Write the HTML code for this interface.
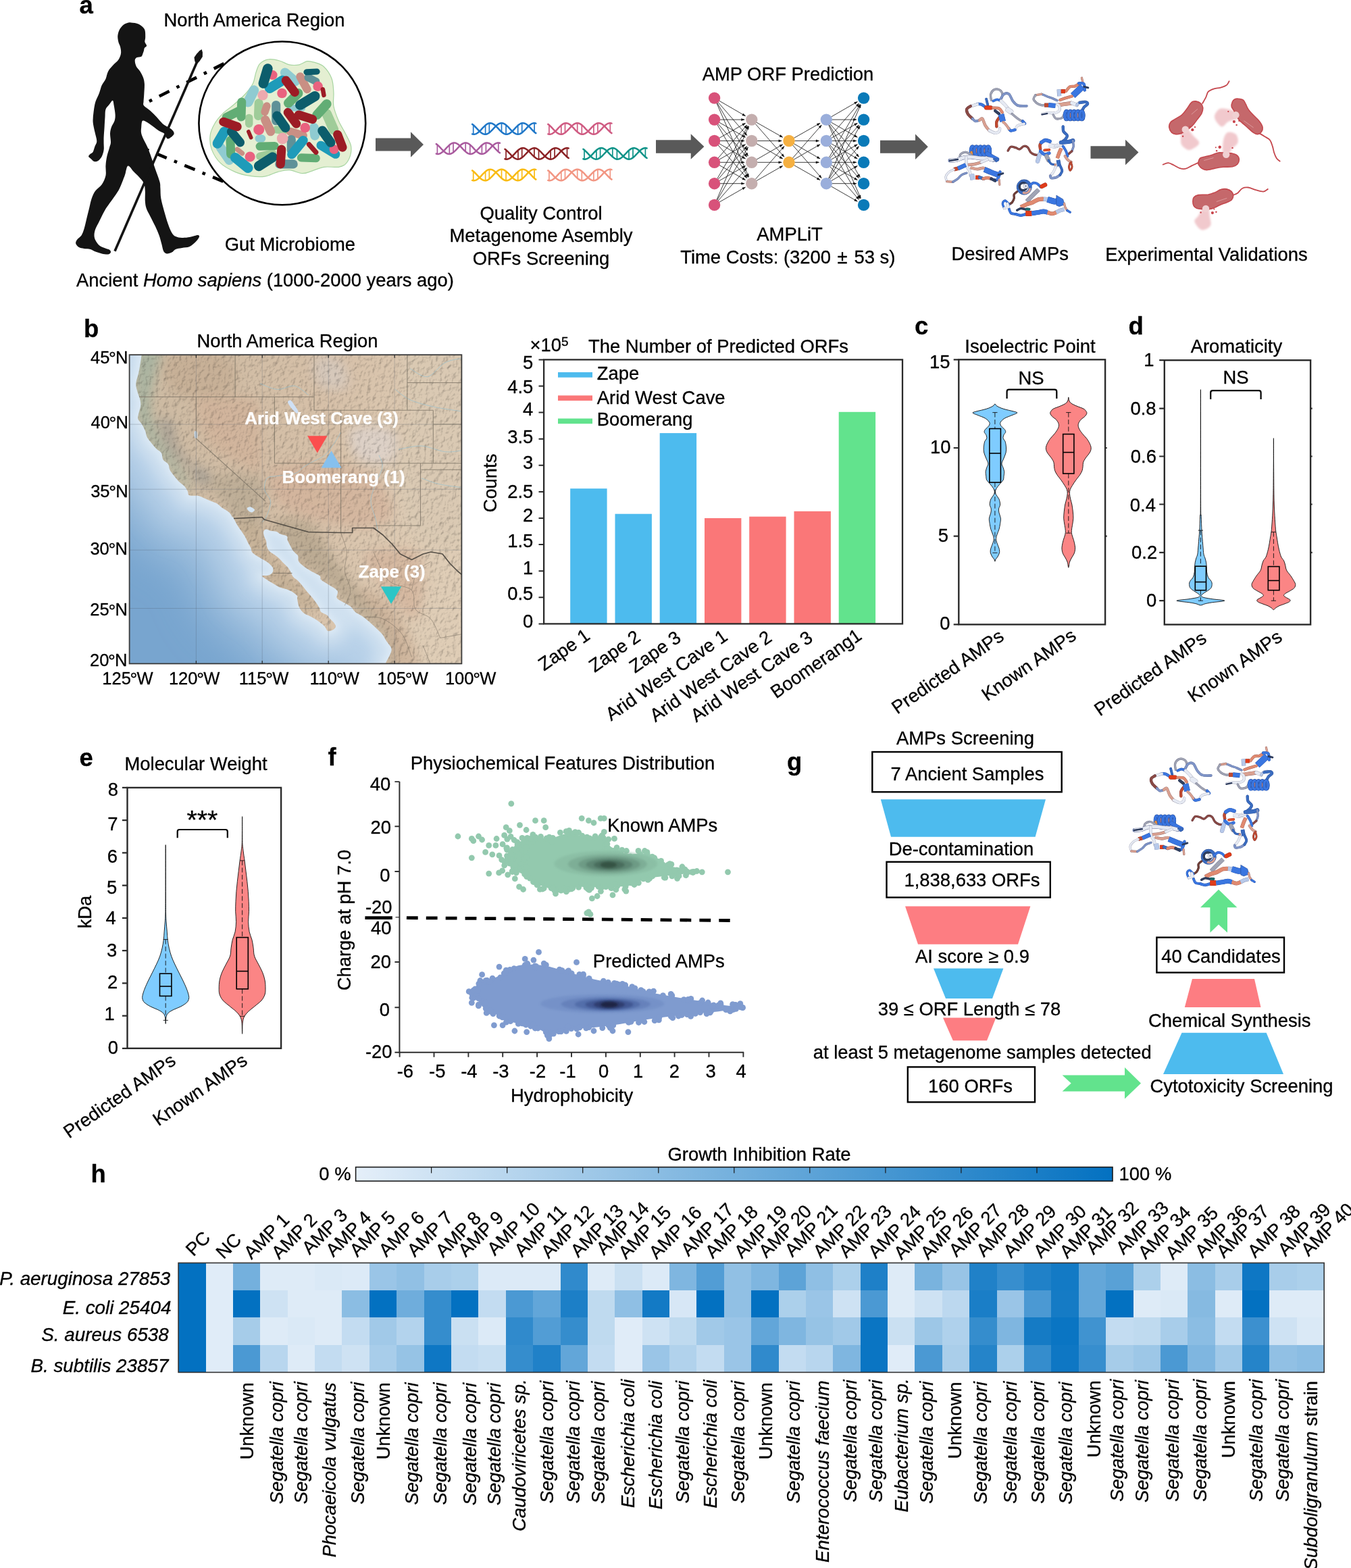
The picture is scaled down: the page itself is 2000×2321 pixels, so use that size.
<!DOCTYPE html>
<html lang="en"><head><meta charset="utf-8"><title>Figure 1</title>
<style>
html,body{margin:0;padding:0;background:#fff}
body{width:2000px;height:2321px;overflow:hidden}
svg{display:block}
svg{font-family:"Liberation Sans",Arial,Helvetica,sans-serif;font-size:27.4px}
svg text{stroke:#000;stroke-width:.32px;stroke-linejoin:round}
svg .wl text{stroke:#fff;stroke-width:.25px}
</style></head><body>
<svg xmlns="http://www.w3.org/2000/svg" width="2000" height="2321" viewBox="0 0 2000 2321">
<defs>
<filter id="blur2" x="-30%" y="-30%" width="160%" height="160%"><feGaussianBlur stdDeviation="1.6"/></filter>
<filter id="blur4" x="-30%" y="-30%" width="160%" height="160%"><feGaussianBlur stdDeviation="4"/></filter>
<filter id="blur8" x="-30%" y="-30%" width="160%" height="160%"><feGaussianBlur stdDeviation="8"/></filter>
<filter id="blur30" x="-40%" y="-40%" width="180%" height="180%"><feGaussianBlur stdDeviation="30"/></filter>
<filter id="blur20" x="-40%" y="-40%" width="180%" height="180%"><feGaussianBlur stdDeviation="20"/></filter>
<filter id="blur10" x="-40%" y="-40%" width="180%" height="180%"><feGaussianBlur stdDeviation="10"/></filter>
<filter id="blur14" x="-30%" y="-30%" width="160%" height="160%"><feGaussianBlur stdDeviation="16"/></filter>
<filter id="relief" x="0" y="0" width="100%" height="100%" color-interpolation-filters="sRGB"><feTurbulence type="fractalNoise" baseFrequency="0.15 0.12" numOctaves="3" seed="11" result="n"/><feDiffuseLighting in="n" surfaceScale="1.25" diffuseConstant="1.3" lighting-color="#ffffff"><feDistantLight azimuth="225" elevation="50"/></feDiffuseLighting></filter>
<linearGradient id="ocean" x1="0" y1="1" x2="0.75" y2="0.15"><stop offset="0" stop-color="#6b9cc9"/><stop offset="0.45" stop-color="#79a7d1"/><stop offset="0.75" stop-color="#9dc0df"/><stop offset="1" stop-color="#c4daee"/></linearGradient>
<linearGradient id="landg" x1="0" y1="0" x2="1" y2="0.2"><stop offset="0" stop-color="#ccbaa2"/><stop offset="0.6" stop-color="#d6c0a8"/><stop offset="1" stop-color="#dfcdb6"/></linearGradient>
<linearGradient id="cbar" x1="0" y1="0" x2="1" y2="0"><stop offset="0" stop-color="#e5eff9"/><stop offset="1" stop-color="#0371c1"/></linearGradient>
</defs>
<g id="pa"><path d="M180.5 170.4L332.8 93.5" stroke="#000" stroke-width="4.6" stroke-dasharray="4.6 12.05 16.6 12.05" fill="none"/><path d="M193.6 211.7L330.4 268.6" stroke="#000" stroke-width="4.6" stroke-dasharray="16.6 12.05 4.6 12.05" stroke-dashoffset="4.4" fill="none"/><path d="M194.1 33.5C196.9 33.8 202.1 34.1 205.4 35.8C208.7 37.4 212.2 40.1 213.9 43.3C215.5 46.4 215.1 51.4 215.2 54.6C215.3 57.7 214.1 59.9 214.4 62.1C214.7 64.3 217.2 66.2 217.1 67.8C217 69.3 214.5 69.9 213.9 71.1C213.2 72.4 213.3 73.9 212.9 75.3C212.5 76.7 212 78 211.4 79.4C210.8 80.8 210.6 82.8 209.2 83.7C207.7 84.7 204.1 84.1 202.6 85.1C201 86 199.9 87.3 199.7 89.4C199.6 91.5 200.4 95.2 201.6 97.9C202.9 100.5 205.5 102.6 207.3 105.4C209 108.2 210.9 111.7 212 114.8C213.1 117.9 213.6 120.1 213.9 124.2C214.1 128.3 213.5 134.9 213.3 139.3C213.1 143.7 212.6 147.7 212.5 150.6C212.5 153.4 211.3 154 212.9 156.2C214.5 158.4 219.2 160.9 222.3 163.7C225.5 166.6 228.6 169.8 231.7 173.1C234.9 176.4 238 180.8 241.1 183.5C244.3 186.2 248 187.4 250.6 189.1C253.1 190.9 255 192.3 256.2 193.8C257.4 195.4 258 197 257.5 198.5C257 200.1 254.9 201.7 253.4 202.9C251.9 204 249.9 205.4 248.7 205.5C247.4 205.6 246.8 204.6 245.9 203.3C244.9 201.9 244.8 199.2 243 197.6C241.3 196 238 195.4 235.5 193.8C233 192.3 230.8 190.2 228 188.2C225.1 186.2 221.4 183.2 218.6 181.6C215.7 180 212.6 177.7 211 178.8C209.5 179.9 209.5 185.1 209.2 188.2C208.8 191.3 208.5 194.5 209.2 197.6C209.8 200.7 211.3 203.6 212.9 207C214.5 210.5 216.7 213.9 218.6 218.3C220.4 222.7 222.3 228 224.2 233.4C226.1 238.7 227.8 244.3 229.9 250.3C231.9 256.3 235.2 264.4 236.4 269.1C237.7 273.8 237.1 274.5 237.4 278.5C237.7 282.6 237.4 287.9 238.3 293.6C239.3 299.2 241.3 306.1 243 312.4C244.8 318.7 246.8 325.9 248.7 331.2C250.6 336.6 252.4 341.3 254.3 344.4C256.2 347.5 257.5 348.8 260 350C262.5 351.3 265.9 351.8 269.4 351.9C272.8 352.1 277.5 351.5 280.7 351C283.8 350.5 286 349.6 288.2 349.1C290.4 348.6 292.7 347.8 293.8 348.2C294.9 348.5 295.4 349.4 294.8 351C294.2 352.6 292.4 355.2 290.1 357.6C287.7 359.9 284.1 363.5 280.7 365.1C277.2 366.7 272.8 366.4 269.4 367C265.9 367.6 262.5 367.8 260 368.9C257.5 370 256.5 372.5 254.3 373.6C252.1 374.7 248.8 375.8 246.8 375.4C244.8 375.1 243.3 374 242.1 371.7C240.8 369.3 240.4 365.3 239.3 361.3C238.2 357.4 237.1 352.6 235.5 348.2C233.9 343.8 232.1 339.7 229.9 335C227.7 330.3 224.5 324.3 222.3 319.9C220.1 315.5 217.9 312.4 216.7 308.6C215.4 304.9 215.1 301.7 214.8 297.3C214.5 293 215.1 286.7 214.8 282.3C214.5 277.9 214.5 274.5 212.9 271C211.3 267.6 207.9 264.4 205.4 261.6C202.9 258.8 200.5 256.7 197.9 254.1C195.2 251.4 191.6 244.7 189.4 245.6C187.2 246.5 186.7 254.2 184.7 259.7C182.6 265.2 179.4 273.8 177.2 278.5C175 283.2 174 284.2 171.5 287.9C169 291.7 164.9 297 162.1 301.1C159.3 305.2 157.1 308 154.6 312.4C152.1 316.8 149.2 323.1 147 327.5C144.9 331.9 142.7 335.3 141.4 338.8C140.1 342.2 139.5 345.3 139.5 348.2C139.5 351 140.1 353.2 141.4 355.7C142.7 358.2 144.9 361.3 147 363.2C149.2 365.1 152.1 365.9 154.6 367C157.1 368.1 160.5 368.7 162.1 369.8C163.7 370.9 164.3 372.5 164 373.6C163.7 374.7 162.4 376.1 160.2 376.4C158 376.7 153.9 376.1 150.8 375.4C147.7 374.8 144.2 373.7 141.4 372.6C138.6 371.5 136.7 369.6 133.9 368.9C131.1 368.1 127.3 368.4 124.5 367.9C121.6 367.5 119 367.3 116.9 366C114.9 364.8 112.7 362.3 112.2 360.4C111.8 358.5 112.7 356.8 114.1 354.7C115.5 352.7 119 350.8 120.7 348.2C122.4 345.5 123.2 342.8 124.5 338.8C125.7 334.7 127 328.7 128.2 323.7C129.5 318.7 130.7 313.7 132 308.6C133.2 303.6 134.2 298 135.8 293.6C137.3 289.2 138.9 285.7 141.4 282.3C143.9 278.8 148.3 276.6 150.8 272.9C153.3 269.1 155.5 264.4 156.5 259.7C157.4 255 156.1 249.4 156.5 244.7C156.8 239.9 157.4 235.9 158.3 231.5C159.3 227.1 161.2 221.8 162.1 218.3C163 214.9 163.8 214.2 164 210.8C164.1 207.3 162.9 201.4 163 197.6C163.2 193.8 163.8 191.3 164.9 188.2C166 185.1 168.7 181.9 169.6 178.8C170.6 175.6 170.7 173.1 170.6 169.4C170.4 165.6 169.3 159.7 168.7 156.2C168.1 152.8 167.9 149 166.8 148.7C165.7 148.4 163.8 152.1 162.1 154.3C160.4 156.5 157.6 158.7 156.5 161.8C155.4 165 155.8 168.7 155.5 173.1C155.2 177.5 154.9 183.2 154.6 188.2C154.3 193.2 153.8 199.2 153.6 203.3C153.5 207.3 153.6 209.5 153.6 212.7C153.6 215.8 154.1 218.9 153.6 222.1C153.2 225.2 152.2 228.8 150.8 231.5C149.4 234.1 147 236.8 145.2 238.1C143.3 239.3 141.2 239.5 139.5 239C137.8 238.5 136.2 236.5 134.8 235.2C133.4 234 131.2 232.7 131.1 231.5C130.9 230.2 132.8 228.8 133.9 227.7C135 226.6 136.5 226.8 137.6 224.9C138.7 223 139.5 219.1 140.5 216.4C141.4 213.8 143.3 212.3 143.3 208.9C143.3 205.4 141.4 200.4 140.5 195.7C139.5 191 138 185.7 137.6 180.7C137.3 175.6 138 170.6 138.6 165.6C139.2 160.6 140 155.3 141.4 150.6C142.8 145.9 145.5 141.5 147 137.4C148.6 133.3 149.2 129.5 150.8 126.1C152.4 122.6 154.9 120.1 156.5 116.7C158 113.2 158.3 108.8 160.2 105.4C162.1 101.9 165.2 98.8 167.8 96C170.3 93.2 173.4 91.3 175.3 88.5C177.2 85.6 178.6 82.2 179 79C179.5 75.9 178.7 72.5 178.1 69.6C177.5 66.8 175.9 64.9 175.3 62.1C174.7 59.3 174 55.8 174.3 52.7C174.7 49.6 175.7 46 177.2 43.3C178.6 40.6 180.9 38.3 182.8 36.7C184.7 35.1 186.6 34.4 188.5 33.9C190.3 33.3 191.3 33.2 194.1 33.5Z" fill="#141414"/><path d="M170 371.7L292.3 90" stroke="#141414" stroke-width="3.6" fill="none"/><path d="M298.6 73L299.9 77.4L299.8 84.1L295.7 90.3L290.6 95.7L288.3 90.3L287.5 84.9L291.1 79.7L295.3 75.3Z" fill="#141414"/><path d="M384.7 94.3C387.8 91.1 392.9 88.5 397.8 87.8C402.6 87 408.7 88.6 413.8 90C418.9 91.3 423.5 94.8 428.4 95.8C433.2 96.8 438.6 96.6 442.9 95.8C447.3 94.9 451 91.3 454.6 90.7C458.2 90.1 460.7 90.8 464.8 92.1C468.9 93.5 475 94.7 479.4 98.7C483.7 102.7 488.6 109.9 491 116.2C493.4 122.5 493.4 129.8 493.9 136.6C494.4 143.4 492.7 149.9 493.9 157C495.1 164 498.3 172 501.2 178.8C504.1 185.6 508.4 191.7 511.4 197.7C514.4 203.8 518.2 209.9 519.4 215.2C520.6 220.6 520 225.2 518.7 229.8C517.3 234.4 514.3 240 511.4 242.9C508.5 245.8 506.5 246.5 501.2 247.3C495.9 248 485.9 246.3 479.4 247.3C472.8 248.2 467.2 251.5 461.9 253.1C456.5 254.7 452.9 257 447.3 256.7C441.7 256.5 434.4 252 428.4 251.6C422.3 251.3 417 253 410.9 254.6C404.8 256.1 398.8 260.1 392 261.1C385.2 262.1 377.4 261.5 370.1 260.4C362.8 259.3 355.5 257.7 348.3 254.6C341 251.4 332.2 247 326.4 241.4C320.6 235.9 315.9 227.8 313.3 221.1C310.8 214.3 310.4 207 311.1 200.7C311.8 194.3 314.6 188.5 317.7 183.2C320.7 177.8 324.7 173.2 329.3 168.6C333.9 164 339.8 160.4 345.4 155.5C350.9 150.6 358 144.8 362.8 139.5C367.7 134.1 371.8 128.8 374.5 123.5C377.2 118.1 377.2 112.3 378.9 107.4C380.6 102.6 381.5 97.6 384.7 94.3Z" fill="#e4efd2" stroke="#a8d5a2" stroke-width="1.2"/><g stroke="#8fcbd1" stroke-linecap="round" fill="none"><path d="M421.8 107.4L437.1 120.5" stroke-width="13.9"/><path d="M375.9 133.7L367.2 151.1" stroke-width="14.7"/><path d="M326.4 218.1L339.5 237.1" stroke-width="13.9"/><path d="M464.8 189L466.2 200.7" stroke-width="13.9"/><path d="M383.2 205L387.6 205" stroke-width="11.4"/><path d="M429.8 159.9L447.3 159.9" stroke-width="9.8"/></g><g stroke="#9fcc99" stroke-linecap="round" fill="none"><path d="M383.2 152.6L382.5 171.5" stroke-width="13.1"/><path d="M483.7 168.6L493.9 191.9" stroke-width="14.7"/><path d="M368.7 174.4L368.7 183.2" stroke-width="11.4"/><path d="M384.7 231.2L403.6 226.9" stroke-width="11.4"/><path d="M409.4 191.9L421.1 193.4" stroke-width="11.4"/></g><g stroke="#c98f84" stroke-linecap="round" fill="none"><path d="M444.4 113.3L454.6 132.2" stroke-width="12.2"/><path d="M394.9 157L392 165.7" stroke-width="11.4"/><path d="M392.7 177.4L400.7 194.8" stroke-width="13.1"/><path d="M429.8 194.8L448.8 200.7" stroke-width="12.2"/><path d="M351.2 221.1L358.5 226.9" stroke-width="7.3"/></g><g stroke="#5f9198" stroke-linecap="round" fill="none"><path d="M408.7 155.5L408.7 178.8" stroke-width="13.1"/><path d="M456.1 114.7L467.7 120.5" stroke-width="11.4"/><path d="M431.3 206.5L431.3 222.5" stroke-width="13.1"/><path d="M413.8 242.9L434.2 242.9" stroke-width="13.1"/></g><g stroke="#62ad75" stroke-linecap="round" fill="none"><path d="M357.7 151.1L357 173" stroke-width="13.1"/><path d="M335.2 173.7L354.1 164.2" stroke-width="13.1"/><path d="M426.9 152.6L441.5 138" stroke-width="13.9"/><path d="M469.2 170.1L483.7 154" stroke-width="13.9"/><path d="M384.7 216.7L406.5 216" stroke-width="12.2"/><path d="M341 207.9L341.7 228.3" stroke-width="13.1"/><path d="M445.9 233.4L467.7 234.2" stroke-width="12.2"/></g><g stroke="#1e9bb9" stroke-linecap="round" fill="none"><path d="M399.2 130.7L418.2 119.1" stroke-width="14.7"/><path d="M332.2 194.8L322 212.3" stroke-width="14.7"/><path d="M348.3 233.4L367.2 248.7" stroke-width="14.7"/><path d="M432 228.3L448.8 207.9" stroke-width="13.9"/><path d="M475 215.2L496.8 228.3" stroke-width="13.1"/></g><g fill="#e9627f"><circle cx="403.6" cy="111.1" r="7"/><circle cx="417.5" cy="138" r="7.3"/><circle cx="470.6" cy="127.8" r="7.3"/><circle cx="383.2" cy="191.9" r="8"/><circle cx="451.7" cy="189" r="7.3"/><circle cx="370.1" cy="232" r="7.6"/><circle cx="494.6" cy="221.1" r="7"/></g><g fill="#eda9ae"><circle cx="389" cy="140.9" r="7.6"/><circle cx="418.2" cy="205" r="8.4"/></g><g stroke="#0c5d6c" stroke-linecap="round" fill="none"><path d="M396.3 101.6L389.8 123.5" stroke-width="14.7"/><path d="M453.9 106.7L469.2 106" stroke-width="9"/><path d="M444.4 155.5L466.2 142.4" stroke-width="14.7"/><path d="M410.2 171.5L422.5 189" stroke-width="13.9"/><path d="M342.4 194.8L355.5 210.9" stroke-width="13.1"/><path d="M477.2 193.4L489.6 210.9" stroke-width="13.9"/><path d="M383.2 245.8L403.6 232.7" stroke-width="14.7"/></g><g stroke="#9c1c25" stroke-linecap="round" fill="none"><path d="M423.3 119.1L436.4 136.6" stroke-width="13.1"/><path d="M330.8 180.3L351.2 187.5" stroke-width="13.1"/><path d="M426.2 166.4L438.6 183.2" stroke-width="13.1"/><path d="M442.2 170.1L462.6 176.6" stroke-width="13.1"/><path d="M416.7 221.1L415.3 242.9" stroke-width="13.1"/><path d="M499.7 199.2L507 218.1" stroke-width="13.1"/><path d="M477.9 132.2L479.4 140.9" stroke-width="6.5"/><path d="M367.9 194.8L371.6 203.6" stroke-width="5.7"/><path d="M457.5 213.8L467.7 225.4" stroke-width="7.3"/></g><ellipse cx="417.8" cy="182.4" rx="123.4" ry="120.9" fill="none" stroke="#000" stroke-width="2.6"/><path d="M556 204.5L608 204.5L608 195.2L627 214L608 232.8L608 223.5L556 223.5Z" fill="#595959"/><path d="M971 207.2L1022.7 207.2L1022.7 198.2L1042.4 217L1022.7 235.8L1022.7 226.8L971 226.8Z" fill="#595959"/><path d="M1303 207.8L1355 207.8L1355 198.6L1373.8 217.3L1355 236.1L1355 226.8L1303 226.8Z" fill="#595959"/><path d="M1614.5 216.2L1666 216.2L1666 206.8L1685.5 225.5L1666 244.2L1666 234.8L1614.5 234.8Z" fill="#595959"/><g stroke="#1f77c8" fill="none" stroke-width="2.5" stroke-linecap="round" stroke-linejoin="round"><path d="M699.1 183.9L700.7 185L702.2 186.4L703.8 188L705.4 189.6L707 191.3L708.5 193L710.1 194.5L711.7 195.9L713.2 197.1L714.8 198L716.4 198.5L717.9 198.8L719.5 198.7L721.1 198.3L722.6 197.5L724.2 196.5L725.8 195.2L727.4 193.7L728.9 192.1L730.5 190.4L732.1 188.7L733.6 187.1L735.2 185.6L736.8 184.4L738.4 183.4L739.9 182.7L741.5 182.3L743.1 182.2L744.6 182.5L746.2 183.1L747.8 184.1L749.3 185.3L750.9 186.7L752.5 188.2L754.1 189.9L755.6 191.6L757.2 193.2L758.8 194.8L760.3 196.1L761.9 197.2L763.5 198.1L765 198.6L766.6 198.8L768.2 198.6L769.8 198.2L771.3 197.4L772.9 196.3L774.5 194.9L776 193.4L777.6 191.8L779.2 190.1L780.7 188.4L782.3 186.8L783.9 185.4L785.5 184.2L787 183.2L788.6 182.6L790.2 182.2L791.7 182.2L793.3 182.6"/><path d="M699.1 198.4L700.7 198.8L702.2 198.8L703.8 198.4L705.4 197.8L707 196.8L708.5 195.6L710.1 194.2L711.7 192.6L713.2 190.9L714.8 189.2L716.4 187.6L717.9 186.1L719.5 184.7L721.1 183.6L722.6 182.8L724.2 182.4L725.8 182.2L727.4 182.4L728.9 182.9L730.5 183.8L732.1 184.9L733.6 186.2L735.2 187.8L736.8 189.4L738.4 191.1L739.9 192.8L741.5 194.3L743.1 195.7L744.6 196.9L746.2 197.9L747.8 198.5L749.3 198.8L750.9 198.7L752.5 198.3L754.1 197.6L755.6 196.6L757.2 195.4L758.8 193.9L760.3 192.3L761.9 190.6L763.5 188.9L765 187.3L766.6 185.8L768.2 184.5L769.8 183.5L771.3 182.7L772.9 182.3L774.5 182.2L776 182.5L777.6 183L779.2 183.9L780.7 185.1L782.3 186.5L783.9 188L785.5 189.7L787 191.4L788.6 193L790.2 194.6L791.7 196L793.3 197.1"/><path d="M700.7 185.1V198.8M718.6 198.8V185.5M724.3 196.4V182.3M742.5 182.2V195.3M749.1 185.1V198.8M766.7 198.8V185.7M772.7 196.4V182.3M791.1 182.2V195.4" stroke-width="1.7"/></g><g stroke="#cf5b82" fill="none" stroke-width="2.5" stroke-linecap="round" stroke-linejoin="round"><path d="M811.3 183.9L812.9 185L814.4 186.4L816 188L817.6 189.6L819.1 191.3L820.7 193L822.3 194.5L823.9 195.9L825.4 197.1L827 198L828.6 198.5L830.1 198.8L831.7 198.7L833.3 198.3L834.8 197.5L836.4 196.5L838 195.2L839.6 193.7L841.1 192.1L842.7 190.4L844.3 188.7L845.8 187.1L847.4 185.6L849 184.4L850.5 183.4L852.1 182.7L853.7 182.3L855.3 182.2L856.8 182.5L858.4 183.1L860 184.1L861.5 185.3L863.1 186.7L864.7 188.2L866.2 189.9L867.8 191.6L869.4 193.2L871 194.8L872.5 196.1L874.1 197.2L875.7 198.1L877.2 198.6L878.8 198.8L880.4 198.6L881.9 198.2L883.5 197.4L885.1 196.3L886.7 194.9L888.2 193.4L889.8 191.8L891.4 190.1L892.9 188.4L894.5 186.8L896.1 185.4L897.6 184.2L899.2 183.2L900.8 182.6L902.4 182.2L903.9 182.2L905.5 182.6"/><path d="M811.3 198.4L812.9 198.8L814.4 198.8L816 198.4L817.6 197.8L819.1 196.8L820.7 195.6L822.3 194.2L823.9 192.6L825.4 190.9L827 189.2L828.6 187.6L830.1 186.1L831.7 184.7L833.3 183.6L834.8 182.8L836.4 182.4L838 182.2L839.6 182.4L841.1 182.9L842.7 183.8L844.3 184.9L845.8 186.2L847.4 187.8L849 189.4L850.5 191.1L852.1 192.8L853.7 194.3L855.3 195.7L856.8 196.9L858.4 197.9L860 198.5L861.5 198.8L863.1 198.7L864.7 198.3L866.2 197.6L867.8 196.6L869.4 195.4L871 193.9L872.5 192.3L874.1 190.6L875.7 188.9L877.2 187.3L878.8 185.8L880.4 184.5L881.9 183.5L883.5 182.7L885.1 182.3L886.7 182.2L888.2 182.5L889.8 183L891.4 183.9L892.9 185.1L894.5 186.5L896.1 188L897.6 189.7L899.2 191.4L900.8 193L902.4 194.6L903.9 196L905.5 197.1"/><path d="M812.9 185.1V198.8M830.8 198.8V185.5M836.5 196.4V182.3M854.7 182.2V195.3M861.3 185.1V198.8M878.9 198.8V185.7M884.9 196.4V182.3M903.3 182.2V195.4" stroke-width="1.7"/></g><g stroke="#a95a9e" fill="none" stroke-width="2.5" stroke-linecap="round" stroke-linejoin="round"><path d="M645.8 213.1L647.4 214.2L648.9 215.6L650.5 217.2L652.1 218.8L653.6 220.5L655.2 222.2L656.8 223.7L658.4 225.1L659.9 226.3L661.5 227.2L663.1 227.7L664.6 228L666.2 227.9L667.8 227.5L669.3 226.7L670.9 225.7L672.5 224.4L674.1 222.9L675.6 221.3L677.2 219.6L678.8 217.9L680.3 216.3L681.9 214.8L683.5 213.6L685 212.6L686.6 211.9L688.2 211.5L689.8 211.4L691.3 211.7L692.9 212.3L694.5 213.3L696 214.5L697.6 215.9L699.2 217.4L700.8 219.1L702.3 220.8L703.9 222.4L705.5 224L707 225.3L708.6 226.4L710.2 227.3L711.7 227.8L713.3 228L714.9 227.8L716.4 227.4L718 226.6L719.6 225.5L721.2 224.1L722.7 222.6L724.3 221L725.9 219.3L727.4 217.6L729 216L730.6 214.6L732.1 213.4L733.7 212.4L735.3 211.8L736.9 211.4L738.4 211.4L740 211.8"/><path d="M645.8 227.6L647.4 228L648.9 228L650.5 227.6L652.1 227L653.6 226L655.2 224.8L656.8 223.4L658.4 221.8L659.9 220.1L661.5 218.4L663.1 216.8L664.6 215.3L666.2 213.9L667.8 212.8L669.3 212L670.9 211.6L672.5 211.4L674.1 211.6L675.6 212.1L677.2 213L678.8 214.1L680.3 215.4L681.9 217L683.5 218.6L685 220.3L686.6 222L688.2 223.5L689.8 224.9L691.3 226.1L692.9 227.1L694.5 227.7L696 228L697.6 227.9L699.2 227.5L700.8 226.8L702.3 225.8L703.9 224.6L705.5 223.1L707 221.5L708.6 219.8L710.2 218.1L711.7 216.5L713.3 215L714.9 213.7L716.4 212.7L718 211.9L719.6 211.5L721.2 211.4L722.7 211.7L724.3 212.2L725.9 213.1L727.4 214.3L729 215.7L730.6 217.2L732.1 218.9L733.7 220.6L735.3 222.2L736.9 223.8L738.4 225.2L740 226.3"/><path d="M647.4 214.3V228M665.3 228V214.7M671 225.6V211.5M689.2 211.4V224.5M695.8 214.3V228M713.4 228V214.9M719.4 225.6V211.5M737.8 211.4V224.6" stroke-width="1.7"/></g><g stroke="#8b2225" fill="none" stroke-width="2.5" stroke-linecap="round" stroke-linejoin="round"><path d="M747.5 220.8L749.1 221.9L750.6 223.3L752.2 224.9L753.8 226.5L755.4 228.2L756.9 229.9L758.5 231.4L760.1 232.8L761.6 234L763.2 234.9L764.8 235.4L766.3 235.7L767.9 235.6L769.5 235.2L771 234.4L772.6 233.4L774.2 232.1L775.8 230.6L777.3 229L778.9 227.3L780.5 225.6L782 224L783.6 222.5L785.2 221.3L786.8 220.3L788.3 219.6L789.9 219.2L791.5 219.1L793 219.4L794.6 220L796.2 221L797.7 222.2L799.3 223.6L800.9 225.1L802.5 226.8L804 228.5L805.6 230.1L807.2 231.7L808.7 233L810.3 234.1L811.9 235L813.4 235.5L815 235.7L816.6 235.5L818.1 235.1L819.7 234.3L821.3 233.2L822.9 231.8L824.4 230.3L826 228.7L827.6 227L829.1 225.3L830.7 223.7L832.3 222.3L833.9 221.1L835.4 220.1L837 219.5L838.6 219.1L840.1 219.1L841.7 219.5"/><path d="M747.5 235.3L749.1 235.7L750.6 235.7L752.2 235.3L753.8 234.7L755.4 233.7L756.9 232.5L758.5 231.1L760.1 229.5L761.6 227.8L763.2 226.1L764.8 224.5L766.3 223L767.9 221.6L769.5 220.5L771 219.7L772.6 219.3L774.2 219.1L775.8 219.3L777.3 219.8L778.9 220.7L780.5 221.8L782 223.1L783.6 224.7L785.2 226.3L786.8 228L788.3 229.7L789.9 231.2L791.5 232.6L793 233.8L794.6 234.8L796.2 235.4L797.7 235.7L799.3 235.6L800.9 235.2L802.5 234.5L804 233.5L805.6 232.3L807.2 230.8L808.7 229.2L810.3 227.5L811.9 225.8L813.4 224.2L815 222.7L816.6 221.4L818.1 220.4L819.7 219.6L821.3 219.2L822.9 219.1L824.4 219.4L826 219.9L827.6 220.8L829.1 222L830.7 223.4L832.3 224.9L833.9 226.6L835.4 228.3L837 229.9L838.6 231.5L840.1 232.9L841.7 234"/><path d="M749.1 222V235.7M767 235.7V222.4M772.7 233.3V219.2M790.9 219.1V232.2M797.5 222V235.7M815.1 235.7V222.6M821.1 233.3V219.2M839.5 219.1V232.3" stroke-width="1.7"/></g><g stroke="#0e9388" fill="none" stroke-width="2.5" stroke-linecap="round" stroke-linejoin="round"><path d="M863.4 220.8L865 221.9L866.5 223.3L868.1 224.9L869.7 226.5L871.2 228.2L872.8 229.9L874.4 231.4L876 232.8L877.5 234L879.1 234.9L880.7 235.4L882.2 235.7L883.8 235.6L885.4 235.2L886.9 234.4L888.5 233.4L890.1 232.1L891.7 230.6L893.2 229L894.8 227.3L896.4 225.6L897.9 224L899.5 222.5L901.1 221.3L902.6 220.3L904.2 219.6L905.8 219.2L907.4 219.1L908.9 219.4L910.5 220L912.1 221L913.6 222.2L915.2 223.6L916.8 225.1L918.4 226.8L919.9 228.5L921.5 230.1L923.1 231.7L924.6 233L926.2 234.1L927.8 235L929.3 235.5L930.9 235.7L932.5 235.5L934 235.1L935.6 234.3L937.2 233.2L938.8 231.8L940.3 230.3L941.9 228.7L943.5 227L945 225.3L946.6 223.7L948.2 222.3L949.8 221.1L951.3 220.1L952.9 219.5L954.5 219.1L956 219.1L957.6 219.5"/><path d="M863.4 235.3L865 235.7L866.5 235.7L868.1 235.3L869.7 234.7L871.2 233.7L872.8 232.5L874.4 231.1L876 229.5L877.5 227.8L879.1 226.1L880.7 224.5L882.2 223L883.8 221.6L885.4 220.5L886.9 219.7L888.5 219.3L890.1 219.1L891.7 219.3L893.2 219.8L894.8 220.7L896.4 221.8L897.9 223.1L899.5 224.7L901.1 226.3L902.6 228L904.2 229.7L905.8 231.2L907.4 232.6L908.9 233.8L910.5 234.8L912.1 235.4L913.6 235.7L915.2 235.6L916.8 235.2L918.4 234.5L919.9 233.5L921.5 232.3L923.1 230.8L924.6 229.2L926.2 227.5L927.8 225.8L929.3 224.2L930.9 222.7L932.5 221.4L934 220.4L935.6 219.6L937.2 219.2L938.8 219.1L940.3 219.4L941.9 219.9L943.5 220.8L945 222L946.6 223.4L948.2 224.9L949.8 226.6L951.3 228.3L952.9 229.9L954.5 231.5L956 232.9L957.6 234"/><path d="M865 222V235.7M882.9 235.7V222.4M888.6 233.3V219.2M906.8 219.1V232.2M913.4 222V235.7M931 235.7V222.6M937 233.3V219.2M955.4 219.1V232.3" stroke-width="1.7"/></g><g stroke="#f9bb12" fill="none" stroke-width="2.5" stroke-linecap="round" stroke-linejoin="round"><path d="M699.1 252.4L700.7 253.5L702.2 254.9L703.8 256.5L705.4 258.1L707 259.8L708.5 261.5L710.1 263L711.7 264.4L713.2 265.6L714.8 266.5L716.4 267L717.9 267.3L719.5 267.2L721.1 266.8L722.6 266L724.2 265L725.8 263.7L727.4 262.2L728.9 260.6L730.5 258.9L732.1 257.2L733.6 255.6L735.2 254.1L736.8 252.9L738.4 251.9L739.9 251.2L741.5 250.8L743.1 250.7L744.6 251L746.2 251.6L747.8 252.6L749.3 253.8L750.9 255.2L752.5 256.7L754.1 258.4L755.6 260.1L757.2 261.7L758.8 263.3L760.3 264.6L761.9 265.7L763.5 266.6L765 267.1L766.6 267.3L768.2 267.1L769.8 266.7L771.3 265.9L772.9 264.8L774.5 263.4L776 261.9L777.6 260.3L779.2 258.6L780.7 256.9L782.3 255.3L783.9 253.9L785.5 252.7L787 251.7L788.6 251.1L790.2 250.7L791.7 250.7L793.3 251.1"/><path d="M699.1 266.9L700.7 267.3L702.2 267.3L703.8 266.9L705.4 266.3L707 265.3L708.5 264.1L710.1 262.7L711.7 261.1L713.2 259.4L714.8 257.7L716.4 256.1L717.9 254.6L719.5 253.2L721.1 252.1L722.6 251.3L724.2 250.9L725.8 250.7L727.4 250.9L728.9 251.4L730.5 252.3L732.1 253.4L733.6 254.7L735.2 256.3L736.8 257.9L738.4 259.6L739.9 261.3L741.5 262.8L743.1 264.2L744.6 265.4L746.2 266.4L747.8 267L749.3 267.3L750.9 267.2L752.5 266.8L754.1 266.1L755.6 265.1L757.2 263.9L758.8 262.4L760.3 260.8L761.9 259.1L763.5 257.4L765 255.8L766.6 254.3L768.2 253L769.8 252L771.3 251.2L772.9 250.8L774.5 250.7L776 251L777.6 251.5L779.2 252.4L780.7 253.6L782.3 255L783.9 256.5L785.5 258.2L787 259.9L788.6 261.5L790.2 263.1L791.7 264.5L793.3 265.6"/><path d="M700.7 253.6V267.3M718.6 267.3V254M724.3 264.9V250.8M742.5 250.7V263.8M749.1 253.6V267.3M766.7 267.3V254.2M772.7 264.9V250.8M791.1 250.7V263.9" stroke-width="1.7"/></g><g stroke="#f29683" fill="none" stroke-width="2.5" stroke-linecap="round" stroke-linejoin="round"><path d="M811.3 252.4L812.9 253.5L814.4 254.9L816 256.5L817.6 258.1L819.1 259.8L820.7 261.5L822.3 263L823.9 264.4L825.4 265.6L827 266.5L828.6 267L830.1 267.3L831.7 267.2L833.3 266.8L834.8 266L836.4 265L838 263.7L839.6 262.2L841.1 260.6L842.7 258.9L844.3 257.2L845.8 255.6L847.4 254.1L849 252.9L850.5 251.9L852.1 251.2L853.7 250.8L855.3 250.7L856.8 251L858.4 251.6L860 252.6L861.5 253.8L863.1 255.2L864.7 256.7L866.2 258.4L867.8 260.1L869.4 261.7L871 263.3L872.5 264.6L874.1 265.7L875.7 266.6L877.2 267.1L878.8 267.3L880.4 267.1L881.9 266.7L883.5 265.9L885.1 264.8L886.7 263.4L888.2 261.9L889.8 260.3L891.4 258.6L892.9 256.9L894.5 255.3L896.1 253.9L897.6 252.7L899.2 251.7L900.8 251.1L902.4 250.7L903.9 250.7L905.5 251.1"/><path d="M811.3 266.9L812.9 267.3L814.4 267.3L816 266.9L817.6 266.3L819.1 265.3L820.7 264.1L822.3 262.7L823.9 261.1L825.4 259.4L827 257.7L828.6 256.1L830.1 254.6L831.7 253.2L833.3 252.1L834.8 251.3L836.4 250.9L838 250.7L839.6 250.9L841.1 251.4L842.7 252.3L844.3 253.4L845.8 254.7L847.4 256.3L849 257.9L850.5 259.6L852.1 261.3L853.7 262.8L855.3 264.2L856.8 265.4L858.4 266.4L860 267L861.5 267.3L863.1 267.2L864.7 266.8L866.2 266.1L867.8 265.1L869.4 263.9L871 262.4L872.5 260.8L874.1 259.1L875.7 257.4L877.2 255.8L878.8 254.3L880.4 253L881.9 252L883.5 251.2L885.1 250.8L886.7 250.7L888.2 251L889.8 251.5L891.4 252.4L892.9 253.6L894.5 255L896.1 256.5L897.6 258.2L899.2 259.9L900.8 261.5L902.4 263.1L903.9 264.5L905.5 265.6"/><path d="M812.9 253.6V267.3M830.8 267.3V254M836.5 264.9V250.8M854.7 250.7V263.8M861.3 253.6V267.3M878.9 267.3V254.2M884.9 264.9V250.8M903.3 250.7V263.9" stroke-width="1.7"/></g><path d="M1064.7 149.2L1103.4 171.6M1063 151.3L1105.6 200.3M1061.7 152.2L1107.3 230.9M1060.9 152.6L1108.4 261.7M1065.8 177.1L1101.9 177.1M1064.7 181.2L1103.3 203.1M1063 183.3L1105.6 232.1M1061.7 184.2L1107.3 262.3M1064.7 204.4L1103.3 182.5M1065.8 208.5L1101.9 208.5M1064.7 212.6L1103.4 234.9M1063 214.7L1105.6 263.5M1063 234.1L1105.6 185.3M1064.7 236.2L1103.4 213.9M1065.8 240.3L1101.9 240.3M1064.7 244.4L1103.3 266.3M1061.7 264.6L1107.3 186.5M1063 265.5L1105.6 216.7M1064.7 267.6L1103.3 245.7M1065.8 271.7L1101.9 271.7M1060.9 295.9L1108.4 187.1M1061.7 296.3L1107.3 217.9M1063 297.2L1105.6 248.5M1064.7 299.3L1103.3 277.1M1119.9 181.2L1158.5 203.1M1118.2 183.3L1160.8 232.1M1121 208.5L1157.1 208.5M1119.9 212.6L1158.6 234.9M1119.9 236.2L1158.6 213.9M1121 240.3L1157.1 240.3M1118.2 265.5L1160.8 216.7M1119.9 267.6L1158.5 245.7M1175.1 204.5L1213.8 182.5M1176.2 208.5L1212.4 208.5M1175.1 212.6L1213.9 234.9M1173.4 214.7L1216.1 263.5M1173.4 234.1L1216.1 185.3M1175.1 236.2L1213.9 213.9M1176.2 240.3L1212.4 240.3M1175.1 244.3L1213.8 266.3M1230.4 173L1269.2 150.6M1231.5 177.1L1267.7 177.1M1230.4 181.1L1269.1 203.1M1228.7 183.3L1271.4 232.1M1227.4 184.2L1273.1 262.3M1226.6 184.6L1274.2 293.4M1228.7 202.3L1271.4 153.3M1230.4 204.5L1269.1 182.5M1231.5 208.5L1267.7 208.5M1230.4 212.6L1269.2 234.9M1228.7 214.7L1271.4 263.5M1227.4 215.6L1273.1 294M1227.4 233.2L1273.1 154.5M1228.7 234.1L1271.4 185.3M1230.4 236.2L1269.2 213.9M1231.5 240.3L1267.7 240.3M1230.4 244.3L1269.1 266.3M1228.7 246.5L1271.4 295.2M1226.6 264.2L1274.2 155.1M1227.4 264.6L1273.1 186.5M1228.7 265.5L1271.4 216.7M1230.4 267.7L1269.1 245.7M1231.5 271.7L1267.7 271.7M1230.4 275.8L1269.1 298" stroke="#1a1a1a" stroke-width="0.85" fill="none"/><path d="M1104.1 172L1098.4 171L1100.3 167.7ZM1106.2 200.9L1101.2 198.1L1104.1 195.6ZM1107.7 231.6L1103.4 227.8L1106.7 225.9ZM1108.8 262.4L1104.9 258.3L1108.3 256.7ZM1102.7 177.1L1097.3 179L1097.3 175.2ZM1104 203.5L1098.4 202.5L1100.3 199.2ZM1106.2 232.7L1101.2 229.9L1104 227.4ZM1107.7 263L1103.3 259.3L1106.6 257.4ZM1104 182.1L1100.3 186.4L1098.4 183.1ZM1102.7 208.5L1097.3 210.4L1097.3 206.6ZM1104 235.3L1098.4 234.2L1100.3 230.9ZM1106.2 264.1L1101.2 261.3L1104 258.8ZM1106.2 184.7L1104 190L1101.2 187.5ZM1104 213.5L1100.3 217.9L1098.4 214.6ZM1102.7 240.3L1097.3 242.2L1097.3 238.4ZM1104 266.7L1098.4 265.7L1100.3 262.4ZM1107.7 185.8L1106.6 191.4L1103.3 189.5ZM1106.2 216.1L1104 221.4L1101.2 218.9ZM1104 245.3L1100.3 249.6L1098.4 246.3ZM1102.7 271.7L1097.3 273.6L1097.3 269.8ZM1108.8 186.4L1108.3 192.1L1104.9 190.5ZM1107.7 217.2L1106.6 222.9L1103.4 220.9ZM1106.1 247.9L1104 253.2L1101.2 250.7ZM1104 276.7L1100.3 281.1L1098.4 277.8ZM1159.2 203.5L1153.6 202.5L1155.5 199.2ZM1161.4 232.7L1156.4 229.9L1159.2 227.4ZM1157.9 208.5L1152.5 210.4L1152.5 206.6ZM1159.2 235.3L1153.6 234.2L1155.5 230.9ZM1159.2 213.5L1155.5 217.9L1153.6 214.6ZM1157.9 240.3L1152.5 242.2L1152.5 238.4ZM1161.4 216.1L1159.2 221.4L1156.4 218.9ZM1159.2 245.3L1155.5 249.6L1153.6 246.3ZM1214.5 182.1L1210.8 186.4L1208.9 183.1ZM1213.2 208.5L1207.8 210.4L1207.8 206.6ZM1214.5 235.3L1208.9 234.2L1210.8 230.9ZM1216.6 264.1L1211.7 261.3L1214.5 258.8ZM1216.6 184.7L1214.5 190L1211.7 187.5ZM1214.5 213.5L1210.8 217.9L1208.9 214.6ZM1213.2 240.3L1207.8 242.2L1207.8 238.4ZM1214.5 266.7L1208.9 265.7L1210.8 262.4ZM1269.9 150.2L1266.1 154.5L1264.2 151.2ZM1268.5 177.1L1263.1 179L1263.1 175.2ZM1269.8 203.5L1264.2 202.5L1266.1 199.2ZM1271.9 232.7L1267 229.9L1269.8 227.4ZM1273.5 263L1269.1 259.3L1272.4 257.4ZM1274.5 294.1L1270.6 290L1274.1 288.4ZM1272 152.7L1269.8 158L1267 155.5ZM1269.8 182.1L1266.1 186.4L1264.2 183.1ZM1268.5 208.5L1263.1 210.4L1263.1 206.6ZM1269.8 235.3L1264.2 234.2L1266.1 230.9ZM1271.9 264.1L1267 261.3L1269.8 258.8ZM1273.5 294.7L1269.2 291L1272.4 289.1ZM1273.5 153.8L1272.5 159.5L1269.2 157.5ZM1271.9 184.7L1269.8 190L1267 187.5ZM1269.8 213.5L1266.1 217.9L1264.2 214.6ZM1268.5 240.3L1263.1 242.2L1263.1 238.4ZM1269.8 266.7L1264.2 265.7L1266.1 262.4ZM1271.9 295.8L1267 293L1269.8 290.5ZM1274.6 154.4L1274.1 160.1L1270.7 158.5ZM1273.5 185.8L1272.4 191.4L1269.1 189.5ZM1271.9 216.1L1269.8 221.4L1267 218.9ZM1269.8 245.3L1266.1 249.6L1264.2 246.3ZM1268.5 271.7L1263.1 273.6L1263.1 269.8ZM1269.8 298.4L1264.2 297.3L1266.1 294Z" fill="#111"/><g fill="#d8527a"><circle cx="1057.6" cy="145.1" r="8.7"/><circle cx="1057.6" cy="177.1" r="8.7"/><circle cx="1057.6" cy="208.5" r="8.7"/><circle cx="1057.6" cy="240.3" r="8.7"/><circle cx="1057.6" cy="271.7" r="8.7"/><circle cx="1057.6" cy="303.4" r="8.7"/></g><g fill="#c4aeae"><circle cx="1112.8" cy="177.1" r="8.7"/><circle cx="1112.8" cy="208.5" r="8.7"/><circle cx="1112.8" cy="240.3" r="8.7"/><circle cx="1112.8" cy="271.7" r="8.7"/></g><g fill="#f5b041"><circle cx="1168" cy="208.5" r="8.7"/><circle cx="1168" cy="240.3" r="8.7"/></g><g fill="#9aaedb"><circle cx="1223.3" cy="177.1" r="8.7"/><circle cx="1223.3" cy="208.5" r="8.7"/><circle cx="1223.3" cy="240.3" r="8.7"/><circle cx="1223.3" cy="271.7" r="8.7"/></g><g fill="#0a7ab8"><circle cx="1278.6" cy="145.1" r="8.7"/><circle cx="1278.6" cy="177.1" r="8.7"/><circle cx="1278.6" cy="208.5" r="8.7"/><circle cx="1278.6" cy="240.3" r="8.7"/><circle cx="1278.6" cy="271.7" r="8.7"/><circle cx="1278.6" cy="303.4" r="8.7"/></g><g transform="translate(1380 100)"><g fill="none" stroke-linejoin="round"><path d="M87.4 48.1C87.3 46.6 85.9 41.9 86.7 39.3C87.4 36.8 89.7 33.9 91.8 32.8C93.8 31.7 97.1 31.9 99 32.8C101 33.6 103 36.1 103.7 37.9C104.4 39.7 104 42 103.4 43.7C102.9 45.4 101 47.3 100.5 48.1" stroke="#70728a" stroke-width="3.3" stroke-linecap="round"/><path d="M87.4 48.1C87.3 46.6 85.9 41.9 86.7 39.3C87.4 36.8 89.7 33.9 91.8 32.8C93.8 31.7 97.1 31.9 99 32.8C101 33.6 103 36.1 103.7 37.9C104.4 39.7 104 42 103.4 43.7C102.9 45.4 101 47.3 100.5 48.1" stroke="#a0a4b4" stroke-width="2.5" stroke-linecap="round"/><path d="M100.5 48.1C101.5 46.6 104.1 40.8 106.3 39.3C108.5 37.9 111.4 37.6 113.6 39.3C115.8 41 117.3 46.7 119.4 49.5C121.6 52.3 123.3 54.9 126.7 56.1C130.1 57.3 137.6 56.7 139.8 56.8" stroke="#586898" stroke-width="3.8" stroke-linecap="round"/><path d="M100.5 48.1C101.5 46.6 104.1 40.8 106.3 39.3C108.5 37.9 111.4 37.6 113.6 39.3C115.8 41 117.3 46.7 119.4 49.5C121.6 52.3 123.3 54.9 126.7 56.1C130.1 57.3 137.6 56.7 139.8 56.8" stroke="#7f95c8" stroke-width="3.1" stroke-linecap="round"/><path d="M78.7 58.3C77.7 57.7 74.8 55.4 72.8 54.6C70.9 53.9 68 54 67 53.9" stroke="#2852a8" stroke-width="4.3" stroke-linecap="round"/><path d="M78.7 58.3C77.7 57.7 74.8 55.4 72.8 54.6C70.9 53.9 68 54 67 53.9" stroke="#3a76e0" stroke-width="3.6" stroke-linecap="round"/><path d="M67 54.2C66 54.5 62.9 55.6 61.2 56.1C59.5 56.6 57.5 56.9 56.8 57.1" stroke="#a1a3b6" stroke-width="4.3" stroke-linecap="round"/><path d="M67 54.2C66 54.5 62.9 55.6 61.2 56.1C59.5 56.6 57.5 56.9 56.8 57.1" stroke="#e6eaf3" stroke-width="3.6" stroke-linecap="round"/><path d="M56.8 57.1C55.9 57.8 52 59.3 51.3 61.2C50.6 63.1 51.3 66 52.7 68.5C54.1 70.9 58.6 74.5 59.7 75.7" stroke="#60333c" stroke-width="4.3" stroke-linecap="round"/><path d="M56.8 57.1C55.9 57.8 52 59.3 51.3 61.2C50.6 63.1 51.3 66 52.7 68.5C54.1 70.9 58.6 74.5 59.7 75.7" stroke="#8a4a45" stroke-width="3.6" stroke-linecap="round"/><path d="M59.7 75.7C60.4 76.3 62.4 79 64.1 79.4C65.8 79.7 68.9 78.2 69.9 77.9" stroke="#586898" stroke-width="3.8" stroke-linecap="round"/><path d="M59.7 75.7C60.4 76.3 62.4 79 64.1 79.4C65.8 79.7 68.9 78.2 69.9 77.9" stroke="#7f95c8" stroke-width="3.1" stroke-linecap="round"/><path d="M69.9 77.9C70.6 77.6 72.8 74.4 74.3 75.7C75.7 77.1 77 83 78.7 85.9C80.4 88.9 83.5 92 84.5 93.2" stroke="#977070" stroke-width="4.3" stroke-linecap="round"/><path d="M69.9 77.9C70.6 77.6 72.8 74.4 74.3 75.7C75.7 77.1 77 83 78.7 85.9C80.4 88.9 83.5 92 84.5 93.2" stroke="#d9a090" stroke-width="3.6" stroke-linecap="round"/><path d="M84.5 93.2C85.9 93.8 90.8 96.6 93.2 96.9C95.6 97.1 97.9 95.8 99 94.7C100.2 93.6 100 91 100.2 90.3" stroke="#a1a3b6" stroke-width="4.3" stroke-linecap="round"/><path d="M84.5 93.2C85.9 93.8 90.8 96.6 93.2 96.9C95.6 97.1 97.9 95.8 99 94.7C100.2 93.6 100 91 100.2 90.3" stroke="#e6eaf3" stroke-width="3.6" stroke-linecap="round"/><path d="M95.4 87.4C95.4 86.2 94.8 82.3 95.4 80.1C96 77.9 98.4 75.3 99 74.3" stroke="#86332d" stroke-width="4.3" stroke-linecap="round"/><path d="M95.4 87.4C95.4 86.2 94.8 82.3 95.4 80.1C96 77.9 98.4 75.3 99 74.3" stroke="#c04a30" stroke-width="3.6" stroke-linecap="round"/><path d="M80.1 46.6 L82.3 55.4" stroke="#284b92" stroke-width="3.8" stroke-linecap="round"/><path d="M80.1 46.6 L82.3 55.4" stroke="#3a6cc0" stroke-width="3.1" stroke-linecap="round"/><path d="M80.1 59.4 L86.7 59.4" stroke="#9c2a1e" stroke-width="6.2" stroke-linecap="round"/><path d="M80.1 59.4 L86.7 59.4" stroke="#e03c1a" stroke-width="5.5" stroke-linecap="round"/><path d="M90.3 59.7C91.8 59.8 96.8 59.4 99 60.4C101.3 61.5 102.9 65.3 103.7 66.3" stroke="#9c605a" stroke-width="4.4" stroke-linecap="round"/><path d="M90.3 59.7C91.8 59.8 96.8 59.4 99 60.4C101.3 61.5 102.9 65.3 103.7 66.3" stroke="#e08a70" stroke-width="3.6" stroke-linecap="round"/><path d="M93.2 64.1 L99 68.5" stroke="#212c4f" stroke-width="4.3" stroke-linecap="round"/><path d="M93.2 64.1 L99 68.5" stroke="#304060" stroke-width="3.6" stroke-linecap="round"/><path d="M102 69.2 L104.6 79.8" stroke="#2852a8" stroke-width="8.9" stroke-linecap="butt"/><path d="M102 69.2 L104.6 79.8" stroke="#3a76e0" stroke-width="8.2" stroke-linecap="butt"/><path d="M90.3 49.5C91.3 49.2 94.2 47.3 96.1 47.3C98.1 47.3 101 49.2 102 49.5" stroke="#2852a8" stroke-width="3.8" stroke-linecap="round"/><path d="M90.3 49.5C91.3 49.2 94.2 47.3 96.1 47.3C98.1 47.3 101 49.2 102 49.5" stroke="#3a76e0" stroke-width="3.1" stroke-linecap="round"/><path d="M102 49.5C103.2 50.7 107.2 54.4 109.2 56.8C111.3 59.2 113.5 62.9 114.3 64.1" stroke="#a1a3b6" stroke-width="4.7" stroke-linecap="round"/><path d="M102 49.5C103.2 50.7 107.2 54.4 109.2 56.8C111.3 59.2 113.5 62.9 114.3 64.1" stroke="#e6eaf3" stroke-width="4" stroke-linecap="round"/><path d="M112.2 62.6 L116.5 65.5" stroke="#a1a3b6" stroke-width="7.6" stroke-linecap="round"/><path d="M112.2 62.6 L116.5 65.5" stroke="#e6eaf3" stroke-width="6.9" stroke-linecap="round"/><path d="M118 68.5C119.4 69.7 124.1 73.8 126.7 75.7C129.4 77.7 132.8 79.4 134 80.1" stroke="#70728a" stroke-width="3.3" stroke-linecap="round"/><path d="M118 68.5C119.4 69.7 124.1 73.8 126.7 75.7C129.4 77.7 132.8 79.4 134 80.1" stroke="#a0a4b4" stroke-width="2.5" stroke-linecap="round"/><path d="M134 79.4 L137.2 83" stroke="#2852a8" stroke-width="4.3" stroke-linecap="round"/><path d="M134 79.4 L137.2 83" stroke="#3a76e0" stroke-width="3.6" stroke-linecap="round"/><path d="M136.2 83.3C134.6 83.8 129 84.5 126.7 85.9C124.5 87.3 123.3 90.8 122.6 91.8" stroke="#a1a3b6" stroke-width="3.8" stroke-linecap="round"/><path d="M136.2 83.3C134.6 83.8 129 84.5 126.7 85.9C124.5 87.3 123.3 90.8 122.6 91.8" stroke="#e6eaf3" stroke-width="3.1" stroke-linecap="round"/><path d="M122.6 92.1C121.6 92.3 118 93.8 116.5 93.5C115 93.3 114.1 91.1 113.6 90.6" stroke="#2852a8" stroke-width="4.3" stroke-linecap="round"/><path d="M122.6 92.1C121.6 92.3 118 93.8 116.5 93.5C115 93.3 114.1 91.1 113.6 90.6" stroke="#3a76e0" stroke-width="3.6" stroke-linecap="round"/><path d="M113.6 90.6C112.8 89.5 109.9 85.4 108.5 83.8C107.1 82.1 105.7 81.3 105.2 80.8" stroke="#977070" stroke-width="3.8" stroke-linecap="round"/><path d="M113.6 90.6C112.8 89.5 109.9 85.4 108.5 83.8C107.1 82.1 105.7 81.3 105.2 80.8" stroke="#d9a090" stroke-width="3.1" stroke-linecap="round"/><path d="M221.4 15.3 L222.9 21.8" stroke="#977070" stroke-width="3.3" stroke-linecap="round"/><path d="M221.4 15.3 L222.9 21.8" stroke="#d9a090" stroke-width="2.5" stroke-linecap="round"/><path d="M198.1 35C199.1 33.9 201.7 29.6 203.9 28.4C206.1 27.2 209.3 28.2 211.2 27.7C213.1 27.1 214.8 25.5 215.6 25.1" stroke="#9c605a" stroke-width="4.3" stroke-linecap="round"/><path d="M198.1 35C199.1 33.9 201.7 29.6 203.9 28.4C206.1 27.2 209.3 28.2 211.2 27.7C213.1 27.1 214.8 25.5 215.6 25.1" stroke="#e08a70" stroke-width="3.6" stroke-linecap="round"/><path d="M208.3 41.5 L222.6 28" stroke="#2852a8" stroke-width="9.5" stroke-linecap="butt"/><path d="M208.3 41.5 L222.6 28" stroke="#3a76e0" stroke-width="8.8" stroke-linecap="butt"/><path d="M217 23.3C218.2 23.4 222.9 22.3 224.3 24C225.8 25.7 225.5 31.9 225.8 33.5" stroke="#2852a8" stroke-width="4.3" stroke-linecap="round"/><path d="M217 23.3C218.2 23.4 222.9 22.3 224.3 24C225.8 25.7 225.5 31.9 225.8 33.5" stroke="#3a76e0" stroke-width="3.6" stroke-linecap="round"/><path d="M225 28.4 L230.9 29.9" stroke="#212c4f" stroke-width="2.8" stroke-linecap="round"/><path d="M225 28.4 L230.9 29.9" stroke="#304060" stroke-width="2" stroke-linecap="round"/><path d="M187.6 32.3 L188.2 42.2" stroke="#808caf" stroke-width="6.1" stroke-linecap="butt"/><path d="M187.6 32.3 L188.2 42.2" stroke="#b7c9ea" stroke-width="5.3" stroke-linecap="butt"/><path d="M190.8 35.2 L196.9 35.2" stroke="#9c2a1e" stroke-width="6.1" stroke-linecap="butt"/><path d="M190.8 35.2 L196.9 35.2" stroke="#e03c1a" stroke-width="5.3" stroke-linecap="butt"/><path d="M185 48.8C183.8 48.2 180.4 46.5 177.7 45.4C175 44.4 171.6 43.3 169 42.2C166.3 41.2 162.9 39.8 161.7 39.3" stroke="#586898" stroke-width="3.3" stroke-linecap="round"/><path d="M185 48.8C183.8 48.2 180.4 46.5 177.7 45.4C175 44.4 171.6 43.3 169 42.2C166.3 41.2 162.9 39.8 161.7 39.3" stroke="#7f95c8" stroke-width="2.5" stroke-linecap="round"/><path d="M161.7 39.3 L152.9 40.8" stroke="#977070" stroke-width="3.3" stroke-linecap="round"/><path d="M161.7 39.3 L152.9 40.8" stroke="#d9a090" stroke-width="2.5" stroke-linecap="round"/><path d="M152.9 40.8C152.5 41.8 149.8 44.7 150 46.6C150.3 48.6 152.5 50.9 154.4 52.4C156.3 53.9 159.5 55.1 161.7 55.6C163.9 56.2 166.5 55.6 167.5 55.6" stroke="#70728a" stroke-width="3.3" stroke-linecap="round"/><path d="M152.9 40.8C152.5 41.8 149.8 44.7 150 46.6C150.3 48.6 152.5 50.9 154.4 52.4C156.3 53.9 159.5 55.1 161.7 55.6C163.9 56.2 166.5 55.6 167.5 55.6" stroke="#a0a4b4" stroke-width="2.5" stroke-linecap="round"/><path d="M166.1 55.6 L172.2 55.6" stroke="#86332d" stroke-width="6.1" stroke-linecap="butt"/><path d="M166.1 55.6 L172.2 55.6" stroke="#c04a30" stroke-width="5.3" stroke-linecap="butt"/><path d="M172.2 55.6 L182.4 56.5" stroke="#2852a8" stroke-width="7" stroke-linecap="butt"/><path d="M172.2 55.6 L182.4 56.5" stroke="#3a76e0" stroke-width="6.3" stroke-linecap="butt"/><path d="M189.4 48.1C190.6 47.6 193.7 46.4 196.6 45.4C199.6 44.5 205.1 43 206.8 42.5" stroke="#9c605a" stroke-width="4.3" stroke-linecap="round"/><path d="M189.4 48.1C190.6 47.6 193.7 46.4 196.6 45.4C199.6 44.5 205.1 43 206.8 42.5" stroke="#e08a70" stroke-width="3.6" stroke-linecap="round"/><path d="M186.4 55.4C188.4 55.1 194.7 54.4 198.1 53.9C201.5 53.4 205.4 52.7 206.8 52.4" stroke="#977070" stroke-width="5.8" stroke-linecap="butt"/><path d="M186.4 55.4C188.4 55.1 194.7 54.4 198.1 53.9C201.5 53.4 205.4 52.7 206.8 52.4" stroke="#d9a090" stroke-width="5.1" stroke-linecap="butt"/><path d="M206.8 52.4 L214.1 55.6" stroke="#a1a3b6" stroke-width="5.5" stroke-linecap="round"/><path d="M206.8 52.4 L214.1 55.6" stroke="#e6eaf3" stroke-width="4.7" stroke-linecap="round"/><path d="M214.1 55.6C214.8 54.9 216.3 51.8 218.5 51C220.7 50.2 225.8 50.7 227.2 50.7" stroke="#808caf" stroke-width="3.8" stroke-linecap="round"/><path d="M214.1 55.6C214.8 54.9 216.3 51.8 218.5 51C220.7 50.2 225.8 50.7 227.2 50.7" stroke="#b7c9ea" stroke-width="3.1" stroke-linecap="round"/><path d="M163.1 68.8C164.6 68.5 169 67.2 171.9 67C174.8 66.8 177.9 67.8 180.6 67.3C183.3 66.8 186.6 65.8 187.9 64.1C189.2 62.4 188.7 58.7 188.2 57.1C187.7 55.4 185.5 54.7 185 54.2" stroke="#a1a3b6" stroke-width="4" stroke-linecap="round"/><path d="M163.1 68.8C164.6 68.5 169 67.2 171.9 67C174.8 66.8 177.9 67.8 180.6 67.3C183.3 66.8 186.6 65.8 187.9 64.1C189.2 62.4 188.7 58.7 188.2 57.1C187.7 55.4 185.5 54.7 185 54.2" stroke="#e6eaf3" stroke-width="3.3" stroke-linecap="round"/><path d="M162.4 69.6 L170.4 67.9" stroke="#212c4f" stroke-width="2" stroke-linecap="round"/><path d="M162.4 69.6 L170.4 67.9" stroke="#304060" stroke-width="1.3" stroke-linecap="round"/><path d="M179.2 69.9C179.9 70.9 181.3 75 183.5 75.7C185.7 76.5 190.3 75.5 192.3 74.3C194.3 73.1 194.9 69.7 195.5 68.8" stroke="#70728a" stroke-width="3.3" stroke-linecap="round"/><path d="M179.2 69.9C179.9 70.9 181.3 75 183.5 75.7C185.7 76.5 190.3 75.5 192.3 74.3C194.3 73.1 194.9 69.7 195.5 68.8" stroke="#a0a4b4" stroke-width="2.5" stroke-linecap="round"/><path d="M218.5 52.1C219.9 52 225.3 50.7 227.2 51C229.2 51.3 230.5 52.7 230.1 53.9C229.8 55.1 226.5 56.6 225 58.3C223.6 60 222.3 63.1 221.7 64.1" stroke="#284b92" stroke-width="4.3" stroke-linecap="round"/><path d="M218.5 52.1C219.9 52 225.3 50.7 227.2 51C229.2 51.3 230.5 52.7 230.1 53.9C229.8 55.1 226.5 56.6 225 58.3C223.6 60 222.3 63.1 221.7 64.1" stroke="#3a6cc0" stroke-width="3.6" stroke-linecap="round"/><ellipse cx="200" cy="71.2" rx="2.3" ry="5.9" stroke="#234996" stroke-width="3.2"/><ellipse cx="200" cy="71.2" rx="2.3" ry="5.9" stroke="#3a76e0" stroke-width="2.5"/><ellipse cx="198.8" cy="70.6" rx="2.9" ry="6.6" stroke="#234996" stroke-width="4.3"/><ellipse cx="198.8" cy="70.6" rx="2.9" ry="6.6" stroke="#3a76e0" stroke-width="3.6"/><ellipse cx="205.6" cy="71.2" rx="2.3" ry="5.9" stroke="#8a5551" stroke-width="3.2"/><ellipse cx="205.6" cy="71.2" rx="2.3" ry="5.9" stroke="#e08a70" stroke-width="2.5"/><ellipse cx="204.5" cy="70.6" rx="2.9" ry="6.6" stroke="#234996" stroke-width="4.3"/><ellipse cx="204.5" cy="70.6" rx="2.9" ry="6.6" stroke="#3a76e0" stroke-width="3.6"/><ellipse cx="211.3" cy="71.2" rx="2.3" ry="5.9" stroke="#234996" stroke-width="3.2"/><ellipse cx="211.3" cy="71.2" rx="2.3" ry="5.9" stroke="#3a76e0" stroke-width="2.5"/><ellipse cx="210.1" cy="70.6" rx="2.9" ry="6.6" stroke="#234996" stroke-width="4.3"/><ellipse cx="210.1" cy="70.6" rx="2.9" ry="6.6" stroke="#3a76e0" stroke-width="3.6"/><ellipse cx="216.9" cy="71.2" rx="2.3" ry="5.9" stroke="#8a5551" stroke-width="3.2"/><ellipse cx="216.9" cy="71.2" rx="2.3" ry="5.9" stroke="#e08a70" stroke-width="2.5"/><ellipse cx="215.8" cy="70.6" rx="2.9" ry="6.6" stroke="#234996" stroke-width="4.3"/><ellipse cx="215.8" cy="70.6" rx="2.9" ry="6.6" stroke="#3a76e0" stroke-width="3.6"/><ellipse cx="222.6" cy="71.2" rx="2.3" ry="5.9" stroke="#234996" stroke-width="3.2"/><ellipse cx="222.6" cy="71.2" rx="2.3" ry="5.9" stroke="#3a76e0" stroke-width="2.5"/><ellipse cx="221.4" cy="70.6" rx="2.9" ry="6.6" stroke="#234996" stroke-width="4.3"/><ellipse cx="221.4" cy="70.6" rx="2.9" ry="6.6" stroke="#3a76e0" stroke-width="3.6"/><ellipse cx="60.9" cy="123.7" rx="2.3" ry="5.9" stroke="#234996" stroke-width="3.2"/><ellipse cx="60.9" cy="123.7" rx="2.3" ry="5.9" stroke="#3a76e0" stroke-width="2.5"/><ellipse cx="59.7" cy="123.1" rx="2.9" ry="6.6" stroke="#234996" stroke-width="4.3"/><ellipse cx="59.7" cy="123.1" rx="2.9" ry="6.6" stroke="#3a76e0" stroke-width="3.6"/><ellipse cx="66.7" cy="123.7" rx="2.3" ry="5.9" stroke="#8a5551" stroke-width="3.2"/><ellipse cx="66.7" cy="123.7" rx="2.3" ry="5.9" stroke="#e08a70" stroke-width="2.5"/><ellipse cx="65.5" cy="123.1" rx="2.9" ry="6.6" stroke="#234996" stroke-width="4.3"/><ellipse cx="65.5" cy="123.1" rx="2.9" ry="6.6" stroke="#3a76e0" stroke-width="3.6"/><ellipse cx="72.5" cy="123.7" rx="2.3" ry="5.9" stroke="#234996" stroke-width="3.2"/><ellipse cx="72.5" cy="123.7" rx="2.3" ry="5.9" stroke="#3a76e0" stroke-width="2.5"/><ellipse cx="71.4" cy="123.1" rx="2.9" ry="6.6" stroke="#234996" stroke-width="4.3"/><ellipse cx="71.4" cy="123.1" rx="2.9" ry="6.6" stroke="#3a76e0" stroke-width="3.6"/><ellipse cx="78.4" cy="123.7" rx="2.3" ry="5.9" stroke="#8a5551" stroke-width="3.2"/><ellipse cx="78.4" cy="123.7" rx="2.3" ry="5.9" stroke="#e08a70" stroke-width="2.5"/><ellipse cx="77.2" cy="123.1" rx="2.9" ry="6.6" stroke="#234996" stroke-width="4.3"/><ellipse cx="77.2" cy="123.1" rx="2.9" ry="6.6" stroke="#3a76e0" stroke-width="3.6"/><ellipse cx="84.2" cy="123.7" rx="2.3" ry="5.9" stroke="#234996" stroke-width="3.2"/><ellipse cx="84.2" cy="123.7" rx="2.3" ry="5.9" stroke="#3a76e0" stroke-width="2.5"/><ellipse cx="83" cy="123.1" rx="2.9" ry="6.6" stroke="#234996" stroke-width="4.3"/><ellipse cx="83" cy="123.1" rx="2.9" ry="6.6" stroke="#3a76e0" stroke-width="3.6"/><path d="M81.6 127.5C83 128.3 87.9 131.5 90.3 132.8C92.7 134.2 95.2 135.3 96.1 135.8" stroke="#2852a8" stroke-width="6.2" stroke-linecap="round"/><path d="M81.6 127.5C83 128.3 87.9 131.5 90.3 132.8C92.7 134.2 95.2 135.3 96.1 135.8" stroke="#3a76e0" stroke-width="5.5" stroke-linecap="round"/><path d="M58 125.3 L58.6 129.6" stroke="#a26438" stroke-width="3.8" stroke-linecap="round"/><path d="M58 125.3 L58.6 129.6" stroke="#e89040" stroke-width="3.1" stroke-linecap="round"/><path d="M40.8 132.8C41 132.1 41 129.4 42.2 128.2C43.5 126.9 46.1 125.5 48.1 125.3C50 125 52.2 125.9 53.9 126.7C55.6 127.5 57.5 129.4 58.3 129.9" stroke="#70728a" stroke-width="3.3" stroke-linecap="round"/><path d="M40.8 132.8C41 132.1 41 129.4 42.2 128.2C43.5 126.9 46.1 125.5 48.1 125.3C50 125 52.2 125.9 53.9 126.7C55.6 127.5 57.5 129.4 58.3 129.9" stroke="#a0a4b4" stroke-width="2.5" stroke-linecap="round"/><path d="M26.5 137.6C28.2 137.5 33.1 137.6 36.4 136.9C39.8 136.2 43 134 46.6 133.3C50.3 132.5 54.4 132.4 58.3 132.5C62.1 132.7 66 133.6 69.9 134C73.8 134.4 78.1 134.2 81.6 134.7C85 135.2 89.1 136.6 90.6 136.9" stroke="#586898" stroke-width="5.8" stroke-linecap="round"/><path d="M26.5 137.6C28.2 137.5 33.1 137.6 36.4 136.9C39.8 136.2 43 134 46.6 133.3C50.3 132.5 54.4 132.4 58.3 132.5C62.1 132.7 66 133.6 69.9 134C73.8 134.4 78.1 134.2 81.6 134.7C85 135.2 89.1 136.6 90.6 136.9" stroke="#7f95c8" stroke-width="5" stroke-linecap="round"/><path d="M27.7 137.5C29.1 137.4 33.3 137.6 36.4 136.9C39.6 136.2 43 134 46.6 133.3C50.3 132.5 54.4 132.4 58.3 132.5C62.1 132.7 66 133.6 69.9 134C73.8 134.4 78.3 134.3 81.6 134.7C84.8 135.2 88.2 136.3 89.6 136.6" stroke="#a1a3b6" stroke-width="5.5" stroke-linecap="round"/><path d="M27.7 137.5C29.1 137.4 33.3 137.6 36.4 136.9C39.6 136.2 43 134 46.6 133.3C50.3 132.5 54.4 132.4 58.3 132.5C62.1 132.7 66 133.6 69.9 134C73.8 134.4 78.3 134.3 81.6 134.7C84.8 135.2 88.2 136.3 89.6 136.6" stroke="#e6eaf3" stroke-width="4.7" stroke-linecap="round"/><path d="M25.9 137.8 L37.9 136" stroke="#212c4f" stroke-width="2.3" stroke-linecap="round"/><path d="M25.9 137.8 L37.9 136" stroke="#304060" stroke-width="1.5" stroke-linecap="round"/><path d="M91.8 135.5C92.7 135.6 96.8 135.7 97.3 136.2C97.8 136.7 95.1 138 94.7 138.4" stroke="#284b92" stroke-width="3.3" stroke-linecap="round"/><path d="M91.8 135.5C92.7 135.6 96.8 135.7 97.3 136.2C97.8 136.7 95.1 138 94.7 138.4" stroke="#3a6cc0" stroke-width="2.5" stroke-linecap="round"/><path d="M51 144.2C52.9 144 59 143.7 62.6 143C66.3 142.4 71.1 140.6 72.8 140.1" stroke="#977070" stroke-width="4.4" stroke-linecap="butt"/><path d="M51 144.2C52.9 144 59 143.7 62.6 143C66.3 142.4 71.1 140.6 72.8 140.1" stroke="#d9a090" stroke-width="3.6" stroke-linecap="butt"/><path d="M72.8 140.1 L81.6 136.3" stroke="#a1a3b6" stroke-width="4" stroke-linecap="round"/><path d="M72.8 140.1 L81.6 136.3" stroke="#e6eaf3" stroke-width="3.3" stroke-linecap="round"/><path d="M50.3 132.8C50.4 135 50.1 142.3 51 145.7C51.8 149 54.4 150.5 55.4 152.9C56.3 155.4 56.6 159 56.8 160.2" stroke="#a1a3b6" stroke-width="4.3" stroke-linecap="round"/><path d="M50.3 132.8C50.4 135 50.1 142.3 51 145.7C51.8 149 54.4 150.5 55.4 152.9C56.3 155.4 56.6 159 56.8 160.2" stroke="#e6eaf3" stroke-width="3.6" stroke-linecap="round"/><path d="M32.3 150.8 L38.2 149.3" stroke="#86332d" stroke-width="5.8" stroke-linecap="butt"/><path d="M32.3 150.8 L38.2 149.3" stroke="#c04a30" stroke-width="5.1" stroke-linecap="butt"/><path d="M38.2 149.3 L49.8 144.2" stroke="#2852a8" stroke-width="6.2" stroke-linecap="butt"/><path d="M38.2 149.3 L49.8 144.2" stroke="#3a76e0" stroke-width="5.5" stroke-linecap="butt"/><path d="M32.3 151C31.1 151.7 26.8 152.9 24.8 154.7C22.7 156.5 20.6 159.4 20.1 161.7C19.6 164 21.6 167.5 21.8 168.7" stroke="#a1a3b6" stroke-width="3.3" stroke-linecap="round"/><path d="M32.3 151C31.1 151.7 26.8 152.9 24.8 154.7C22.7 156.5 20.6 159.4 20.1 161.7C19.6 164 21.6 167.5 21.8 168.7" stroke="#e6eaf3" stroke-width="2.5" stroke-linecap="round"/><path d="M21.8 168.7 L30.6 169.3" stroke="#977070" stroke-width="3.3" stroke-linecap="round"/><path d="M21.8 168.7 L30.6 169.3" stroke="#d9a090" stroke-width="2.5" stroke-linecap="round"/><path d="M30.6 169.3C31.8 168.5 35.7 166.3 37.9 164.6C40.1 162.8 41.5 160.2 43.7 158.8C45.9 157.4 49.8 156.6 51 156.1" stroke="#586898" stroke-width="3.3" stroke-linecap="round"/><path d="M30.6 169.3C31.8 168.5 35.7 166.3 37.9 164.6C40.1 162.8 41.5 160.2 43.7 158.8C45.9 157.4 49.8 156.6 51 156.1" stroke="#7f95c8" stroke-width="2.5" stroke-linecap="round"/><path d="M58.3 148.6C59.7 148.9 64.1 150.3 67 150.3C69.9 150.3 73.3 148.3 75.7 148.6C78.2 148.8 80.6 151.2 81.6 151.8" stroke="#977070" stroke-width="4.3" stroke-linecap="round"/><path d="M58.3 148.6C59.7 148.9 64.1 150.3 67 150.3C69.9 150.3 73.3 148.3 75.7 148.6C78.2 148.8 80.6 151.2 81.6 151.8" stroke="#d9a090" stroke-width="3.6" stroke-linecap="round"/><path d="M77.2 150.8C78.9 151.5 83.9 153.7 87.4 155.1C90.8 156.5 96.1 158.4 97.9 159.1" stroke="#2852a8" stroke-width="8" stroke-linecap="butt"/><path d="M77.2 150.8C78.9 151.5 83.9 153.7 87.4 155.1C90.8 156.5 96.1 158.4 97.9 159.1" stroke="#3a76e0" stroke-width="7.2" stroke-linecap="butt"/><path d="M100.5 154.4C100.3 155.4 99.8 158.3 99 160.2C98.3 162.2 97.3 165.1 96.1 166.1C94.9 167 92.5 166.1 91.8 166.1" stroke="#2852a8" stroke-width="4.3" stroke-linecap="round"/><path d="M100.5 154.4C100.3 155.4 99.8 158.3 99 160.2C98.3 162.2 97.3 165.1 96.1 166.1C94.9 167 92.5 166.1 91.8 166.1" stroke="#3a76e0" stroke-width="3.6" stroke-linecap="round"/><path d="M97.9 158.8 L104.9 156.7" stroke="#212c4f" stroke-width="2.8" stroke-linecap="round"/><path d="M97.9 158.8 L104.9 156.7" stroke="#304060" stroke-width="2" stroke-linecap="round"/><path d="M58.6 157.6 L60 166.3" stroke="#808caf" stroke-width="7" stroke-linecap="butt"/><path d="M58.6 157.6 L60 166.3" stroke="#b7c9ea" stroke-width="6.3" stroke-linecap="butt"/><path d="M64.1 162.6 L70.2 162.6" stroke="#9c2a1e" stroke-width="6.1" stroke-linecap="butt"/><path d="M64.1 162.6 L70.2 162.6" stroke="#e03c1a" stroke-width="5.3" stroke-linecap="butt"/><path d="M70.2 162.6 L75.7 164.6" stroke="#284b92" stroke-width="4.8" stroke-linecap="round"/><path d="M70.2 162.6 L75.7 164.6" stroke="#3a6cc0" stroke-width="4.1" stroke-linecap="round"/><path d="M75.7 164.6C76.7 164.4 79.6 163.1 81.6 163.1C83.5 163.1 86.4 164.4 87.4 164.6" stroke="#9c605a" stroke-width="4.8" stroke-linecap="round"/><path d="M75.7 164.6C76.7 164.4 79.6 163.1 81.6 163.1C83.5 163.1 86.4 164.4 87.4 164.6" stroke="#e08a70" stroke-width="4.1" stroke-linecap="round"/><path d="M87.4 164.6 L93.2 167.5" stroke="#212c4f" stroke-width="4.3" stroke-linecap="round"/><path d="M87.4 164.6 L93.2 167.5" stroke="#304060" stroke-width="3.6" stroke-linecap="round"/><path d="M99 166.1 L99.8 173.3" stroke="#977070" stroke-width="3.3" stroke-linecap="round"/><path d="M99 166.1 L99.8 173.3" stroke="#d9a090" stroke-width="2.5" stroke-linecap="round"/><path d="M112.2 123.1C112.9 122.1 114.6 118 116.5 117.3C118.5 116.5 121.6 118.1 123.8 118.7C126 119.3 127.7 121.3 129.6 120.9C131.6 120.5 133.5 117 135.5 116.5C137.4 116 139.6 116.5 141.3 118C143 119.4 144 123.4 145.7 125.3C147.4 127.1 149.6 128.2 151.5 128.9C153.4 129.6 156.1 129.5 157 129.6" stroke="#60333c" stroke-width="3.3" stroke-linecap="round"/><path d="M112.2 123.1C112.9 122.1 114.6 118 116.5 117.3C118.5 116.5 121.6 118.1 123.8 118.7C126 119.3 127.7 121.3 129.6 120.9C131.6 120.5 133.5 117 135.5 116.5C137.4 116 139.6 116.5 141.3 118C143 119.4 144 123.4 145.7 125.3C147.4 127.1 149.6 128.2 151.5 128.9C153.4 129.6 156.1 129.5 157 129.6" stroke="#8a4a45" stroke-width="2.5" stroke-linecap="round"/><path d="M159.1 128.2 L156.1 138.7" stroke="#808caf" stroke-width="6.2" stroke-linecap="round"/><path d="M159.1 128.2 L156.1 138.7" stroke="#b7c9ea" stroke-width="5.5" stroke-linecap="round"/><path d="M160.2 120.9C160.1 119.9 159.3 116.8 159.5 115.1C159.7 113.4 161.3 111.4 161.7 110.7" stroke="#86332d" stroke-width="4.4" stroke-linecap="round"/><path d="M160.2 120.9C160.1 119.9 159.3 116.8 159.5 115.1C159.7 113.4 161.3 111.4 161.7 110.7" stroke="#c04a30" stroke-width="3.6" stroke-linecap="round"/><path d="M161.7 110.7C162.7 110.2 165.4 107.7 167.5 107.5C169.6 107.3 173 109 174.1 109.2" stroke="#2852a8" stroke-width="5.5" stroke-linecap="round"/><path d="M161.7 110.7C162.7 110.2 165.4 107.7 167.5 107.5C169.6 107.3 173 109 174.1 109.2" stroke="#3a76e0" stroke-width="4.7" stroke-linecap="round"/><path d="M160.2 123.8C161.2 124.6 163.9 128 166.1 128.5C168.2 129 172.1 127 173.3 126.7" stroke="#2852a8" stroke-width="4.7" stroke-linecap="round"/><path d="M160.2 123.8C161.2 124.6 163.9 128 166.1 128.5C168.2 129 172.1 127 173.3 126.7" stroke="#3a76e0" stroke-width="4" stroke-linecap="round"/><path d="M166.1 122.4 L173.3 121.6" stroke="#9c3829" stroke-width="3.8" stroke-linecap="round"/><path d="M166.1 122.4 L173.3 121.6" stroke="#e0502a" stroke-width="3.1" stroke-linecap="round"/><path d="M172.6 115.1C173.9 115.3 178.3 116.5 180.6 116.5C183 116.5 185.7 115.3 186.7 115.1" stroke="#a1a3b6" stroke-width="6.4" stroke-linecap="butt"/><path d="M172.6 115.1C173.9 115.3 178.3 116.5 180.6 116.5C183 116.5 185.7 115.3 186.7 115.1" stroke="#e6eaf3" stroke-width="5.7" stroke-linecap="butt"/><path d="M193.7 87.4C193.8 88.6 193.4 92.5 194.5 94.7C195.5 96.9 199.4 98.6 199.8 100.5C200.3 102.4 198.4 104.6 196.9 106.3C195.4 108.1 191.8 110.2 190.8 111" stroke="#284b92" stroke-width="4.3" stroke-linecap="round"/><path d="M193.7 87.4C193.8 88.6 193.4 92.5 194.5 94.7C195.5 96.9 199.4 98.6 199.8 100.5C200.3 102.4 198.4 104.6 196.9 106.3C195.4 108.1 191.8 110.2 190.8 111" stroke="#3a6cc0" stroke-width="3.6" stroke-linecap="round"/><path d="M190.8 111C193 110.7 201 110 203.9 109.5C206.8 109 207.6 108.3 208.3 108.1" stroke="#284b92" stroke-width="6.2" stroke-linecap="round"/><path d="M190.8 111C193 110.7 201 110 203.9 109.5C206.8 109 207.6 108.3 208.3 108.1" stroke="#3a6cc0" stroke-width="5.5" stroke-linecap="round"/><path d="M182.1 116.5C183.5 116.3 188.6 114.8 190.8 115.1C193 115.3 194.5 117.5 195.2 118" stroke="#a1a3b6" stroke-width="3.3" stroke-linecap="round"/><path d="M182.1 116.5C183.5 116.3 188.6 114.8 190.8 115.1C193 115.3 194.5 117.5 195.2 118" stroke="#e6eaf3" stroke-width="2.5" stroke-linecap="round"/><path d="M208.3 108.1C208.4 109.5 209.4 113.9 209.2 116.5C208.9 119.1 207.2 122.6 206.8 123.8" stroke="#586898" stroke-width="3.3" stroke-linecap="round"/><path d="M208.3 108.1C208.4 109.5 209.4 113.9 209.2 116.5C208.9 119.1 207.2 122.6 206.8 123.8" stroke="#7f95c8" stroke-width="2.5" stroke-linecap="round"/><path d="M206.8 123.8 L201.3 128.5" stroke="#60333c" stroke-width="3.3" stroke-linecap="round"/><path d="M206.8 123.8 L201.3 128.5" stroke="#8a4a45" stroke-width="2.5" stroke-linecap="round"/><path d="M191.1 119.4C190.6 120.7 188.9 124.2 187.9 126.7C186.9 129.2 185.7 133 185.3 134.3" stroke="#9c605a" stroke-width="5.5" stroke-linecap="butt"/><path d="M191.1 119.4C190.6 120.7 188.9 124.2 187.9 126.7C186.9 129.2 185.7 133 185.3 134.3" stroke="#e08a70" stroke-width="4.7" stroke-linecap="butt"/><path d="M186.4 136.9 L188.2 145.9" stroke="#284b92" stroke-width="5.8" stroke-linecap="butt"/><path d="M186.4 136.9 L188.2 145.9" stroke="#3a6cc0" stroke-width="5" stroke-linecap="butt"/><path d="M193.7 116.5C194.5 117.7 197 121.4 198.1 123.8C199.2 126.2 200 129.9 200.4 131.1" stroke="#2852a8" stroke-width="3.8" stroke-linecap="round"/><path d="M193.7 116.5C194.5 117.7 197 121.4 198.1 123.8C199.2 126.2 200 129.9 200.4 131.1" stroke="#3a76e0" stroke-width="3.1" stroke-linecap="round"/><path d="M196.6 131.1C197.4 132.1 199.5 135.5 201 136.9C202.5 138.4 204.9 139.3 205.7 139.8" stroke="#977070" stroke-width="4" stroke-linecap="round"/><path d="M196.6 131.1C197.4 132.1 199.5 135.5 201 136.9C202.5 138.4 204.9 139.3 205.7 139.8" stroke="#d9a090" stroke-width="3.3" stroke-linecap="round"/><path d="M205.4 140.1C205.7 141.3 207.3 145.1 207.1 147.1C206.9 149.2 205 152.4 204.2 152.4C203.4 152.4 202.5 148.9 202.5 147.1C202.4 145.3 203.7 142.5 203.9 141.6" stroke="#86332d" stroke-width="2.8" stroke-linecap="round"/><path d="M205.4 140.1C205.7 141.3 207.3 145.1 207.1 147.1C206.9 149.2 205 152.4 204.2 152.4C203.4 152.4 202.5 148.9 202.5 147.1C202.4 145.3 203.7 142.5 203.9 141.6" stroke="#c04a30" stroke-width="2" stroke-linecap="round"/><path d="M169.3 131.1 L172.2 137.2" stroke="#70728a" stroke-width="6.2" stroke-linecap="round"/><path d="M169.3 131.1 L172.2 137.2" stroke="#a0a4b4" stroke-width="5.5" stroke-linecap="round"/><path d="M172.2 137.2C172.8 138.1 174.6 141.7 176.2 142.7C177.9 143.8 181.1 143.5 182.1 143.6" stroke="#284b92" stroke-width="3.3" stroke-linecap="round"/><path d="M172.2 137.2C172.8 138.1 174.6 141.7 176.2 142.7C177.9 143.8 181.1 143.5 182.1 143.6" stroke="#3a6cc0" stroke-width="2.5" stroke-linecap="round"/><path d="M182.1 143.6 L182.8 147.1" stroke="#977070" stroke-width="3.3" stroke-linecap="round"/><path d="M182.1 143.6 L182.8 147.1" stroke="#d9a090" stroke-width="2.5" stroke-linecap="round"/><path d="M182.8 147.1C182.2 148.3 180.8 152.2 179.5 154.4C178.1 156.6 175.6 159.3 174.8 160.2" stroke="#a1a3b6" stroke-width="3.8" stroke-linecap="round"/><path d="M182.8 147.1C182.2 148.3 180.8 152.2 179.5 154.4C178.1 156.6 175.6 159.3 174.8 160.2" stroke="#e6eaf3" stroke-width="3.1" stroke-linecap="round"/><path d="M174.8 160.2C175 160.8 174.8 163 176.2 163.4C177.7 163.8 181.3 163.3 183.5 162.6C185.7 161.8 188.4 159.4 189.4 158.8" stroke="#586898" stroke-width="3.8" stroke-linecap="round"/><path d="M174.8 160.2C175 160.8 174.8 163 176.2 163.4C177.7 163.8 181.3 163.3 183.5 162.6C185.7 161.8 188.4 159.4 189.4 158.8" stroke="#7f95c8" stroke-width="3.1" stroke-linecap="round"/><path d="M189.4 158.8C189.8 157.8 192.2 155.1 192.3 152.9C192.3 150.8 190.1 146.9 189.6 145.7" stroke="#284b92" stroke-width="3.8" stroke-linecap="round"/><path d="M189.4 158.8C189.8 157.8 192.2 155.1 192.3 152.9C192.3 150.8 190.1 146.9 189.6 145.7" stroke="#3a6cc0" stroke-width="3.1" stroke-linecap="round"/><ellipse cx="136.2" cy="177" rx="9" ry="9" stroke="#234283" stroke-width="4.8"/><ellipse cx="136.2" cy="177" rx="9" ry="9" stroke="#3a6cc0" stroke-width="4.1"/><path d="M144.9 178.4A7.3 7.3 0 0 1 134 184.8" stroke="#d9a090" stroke-width="3.1"/><ellipse cx="134.7" cy="176.2" rx="5.5" ry="5.5" stroke="#1d2747" stroke-width="3.3"/><ellipse cx="134.7" cy="176.2" rx="5.5" ry="5.5" stroke="#304060" stroke-width="2.5"/><ellipse cx="138.4" cy="175.5" rx="2.3" ry="2.3" stroke="#8e91a2" stroke-width="2.8"/><ellipse cx="138.4" cy="175.5" rx="2.3" ry="2.3" stroke="#e6eaf3" stroke-width="2"/><path d="M144.2 174.8C145.2 174.1 148.1 171.1 150 170.7C152 170.3 154.2 171.2 155.9 172.2C157.6 173.1 159.5 175.8 160.2 176.5" stroke="#2852a8" stroke-width="3.8" stroke-linecap="round"/><path d="M144.2 174.8C145.2 174.1 148.1 171.1 150 170.7C152 170.3 154.2 171.2 155.9 172.2C157.6 173.1 159.5 175.8 160.2 176.5" stroke="#3a76e0" stroke-width="3.1" stroke-linecap="round"/><path d="M162.4 176 L167.2 173.6" stroke="#9c2a1e" stroke-width="6.2" stroke-linecap="round"/><path d="M162.4 176 L167.2 173.6" stroke="#e03c1a" stroke-width="5.5" stroke-linecap="round"/><path d="M125.6 183.8C124.8 184.5 121.9 186.2 121.2 187.9C120.5 189.5 121.7 191.8 121.2 193.7C120.7 195.7 119.5 198.1 118.3 199.6C117.1 201 114.6 202 113.9 202.5" stroke="#4e2c33" stroke-width="3.3" stroke-linecap="round"/><path d="M125.6 183.8C124.8 184.5 121.9 186.2 121.2 187.9C120.5 189.5 121.7 191.8 121.2 193.7C120.7 195.7 119.5 198.1 118.3 199.6C117.1 201 114.6 202 113.9 202.5" stroke="#704038" stroke-width="2.5" stroke-linecap="round"/><path d="M113.9 202.5C112.9 201.5 109.7 197.2 108.1 196.9C106.5 196.7 104.5 199.1 104.3 201C104 202.9 106.2 207.1 106.6 208.3" stroke="#2852a8" stroke-width="3.3" stroke-linecap="round"/><path d="M113.9 202.5C112.9 201.5 109.7 197.2 108.1 196.9C106.5 196.7 104.5 199.1 104.3 201C104 202.9 106.2 207.1 106.6 208.3" stroke="#3a76e0" stroke-width="2.5" stroke-linecap="round"/><path d="M106.6 208.3C107.4 208 110.2 208 111 206.8C111.8 205.7 110.9 200.8 111.4 201.3C111.9 201.8 113.5 208.3 113.9 209.7" stroke="#a1a3b6" stroke-width="3.8" stroke-linecap="round"/><path d="M106.6 208.3C107.4 208 110.2 208 111 206.8C111.8 205.7 110.9 200.8 111.4 201.3C111.9 201.8 113.5 208.3 113.9 209.7" stroke="#e6eaf3" stroke-width="3.1" stroke-linecap="round"/><path d="M113.9 209.7C114.4 210.7 115.1 214.4 116.8 215.6C118.5 216.8 122.9 216.8 124.1 217" stroke="#2852a8" stroke-width="3.8" stroke-linecap="round"/><path d="M113.9 209.7C114.4 210.7 115.1 214.4 116.8 215.6C118.5 216.8 122.9 216.8 124.1 217" stroke="#3a76e0" stroke-width="3.1" stroke-linecap="round"/><path d="M140.1 198.1C141.5 196.6 145.7 192.3 148.6 189.4C151.5 186.4 156.1 182.1 157.6 180.6" stroke="#70728a" stroke-width="6.2" stroke-linecap="butt"/><path d="M140.1 198.1C141.5 196.6 145.7 192.3 148.6 189.4C151.5 186.4 156.1 182.1 157.6 180.6" stroke="#a0a4b4" stroke-width="5.5" stroke-linecap="butt"/><path d="M131.1 206.8C132.5 206.1 136.9 203.7 139.8 202.5C142.7 201.3 145.7 200.8 148.6 199.6C151.5 198.3 154.6 196 157.3 195.2C160 194.4 163.6 194.7 164.9 194.6" stroke="#9c605a" stroke-width="6.2" stroke-linecap="butt"/><path d="M131.1 206.8C132.5 206.1 136.9 203.7 139.8 202.5C142.7 201.3 145.7 200.8 148.6 199.6C151.5 198.3 154.6 196 157.3 195.2C160 194.4 163.6 194.7 164.9 194.6" stroke="#e08a70" stroke-width="5.5" stroke-linecap="butt"/><path d="M164.9 194.6 L170.7 195.2" stroke="#808caf" stroke-width="6.4" stroke-linecap="butt"/><path d="M164.9 194.6 L170.7 195.2" stroke="#b7c9ea" stroke-width="5.7" stroke-linecap="butt"/><path d="M170.7 195.2C172.4 195.7 178.1 197.7 180.6 198.1C183.1 198.5 184.9 197.5 185.7 197.4" stroke="#2852a8" stroke-width="8.9" stroke-linecap="butt"/><path d="M170.7 195.2C172.4 195.7 178.1 197.7 180.6 198.1C183.1 198.5 184.9 197.5 185.7 197.4" stroke="#3a76e0" stroke-width="8.2" stroke-linecap="butt"/><path d="M183.8 189.1L193.7 194.9L196.1 202.8L188.2 205.7L183.8 203.9Z" fill="#3a76e0" stroke="#234996" stroke-width="0.6"/><path d="M195.5 201.3C195.7 202.2 196.2 205.1 196.9 206.8C197.7 208.5 199.4 210.7 199.8 211.5" stroke="#977070" stroke-width="3.3" stroke-linecap="round"/><path d="M195.5 201.3C195.7 202.2 196.2 205.1 196.9 206.8C197.7 208.5 199.4 210.7 199.8 211.5" stroke="#d9a090" stroke-width="2.5" stroke-linecap="round"/><path d="M199.8 211.5 L204.2 214.1" stroke="#2852a8" stroke-width="3.3" stroke-linecap="round"/><path d="M199.8 211.5 L204.2 214.1" stroke="#3a76e0" stroke-width="2.5" stroke-linecap="round"/><path d="M125.6 211.2C126.5 210.8 129 208.8 131.1 208.6C133.2 208.4 137.2 209.8 138.4 210" stroke="#212c4f" stroke-width="3.3" stroke-linecap="round"/><path d="M125.6 211.2C126.5 210.8 129 208.8 131.1 208.6C133.2 208.4 137.2 209.8 138.4 210" stroke="#304060" stroke-width="2.5" stroke-linecap="round"/><path d="M139.8 209.5 L143.5 209.7" stroke="#124a56" stroke-width="4" stroke-linecap="round"/><path d="M139.8 209.5 L143.5 209.7" stroke="#1a6a6a" stroke-width="3.3" stroke-linecap="round"/><path d="M124.1 217C125.3 217.3 128.7 218.8 131.1 218.8C133.5 218.8 137.2 217.3 138.4 217" stroke="#2852a8" stroke-width="4.3" stroke-linecap="round"/><path d="M124.1 217C125.3 217.3 128.7 218.8 131.1 218.8C133.5 218.8 137.2 217.3 138.4 217" stroke="#3a76e0" stroke-width="3.6" stroke-linecap="round"/><path d="M138.4 215.9 L147.4 215.9" stroke="#9c2a1e" stroke-width="8" stroke-linecap="butt"/><path d="M138.4 215.9 L147.4 215.9" stroke="#e03c1a" stroke-width="7.2" stroke-linecap="butt"/><path d="M147.4 215.9C149.1 215.6 154.4 214.9 157.3 214.4C160.2 213.9 162.4 213 164.6 213C166.8 213 169.7 214.2 170.7 214.4" stroke="#2852a8" stroke-width="7" stroke-linecap="butt"/><path d="M147.4 215.9C149.1 215.6 154.4 214.9 157.3 214.4C160.2 213.9 162.4 213 164.6 213C166.8 213 169.7 214.2 170.7 214.4" stroke="#3a76e0" stroke-width="6.3" stroke-linecap="butt"/><path d="M170.7 214.4C171.9 214.7 175.5 216.4 177.7 216.4C179.9 216.4 182.8 214.7 183.8 214.4" stroke="#9c605a" stroke-width="5.8" stroke-linecap="butt"/><path d="M170.7 214.4C171.9 214.7 175.5 216.4 177.7 216.4C179.9 216.4 182.8 214.7 183.8 214.4" stroke="#e08a70" stroke-width="5.1" stroke-linecap="butt"/><path d="M183.8 214.4C184.7 213.9 187.4 212.2 189.4 211.5C191.3 210.8 194.5 210.3 195.5 210" stroke="#808caf" stroke-width="5.8" stroke-linecap="butt"/><path d="M183.8 214.4C184.7 213.9 187.4 212.2 189.4 211.5C191.3 210.8 194.5 210.3 195.5 210" stroke="#b7c9ea" stroke-width="5.1" stroke-linecap="butt"/></g></g><g fill="#f1c9cd" filter="url(#blur2)"><path d="M1749.3 193.7C1750.9 191.4 1755.1 190 1757.9 191.2C1760.8 192.4 1763.7 197.8 1766.6 201.1C1769.4 204.4 1774.8 208 1775.2 210.9C1775.6 213.8 1771.7 216.5 1769 218.3C1766.3 220.2 1762.4 222.6 1759.2 222C1755.9 221.4 1751.1 217.5 1749.3 214.6C1747.5 211.7 1748.1 208.3 1748.1 204.8C1748.1 201.3 1747.7 195.9 1749.3 193.7Z"/><path d="M1830.6 166.6C1828.2 164.3 1821.4 162.4 1817.1 161.6C1812.8 160.8 1807.9 159.6 1804.8 161.6C1801.6 163.7 1797.4 169.6 1798 173.9C1798.6 178.3 1805.1 186.5 1808.5 187.5C1811.8 188.5 1814.4 182.2 1818.3 180.1C1822.2 178.1 1829.8 177.4 1831.9 175.2C1833.9 172.9 1833.1 168.8 1830.6 166.6Z"/><path d="M1810.9 228.2C1809.5 224.7 1809.9 213.8 1810.9 208.5C1812 203.1 1814 197.8 1817.1 196.1C1820.2 194.5 1826.8 196.1 1829.4 198.6C1832 201.1 1833.5 207.2 1832.5 210.9C1831.5 214.6 1825.4 217.7 1823.2 220.8C1821.1 223.9 1821.6 228.2 1819.6 229.4C1817.5 230.6 1812.4 231.7 1810.9 228.2Z"/><path d="M1782.6 307.1C1780.1 308.9 1776.3 315.9 1773.9 319.4C1771.6 322.9 1767.6 324.5 1768.4 328C1769.2 331.5 1775 339.3 1778.9 340.3C1782.8 341.4 1789.8 337.3 1791.8 334.2C1793.9 331.1 1791.7 326.2 1791.2 321.8C1790.7 317.5 1790.2 310.8 1788.7 308.3C1787.3 305.8 1785 305.2 1782.6 307.1Z"/></g><path d="M1780.1 153C1780.9 151.6 1783.6 147.2 1785 144.4C1786.5 141.5 1786.7 137.9 1788.7 135.7C1790.8 133.6 1794.3 132.5 1797.4 131.4C1800.4 130.4 1804.1 130.5 1807.2 129.6C1810.3 128.7 1813.8 127.4 1815.9 125.9C1817.9 124.3 1818.9 121.3 1819.6 120.3" stroke="#c5474d" stroke-width="1.8" fill="none" stroke-linecap="round"/><path d="M1770.3 149.9C1772.3 150.3 1775.9 151.5 1777.6 153C1779.4 154.5 1780.5 156.7 1780.7 159.2C1780.9 161.6 1780.2 164.9 1778.9 167.8C1777.5 170.7 1774.7 173.7 1772.7 176.4C1770.8 179.1 1768.8 181.9 1767.2 183.8C1765.5 185.8 1764.8 186.5 1762.9 188.1C1760.9 189.8 1758.1 192 1755.5 193.7C1752.8 195.3 1749.3 197.2 1746.8 198C1744.4 198.8 1742.7 198.9 1740.7 198.6C1738.6 198.3 1736.2 197.8 1734.5 196.1C1732.9 194.5 1731.1 191.2 1730.8 188.7C1730.5 186.3 1731.2 183.4 1732.7 181.3C1734.1 179.3 1736.7 178.3 1739.4 176.4C1742.2 174.6 1746.4 172.7 1749.3 170.3C1752.2 167.8 1754.6 164.3 1756.7 161.6C1758.7 159 1760.2 156.1 1761.6 154.2C1763.1 152.4 1763.9 151.3 1765.3 150.5C1766.8 149.8 1768.2 149.5 1770.3 149.9Z" fill="#c5686b" stroke="#c4484e" stroke-width="1.6"/><path d="M1764.1 169 L1772.7 161.6" stroke="#dc9a9c" stroke-width="1" fill="none" stroke-linecap="round"/><circle cx="1754.8" cy="191.8" r="5.2" fill="#f0d0d2"/><path d="M1864.5 197.4C1865.9 198.2 1870 200.7 1872.5 202.3C1875.1 203.9 1878.1 205 1879.9 207.2C1881.8 209.5 1882.6 212.8 1883.6 215.9C1884.7 218.9 1885.1 222.6 1886.1 225.7C1887.1 228.8 1888.4 232.2 1889.8 234.3C1891.2 236.5 1893.9 237.9 1894.7 238.7" stroke="#c5474d" stroke-width="1.8" fill="none" stroke-linecap="round"/><path d="M1833.1 146.2C1835.2 146.4 1838.7 146.7 1840.5 148.1C1842.4 149.4 1843 152 1844.2 154.2C1845.4 156.5 1846.1 159 1847.9 161.6C1849.7 164.3 1852.6 167.4 1855.3 170.3C1858 173.1 1861.7 176 1863.9 178.9C1866.2 181.8 1868.2 184.8 1868.9 187.5C1869.5 190.2 1868.9 193.1 1867.6 194.9C1866.4 196.8 1863.5 198.4 1861.5 198.6C1859.4 198.8 1858 198 1855.3 196.1C1852.6 194.3 1848.7 190.4 1845.4 187.5C1842.1 184.6 1837.8 181.1 1835.6 178.9C1833.3 176.6 1833.3 176.4 1831.9 173.9C1830.4 171.5 1828.4 166.8 1826.9 164.1C1825.5 161.4 1823.7 160.2 1823.2 157.9C1822.8 155.7 1823.7 152.4 1824.5 150.5C1825.3 148.7 1826.7 147.6 1828.2 146.8C1829.6 146.1 1831.1 146 1833.1 146.2Z" fill="#c5686b" stroke="#c4484e" stroke-width="1.6"/><path d="M1841.7 178.9 L1855.3 188.7" stroke="#dc9a9c" stroke-width="1" fill="none" stroke-linecap="round"/><circle cx="1829.4" cy="170.3" r="5.2" fill="#f0d0d2"/><path d="M1773.3 241.1C1771.8 241.8 1767.1 244 1764.1 245.4C1761.1 246.9 1758.3 249.1 1755.5 249.7C1752.6 250.4 1749.7 250 1746.8 249.1C1744 248.3 1741.1 246.2 1738.2 244.8C1735.3 243.5 1732.4 241.3 1729.6 241.1C1726.8 240.9 1722.9 243.2 1721.6 243.6" stroke="#c5474d" stroke-width="1.8" fill="none" stroke-linecap="round"/><path d="M1773.9 240.5C1774.3 238.9 1774.8 235.8 1776.4 234.3C1778.1 232.9 1780.9 232.7 1783.8 231.9C1786.7 231.1 1790.4 230.4 1793.7 229.4C1797 228.4 1800.2 226.5 1803.5 226C1806.8 225.4 1810.1 226.2 1813.4 226.3C1816.7 226.5 1820.4 226.4 1823.2 226.9C1826.1 227.5 1828.8 228 1830.6 229.4C1832.5 230.8 1834.1 233.3 1834.3 235.6C1834.5 237.8 1833.5 241.1 1831.9 243C1830.2 244.8 1828 245.9 1824.5 246.7C1821 247.4 1815.2 246.9 1810.9 247.3C1806.6 247.7 1802.7 248.4 1798.6 249.1C1794.5 249.9 1789.6 251.6 1786.3 251.6C1783 251.6 1780.8 250.4 1778.9 249.1C1776.9 247.9 1775.4 245.6 1774.6 244.2C1773.7 242.8 1773.6 242.1 1773.9 240.5Z" fill="#c5686b" stroke="#c4484e" stroke-width="1.6"/><path d="M1782.6 237.4 L1796.1 233.7" stroke="#dc9a9c" stroke-width="1" fill="none" stroke-linecap="round"/><circle cx="1815.2" cy="228.8" r="5.2" fill="#f0d0d2"/><path d="M1825.7 288.6C1826.7 288.2 1829.6 287.7 1831.9 286.1C1834.1 284.5 1836.6 280.1 1839.3 278.7C1841.9 277.3 1844.6 277.1 1847.9 277.5C1851.2 277.9 1855.3 280.1 1859 281.2C1862.7 282.2 1867.1 283.8 1870.1 283.6C1873.1 283.4 1875.7 280.6 1876.9 279.9" stroke="#c5474d" stroke-width="1.8" fill="none" stroke-linecap="round"/><path d="M1765.9 298.4C1765.9 296.4 1765.8 293.9 1767.2 292.3C1768.5 290.6 1770.4 289.3 1773.9 288.6C1777.5 287.9 1784.6 288.6 1788.7 288C1792.8 287.3 1795.5 286.1 1798.6 284.9C1801.7 283.6 1804.4 281.4 1807.2 280.6C1810.1 279.7 1813.2 279.4 1815.9 279.9C1818.5 280.5 1821.6 282 1823.2 283.6C1824.9 285.3 1825.7 287.7 1825.7 289.8C1825.7 291.9 1824.9 294.3 1823.2 296C1821.6 297.6 1818.7 298.4 1815.9 299.7C1813 300.9 1808.9 302.1 1806 303.4C1803.1 304.6 1801.1 306 1798.6 307.1C1796.1 308.1 1794.5 309.1 1791.2 309.5C1787.9 309.9 1782.2 309.7 1778.9 309.5C1775.6 309.3 1773.4 309.1 1771.5 308.3C1769.5 307.5 1768.1 306.2 1767.2 304.6C1766.2 303 1765.9 300.5 1765.9 298.4Z" fill="#c5686b" stroke="#c4484e" stroke-width="1.6"/><path d="M1801.1 298.4 L1815.9 293.5" stroke="#dc9a9c" stroke-width="1" fill="none" stroke-linecap="round"/><circle cx="1785" cy="308.9" r="5.2" fill="#f0d0d2"/><g fill="#c8434a"><circle cx="1765.3" cy="192.2" r="2.1"/><circle cx="1769" cy="188.1" r="1.2"/><circle cx="1761.6" cy="187.5" r="1.1"/><circle cx="1826.9" cy="180.1" r="2.1"/><circle cx="1830.6" cy="185" r="1.2"/><circle cx="1834.3" cy="178.9" r="1.1"/><circle cx="1818.3" cy="165.1" r="1.1"/><circle cx="1805.7" cy="217.7" r="2.2"/><circle cx="1801.1" cy="223.2" r="1.2"/><circle cx="1824.5" cy="218.9" r="1.2"/><circle cx="1799.8" cy="218.3" r="1"/><circle cx="1794.9" cy="315.1" r="2.1"/><circle cx="1800.4" cy="313.8" r="1.2"/><circle cx="1797.4" cy="309.5" r="1.1"/><circle cx="1777.6" cy="314.5" r="1.2"/><circle cx="1751.1" cy="201.7" r="1.2"/><circle cx="1748.7" cy="197.4" r="1"/></g><text font-weight="bold" font-size="36.5" x="117.5" y="19.5">a</text><text text-anchor="middle" x="376.5" y="39">North America Region</text><text text-anchor="middle" x="429.3" y="370.5">Gut Microbiome</text><text text-anchor="middle" x="392.5" y="423.5">Ancient <tspan font-style="italic">Homo sapiens</tspan> (1000-2000 years ago)</text><text text-anchor="middle" x="801" y="325.4">Quality Control</text><text text-anchor="middle" x="801" y="358">Metagenome Asembly</text><text text-anchor="middle" x="801" y="391.5">ORFs Screening</text><text text-anchor="middle" x="1166.5" y="119">AMP ORF Prediction</text><text text-anchor="middle" x="1169" y="355.8">AMPLiT</text><text text-anchor="middle" x="1166.3" y="389.5">Time Costs: (3200<tspan dx="1.8"> ±</tspan><tspan dx="2.4"> 53 s)</tspan></text><text text-anchor="middle" x="1495.3" y="385">Desired AMPs</text><text text-anchor="middle" x="1786" y="385.5">Experimental Validations</text></g><g id="map"><clipPath id="mclip"><rect x="191.6" y="525.2" width="491.8" height="457.2"/></clipPath><g clip-path="url(#mclip)"><rect x="191.6" y="525.2" width="491.8" height="457.2" fill="#78a5cf"/><path d="M209.5 515C209.5 516.8 209.8 521.7 209.5 525.6C209.2 529.6 208.3 534.3 207.6 538.8C206.9 543.3 206.1 547.8 205.1 552.6C204 557.4 201.6 563.3 201.3 567.7C201 572.1 202.3 575.2 203.2 579C204.1 582.7 206.1 586.7 207 590.3C207.8 593.8 208.5 596.5 208.2 600.3C207.9 604.1 205.7 609.5 205.1 612.8C204.4 616.2 203.6 617.9 204.4 620.4C205.3 622.9 208.3 625 210.1 627.9C211.9 630.8 213.9 634.8 215.1 637.9C216.4 641.1 216.2 643.8 217.6 646.7C219.1 649.7 221.6 652.6 223.9 655.5C226.2 658.4 228.9 661.8 231.4 664.3C233.9 666.8 237.3 667.8 239 670.6C240.6 673.3 239.8 677.9 241.5 680.6C243.1 683.3 247.3 684.4 249 686.9C250.7 689.4 250 692.7 251.5 695.7C253 698.6 255.5 701.5 257.8 704.4C260.1 707.4 262.8 710.7 265.3 713.2C267.8 715.7 270.7 717.2 272.8 719.5C274.9 721.8 276.6 724.7 277.8 727C279.1 729.3 277.6 732.1 280.4 733.3C283.1 734.5 290.2 733.1 294.2 733.9C298.1 734.8 301.1 737 304.2 738.3C307.3 739.7 310.1 740.8 313 742.1C315.9 743.3 319 744.2 321.8 745.8C324.5 747.5 326.4 750 329.3 752.1C332.2 754.2 336.8 756.1 339.3 758.4C341.8 760.7 343.5 764.9 344.3 765.9C345.2 767 343.5 762.7 344.7 764.7C345.9 766.7 348.9 773.3 351.8 778C354.6 782.7 359.3 788.6 362 792.9C364.6 797.3 365.9 800.9 367.5 803.9C369 806.9 370.3 808.6 371.4 811C372.4 813.3 371.6 815.7 373.7 818C375.8 820.4 380.7 823 383.9 825.1C387.2 827.2 390.7 828.9 393.3 830.6C395.9 832.3 397.8 833.5 399.6 835.3C401.4 837.1 403.8 839.3 404.3 841.6C404.8 843.8 404.1 846.9 402.7 848.6C401.4 850.3 399 851.1 396.5 851.8C394 852.4 388.1 851.5 387.8 852.5C387.6 853.6 392.4 856.3 394.9 858C397.4 859.7 400.1 861.2 402.7 862.7C405.4 864.3 408.5 866.3 410.6 867.5C412.7 868.6 412.7 868.9 415.3 869.8C417.9 870.7 423.1 871.8 426.3 872.9C429.4 874.1 431.8 875.3 434.1 876.9C436.5 878.4 439.4 880.9 440.4 882.4C441.4 883.8 439.6 882.8 440 885.5C440.4 888.3 441.3 895 443 898.7C444.7 902.4 447.2 905.4 450.1 907.7C452.9 910.1 456.8 910.9 460.2 912.8C463.5 914.6 466.9 916.5 470.3 918.8C473.6 921.2 477.8 924.4 480.3 926.9C482.9 929.4 483.2 933.1 485.4 933.9C487.6 934.8 491.5 933.1 493.4 931.9C495.4 930.8 497 928.7 497 926.9C497 925 495 922.9 493.4 920.8C491.8 918.8 488.9 916.5 487.4 914.8C485.9 913.1 486.4 912.3 484.4 910.8C482.4 909.2 477.1 907.4 475.3 905.7C473.4 904 474.5 902.9 473.3 900.7C472.1 898.5 470.1 895.3 468.2 892.6C466.4 889.9 464.2 887 462.2 884.5C460.2 882 458.1 880.1 456.1 877.6C454 875.2 452.2 872.7 449.8 869.8C447.5 866.9 444.6 863 442 860.4C439.3 857.8 436.1 856.5 434.1 854.1C432.2 851.8 431.5 848.6 430.2 846.3C428.9 843.9 428.2 842.4 426.3 840C424.3 837.6 421 834.8 418.4 832.2C415.8 829.5 413.2 826.5 410.6 824.3C408 822.1 404.8 820.4 402.7 818.8C400.7 817.3 399.3 816.6 398 814.9C396.7 813.2 395.6 811 394.9 808.6C394.2 806.3 394.8 803.3 394.1 800.8C393.5 798.3 391.6 796.1 391 793.7C390.3 791.4 389.7 788.4 390.2 786.7C390.7 785 392.3 783.7 394.1 783.5C395.9 783.4 398.7 785.4 401.2 785.9C403.7 786.4 406.7 785.9 409 786.7C411.4 787.5 412.7 789.4 415.3 790.6C417.9 791.8 423 792.3 424.7 793.7C426.4 795.2 424.7 797 425.5 799.2C426.3 801.4 428.2 804.7 429.4 807.1C430.6 809.4 431.4 811.5 432.5 813.3C433.7 815.2 435 816.5 436.5 818C437.9 819.6 440.3 820.7 441.2 822.7C442.1 824.8 440.8 828.2 442 830.6C443.1 833 445 834.7 448.1 837.1C451.1 839.6 456 842.7 460.2 845.2C464.4 847.7 470.8 850.1 473.3 852.3C475.8 854.5 473.1 856.1 475.3 858.3C477.5 860.5 482.4 862.7 486.4 865.4C490.4 868.1 497.5 871.3 499.5 874.5C501.5 877.6 497.6 882 498.5 884.5C499.3 887.1 501.2 887.4 504.5 889.6C507.9 891.8 515.1 895 518.7 897.6C522.2 900.3 522.9 903.4 525.7 905.7C528.6 908.1 532.4 909.4 535.8 911.8C539.2 914.1 542.5 917 545.9 919.8C549.2 922.7 552.6 925.7 556 928.9C559.3 932.1 563.4 935.6 566.1 939C568.7 942.4 569.9 945.7 572.1 949.1C574.3 952.4 578.2 956.1 579.2 959.2C580.2 962.2 579.2 964.2 578.2 967.2C577.1 970.3 574.3 974.9 573.1 977.3C571.9 979.7 571.6 979.5 571.1 981.8C570.6 984.2 570.3 989.8 570.1 991.4L743.4 1042.4L743.4 465.2L209.5 465.2Z" fill="#9cbedd" stroke="#9cbedd" stroke-width="200" stroke-linejoin="round" filter="url(#blur30)"/><path d="M209.5 515C209.5 516.8 209.8 521.7 209.5 525.6C209.2 529.6 208.3 534.3 207.6 538.8C206.9 543.3 206.1 547.8 205.1 552.6C204 557.4 201.6 563.3 201.3 567.7C201 572.1 202.3 575.2 203.2 579C204.1 582.7 206.1 586.7 207 590.3C207.8 593.8 208.5 596.5 208.2 600.3C207.9 604.1 205.7 609.5 205.1 612.8C204.4 616.2 203.6 617.9 204.4 620.4C205.3 622.9 208.3 625 210.1 627.9C211.9 630.8 213.9 634.8 215.1 637.9C216.4 641.1 216.2 643.8 217.6 646.7C219.1 649.7 221.6 652.6 223.9 655.5C226.2 658.4 228.9 661.8 231.4 664.3C233.9 666.8 237.3 667.8 239 670.6C240.6 673.3 239.8 677.9 241.5 680.6C243.1 683.3 247.3 684.4 249 686.9C250.7 689.4 250 692.7 251.5 695.7C253 698.6 255.5 701.5 257.8 704.4C260.1 707.4 262.8 710.7 265.3 713.2C267.8 715.7 270.7 717.2 272.8 719.5C274.9 721.8 276.6 724.7 277.8 727C279.1 729.3 277.6 732.1 280.4 733.3C283.1 734.5 290.2 733.1 294.2 733.9C298.1 734.8 301.1 737 304.2 738.3C307.3 739.7 310.1 740.8 313 742.1C315.9 743.3 319 744.2 321.8 745.8C324.5 747.5 326.4 750 329.3 752.1C332.2 754.2 336.8 756.1 339.3 758.4C341.8 760.7 343.5 764.9 344.3 765.9C345.2 767 343.5 762.7 344.7 764.7C345.9 766.7 348.9 773.3 351.8 778C354.6 782.7 359.3 788.6 362 792.9C364.6 797.3 365.9 800.9 367.5 803.9C369 806.9 370.3 808.6 371.4 811C372.4 813.3 371.6 815.7 373.7 818C375.8 820.4 380.7 823 383.9 825.1C387.2 827.2 390.7 828.9 393.3 830.6C395.9 832.3 397.8 833.5 399.6 835.3C401.4 837.1 403.8 839.3 404.3 841.6C404.8 843.8 404.1 846.9 402.7 848.6C401.4 850.3 399 851.1 396.5 851.8C394 852.4 388.1 851.5 387.8 852.5C387.6 853.6 392.4 856.3 394.9 858C397.4 859.7 400.1 861.2 402.7 862.7C405.4 864.3 408.5 866.3 410.6 867.5C412.7 868.6 412.7 868.9 415.3 869.8C417.9 870.7 423.1 871.8 426.3 872.9C429.4 874.1 431.8 875.3 434.1 876.9C436.5 878.4 439.4 880.9 440.4 882.4C441.4 883.8 439.6 882.8 440 885.5C440.4 888.3 441.3 895 443 898.7C444.7 902.4 447.2 905.4 450.1 907.7C452.9 910.1 456.8 910.9 460.2 912.8C463.5 914.6 466.9 916.5 470.3 918.8C473.6 921.2 477.8 924.4 480.3 926.9C482.9 929.4 483.2 933.1 485.4 933.9C487.6 934.8 491.5 933.1 493.4 931.9C495.4 930.8 497 928.7 497 926.9C497 925 495 922.9 493.4 920.8C491.8 918.8 488.9 916.5 487.4 914.8C485.9 913.1 486.4 912.3 484.4 910.8C482.4 909.2 477.1 907.4 475.3 905.7C473.4 904 474.5 902.9 473.3 900.7C472.1 898.5 470.1 895.3 468.2 892.6C466.4 889.9 464.2 887 462.2 884.5C460.2 882 458.1 880.1 456.1 877.6C454 875.2 452.2 872.7 449.8 869.8C447.5 866.9 444.6 863 442 860.4C439.3 857.8 436.1 856.5 434.1 854.1C432.2 851.8 431.5 848.6 430.2 846.3C428.9 843.9 428.2 842.4 426.3 840C424.3 837.6 421 834.8 418.4 832.2C415.8 829.5 413.2 826.5 410.6 824.3C408 822.1 404.8 820.4 402.7 818.8C400.7 817.3 399.3 816.6 398 814.9C396.7 813.2 395.6 811 394.9 808.6C394.2 806.3 394.8 803.3 394.1 800.8C393.5 798.3 391.6 796.1 391 793.7C390.3 791.4 389.7 788.4 390.2 786.7C390.7 785 392.3 783.7 394.1 783.5C395.9 783.4 398.7 785.4 401.2 785.9C403.7 786.4 406.7 785.9 409 786.7C411.4 787.5 412.7 789.4 415.3 790.6C417.9 791.8 423 792.3 424.7 793.7C426.4 795.2 424.7 797 425.5 799.2C426.3 801.4 428.2 804.7 429.4 807.1C430.6 809.4 431.4 811.5 432.5 813.3C433.7 815.2 435 816.5 436.5 818C437.9 819.6 440.3 820.7 441.2 822.7C442.1 824.8 440.8 828.2 442 830.6C443.1 833 445 834.7 448.1 837.1C451.1 839.6 456 842.7 460.2 845.2C464.4 847.7 470.8 850.1 473.3 852.3C475.8 854.5 473.1 856.1 475.3 858.3C477.5 860.5 482.4 862.7 486.4 865.4C490.4 868.1 497.5 871.3 499.5 874.5C501.5 877.6 497.6 882 498.5 884.5C499.3 887.1 501.2 887.4 504.5 889.6C507.9 891.8 515.1 895 518.7 897.6C522.2 900.3 522.9 903.4 525.7 905.7C528.6 908.1 532.4 909.4 535.8 911.8C539.2 914.1 542.5 917 545.9 919.8C549.2 922.7 552.6 925.7 556 928.9C559.3 932.1 563.4 935.6 566.1 939C568.7 942.4 569.9 945.7 572.1 949.1C574.3 952.4 578.2 956.1 579.2 959.2C580.2 962.2 579.2 964.2 578.2 967.2C577.1 970.3 574.3 974.9 573.1 977.3C571.9 979.7 571.6 979.5 571.1 981.8C570.6 984.2 570.3 989.8 570.1 991.4L743.4 1042.4L743.4 465.2L209.5 465.2Z" fill="#b9d2e9" stroke="#b9d2e9" stroke-width="104" stroke-linejoin="round" filter="url(#blur20)"/><path d="M209.5 515C209.5 516.8 209.8 521.7 209.5 525.6C209.2 529.6 208.3 534.3 207.6 538.8C206.9 543.3 206.1 547.8 205.1 552.6C204 557.4 201.6 563.3 201.3 567.7C201 572.1 202.3 575.2 203.2 579C204.1 582.7 206.1 586.7 207 590.3C207.8 593.8 208.5 596.5 208.2 600.3C207.9 604.1 205.7 609.5 205.1 612.8C204.4 616.2 203.6 617.9 204.4 620.4C205.3 622.9 208.3 625 210.1 627.9C211.9 630.8 213.9 634.8 215.1 637.9C216.4 641.1 216.2 643.8 217.6 646.7C219.1 649.7 221.6 652.6 223.9 655.5C226.2 658.4 228.9 661.8 231.4 664.3C233.9 666.8 237.3 667.8 239 670.6C240.6 673.3 239.8 677.9 241.5 680.6C243.1 683.3 247.3 684.4 249 686.9C250.7 689.4 250 692.7 251.5 695.7C253 698.6 255.5 701.5 257.8 704.4C260.1 707.4 262.8 710.7 265.3 713.2C267.8 715.7 270.7 717.2 272.8 719.5C274.9 721.8 276.6 724.7 277.8 727C279.1 729.3 277.6 732.1 280.4 733.3C283.1 734.5 290.2 733.1 294.2 733.9C298.1 734.8 301.1 737 304.2 738.3C307.3 739.7 310.1 740.8 313 742.1C315.9 743.3 319 744.2 321.8 745.8C324.5 747.5 326.4 750 329.3 752.1C332.2 754.2 336.8 756.1 339.3 758.4C341.8 760.7 343.5 764.9 344.3 765.9C345.2 767 343.5 762.7 344.7 764.7C345.9 766.7 348.9 773.3 351.8 778C354.6 782.7 359.3 788.6 362 792.9C364.6 797.3 365.9 800.9 367.5 803.9C369 806.9 370.3 808.6 371.4 811C372.4 813.3 371.6 815.7 373.7 818C375.8 820.4 380.7 823 383.9 825.1C387.2 827.2 390.7 828.9 393.3 830.6C395.9 832.3 397.8 833.5 399.6 835.3C401.4 837.1 403.8 839.3 404.3 841.6C404.8 843.8 404.1 846.9 402.7 848.6C401.4 850.3 399 851.1 396.5 851.8C394 852.4 388.1 851.5 387.8 852.5C387.6 853.6 392.4 856.3 394.9 858C397.4 859.7 400.1 861.2 402.7 862.7C405.4 864.3 408.5 866.3 410.6 867.5C412.7 868.6 412.7 868.9 415.3 869.8C417.9 870.7 423.1 871.8 426.3 872.9C429.4 874.1 431.8 875.3 434.1 876.9C436.5 878.4 439.4 880.9 440.4 882.4C441.4 883.8 439.6 882.8 440 885.5C440.4 888.3 441.3 895 443 898.7C444.7 902.4 447.2 905.4 450.1 907.7C452.9 910.1 456.8 910.9 460.2 912.8C463.5 914.6 466.9 916.5 470.3 918.8C473.6 921.2 477.8 924.4 480.3 926.9C482.9 929.4 483.2 933.1 485.4 933.9C487.6 934.8 491.5 933.1 493.4 931.9C495.4 930.8 497 928.7 497 926.9C497 925 495 922.9 493.4 920.8C491.8 918.8 488.9 916.5 487.4 914.8C485.9 913.1 486.4 912.3 484.4 910.8C482.4 909.2 477.1 907.4 475.3 905.7C473.4 904 474.5 902.9 473.3 900.7C472.1 898.5 470.1 895.3 468.2 892.6C466.4 889.9 464.2 887 462.2 884.5C460.2 882 458.1 880.1 456.1 877.6C454 875.2 452.2 872.7 449.8 869.8C447.5 866.9 444.6 863 442 860.4C439.3 857.8 436.1 856.5 434.1 854.1C432.2 851.8 431.5 848.6 430.2 846.3C428.9 843.9 428.2 842.4 426.3 840C424.3 837.6 421 834.8 418.4 832.2C415.8 829.5 413.2 826.5 410.6 824.3C408 822.1 404.8 820.4 402.7 818.8C400.7 817.3 399.3 816.6 398 814.9C396.7 813.2 395.6 811 394.9 808.6C394.2 806.3 394.8 803.3 394.1 800.8C393.5 798.3 391.6 796.1 391 793.7C390.3 791.4 389.7 788.4 390.2 786.7C390.7 785 392.3 783.7 394.1 783.5C395.9 783.4 398.7 785.4 401.2 785.9C403.7 786.4 406.7 785.9 409 786.7C411.4 787.5 412.7 789.4 415.3 790.6C417.9 791.8 423 792.3 424.7 793.7C426.4 795.2 424.7 797 425.5 799.2C426.3 801.4 428.2 804.7 429.4 807.1C430.6 809.4 431.4 811.5 432.5 813.3C433.7 815.2 435 816.5 436.5 818C437.9 819.6 440.3 820.7 441.2 822.7C442.1 824.8 440.8 828.2 442 830.6C443.1 833 445 834.7 448.1 837.1C451.1 839.6 456 842.7 460.2 845.2C464.4 847.7 470.8 850.1 473.3 852.3C475.8 854.5 473.1 856.1 475.3 858.3C477.5 860.5 482.4 862.7 486.4 865.4C490.4 868.1 497.5 871.3 499.5 874.5C501.5 877.6 497.6 882 498.5 884.5C499.3 887.1 501.2 887.4 504.5 889.6C507.9 891.8 515.1 895 518.7 897.6C522.2 900.3 522.9 903.4 525.7 905.7C528.6 908.1 532.4 909.4 535.8 911.8C539.2 914.1 542.5 917 545.9 919.8C549.2 922.7 552.6 925.7 556 928.9C559.3 932.1 563.4 935.6 566.1 939C568.7 942.4 569.9 945.7 572.1 949.1C574.3 952.4 578.2 956.1 579.2 959.2C580.2 962.2 579.2 964.2 578.2 967.2C577.1 970.3 574.3 974.9 573.1 977.3C571.9 979.7 571.6 979.5 571.1 981.8C570.6 984.2 570.3 989.8 570.1 991.4L743.4 1042.4L743.4 465.2L209.5 465.2Z" fill="#d0e1f0" stroke="#d0e1f0" stroke-width="40" stroke-linejoin="round" filter="url(#blur10)"/><path d="M209.5 515C209.5 516.8 209.8 521.7 209.5 525.6C209.2 529.6 208.3 534.3 207.6 538.8C206.9 543.3 206.1 547.8 205.1 552.6C204 557.4 201.6 563.3 201.3 567.7C201 572.1 202.3 575.2 203.2 579C204.1 582.7 206.1 586.7 207 590.3C207.8 593.8 208.5 596.5 208.2 600.3C207.9 604.1 205.7 609.5 205.1 612.8C204.4 616.2 203.6 617.9 204.4 620.4C205.3 622.9 208.3 625 210.1 627.9C211.9 630.8 213.9 634.8 215.1 637.9C216.4 641.1 216.2 643.8 217.6 646.7C219.1 649.7 221.6 652.6 223.9 655.5C226.2 658.4 228.9 661.8 231.4 664.3C233.9 666.8 237.3 667.8 239 670.6C240.6 673.3 239.8 677.9 241.5 680.6C243.1 683.3 247.3 684.4 249 686.9C250.7 689.4 250 692.7 251.5 695.7C253 698.6 255.5 701.5 257.8 704.4C260.1 707.4 262.8 710.7 265.3 713.2C267.8 715.7 270.7 717.2 272.8 719.5C274.9 721.8 276.6 724.7 277.8 727C279.1 729.3 277.6 732.1 280.4 733.3C283.1 734.5 290.2 733.1 294.2 733.9C298.1 734.8 301.1 737 304.2 738.3C307.3 739.7 310.1 740.8 313 742.1C315.9 743.3 319 744.2 321.8 745.8C324.5 747.5 326.4 750 329.3 752.1C332.2 754.2 336.8 756.1 339.3 758.4C341.8 760.7 343.5 764.9 344.3 765.9C345.2 767 343.5 762.7 344.7 764.7C345.9 766.7 348.9 773.3 351.8 778C354.6 782.7 359.3 788.6 362 792.9C364.6 797.3 365.9 800.9 367.5 803.9C369 806.9 370.3 808.6 371.4 811C372.4 813.3 371.6 815.7 373.7 818C375.8 820.4 380.7 823 383.9 825.1C387.2 827.2 390.7 828.9 393.3 830.6C395.9 832.3 397.8 833.5 399.6 835.3C401.4 837.1 403.8 839.3 404.3 841.6C404.8 843.8 404.1 846.9 402.7 848.6C401.4 850.3 399 851.1 396.5 851.8C394 852.4 388.1 851.5 387.8 852.5C387.6 853.6 392.4 856.3 394.9 858C397.4 859.7 400.1 861.2 402.7 862.7C405.4 864.3 408.5 866.3 410.6 867.5C412.7 868.6 412.7 868.9 415.3 869.8C417.9 870.7 423.1 871.8 426.3 872.9C429.4 874.1 431.8 875.3 434.1 876.9C436.5 878.4 439.4 880.9 440.4 882.4C441.4 883.8 439.6 882.8 440 885.5C440.4 888.3 441.3 895 443 898.7C444.7 902.4 447.2 905.4 450.1 907.7C452.9 910.1 456.8 910.9 460.2 912.8C463.5 914.6 466.9 916.5 470.3 918.8C473.6 921.2 477.8 924.4 480.3 926.9C482.9 929.4 483.2 933.1 485.4 933.9C487.6 934.8 491.5 933.1 493.4 931.9C495.4 930.8 497 928.7 497 926.9C497 925 495 922.9 493.4 920.8C491.8 918.8 488.9 916.5 487.4 914.8C485.9 913.1 486.4 912.3 484.4 910.8C482.4 909.2 477.1 907.4 475.3 905.7C473.4 904 474.5 902.9 473.3 900.7C472.1 898.5 470.1 895.3 468.2 892.6C466.4 889.9 464.2 887 462.2 884.5C460.2 882 458.1 880.1 456.1 877.6C454 875.2 452.2 872.7 449.8 869.8C447.5 866.9 444.6 863 442 860.4C439.3 857.8 436.1 856.5 434.1 854.1C432.2 851.8 431.5 848.6 430.2 846.3C428.9 843.9 428.2 842.4 426.3 840C424.3 837.6 421 834.8 418.4 832.2C415.8 829.5 413.2 826.5 410.6 824.3C408 822.1 404.8 820.4 402.7 818.8C400.7 817.3 399.3 816.6 398 814.9C396.7 813.2 395.6 811 394.9 808.6C394.2 806.3 394.8 803.3 394.1 800.8C393.5 798.3 391.6 796.1 391 793.7C390.3 791.4 389.7 788.4 390.2 786.7C390.7 785 392.3 783.7 394.1 783.5C395.9 783.4 398.7 785.4 401.2 785.9C403.7 786.4 406.7 785.9 409 786.7C411.4 787.5 412.7 789.4 415.3 790.6C417.9 791.8 423 792.3 424.7 793.7C426.4 795.2 424.7 797 425.5 799.2C426.3 801.4 428.2 804.7 429.4 807.1C430.6 809.4 431.4 811.5 432.5 813.3C433.7 815.2 435 816.5 436.5 818C437.9 819.6 440.3 820.7 441.2 822.7C442.1 824.8 440.8 828.2 442 830.6C443.1 833 445 834.7 448.1 837.1C451.1 839.6 456 842.7 460.2 845.2C464.4 847.7 470.8 850.1 473.3 852.3C475.8 854.5 473.1 856.1 475.3 858.3C477.5 860.5 482.4 862.7 486.4 865.4C490.4 868.1 497.5 871.3 499.5 874.5C501.5 877.6 497.6 882 498.5 884.5C499.3 887.1 501.2 887.4 504.5 889.6C507.9 891.8 515.1 895 518.7 897.6C522.2 900.3 522.9 903.4 525.7 905.7C528.6 908.1 532.4 909.4 535.8 911.8C539.2 914.1 542.5 917 545.9 919.8C549.2 922.7 552.6 925.7 556 928.9C559.3 932.1 563.4 935.6 566.1 939C568.7 942.4 569.9 945.7 572.1 949.1C574.3 952.4 578.2 956.1 579.2 959.2C580.2 962.2 579.2 964.2 578.2 967.2C577.1 970.3 574.3 974.9 573.1 977.3C571.9 979.7 571.6 979.5 571.1 981.8C570.6 984.2 570.3 989.8 570.1 991.4L743.4 1042.4L743.4 465.2L209.5 465.2Z" fill="#dbe9f5" stroke="#dbe9f5" stroke-width="9" stroke-linejoin="round" filter="url(#blur4)"/><clipPath id="lclip"><path d="M209.5 515C209.5 516.8 209.8 521.7 209.5 525.6C209.2 529.6 208.3 534.3 207.6 538.8C206.9 543.3 206.1 547.8 205.1 552.6C204 557.4 201.6 563.3 201.3 567.7C201 572.1 202.3 575.2 203.2 579C204.1 582.7 206.1 586.7 207 590.3C207.8 593.8 208.5 596.5 208.2 600.3C207.9 604.1 205.7 609.5 205.1 612.8C204.4 616.2 203.6 617.9 204.4 620.4C205.3 622.9 208.3 625 210.1 627.9C211.9 630.8 213.9 634.8 215.1 637.9C216.4 641.1 216.2 643.8 217.6 646.7C219.1 649.7 221.6 652.6 223.9 655.5C226.2 658.4 228.9 661.8 231.4 664.3C233.9 666.8 237.3 667.8 239 670.6C240.6 673.3 239.8 677.9 241.5 680.6C243.1 683.3 247.3 684.4 249 686.9C250.7 689.4 250 692.7 251.5 695.7C253 698.6 255.5 701.5 257.8 704.4C260.1 707.4 262.8 710.7 265.3 713.2C267.8 715.7 270.7 717.2 272.8 719.5C274.9 721.8 276.6 724.7 277.8 727C279.1 729.3 277.6 732.1 280.4 733.3C283.1 734.5 290.2 733.1 294.2 733.9C298.1 734.8 301.1 737 304.2 738.3C307.3 739.7 310.1 740.8 313 742.1C315.9 743.3 319 744.2 321.8 745.8C324.5 747.5 326.4 750 329.3 752.1C332.2 754.2 336.8 756.1 339.3 758.4C341.8 760.7 343.5 764.9 344.3 765.9C345.2 767 343.5 762.7 344.7 764.7C345.9 766.7 348.9 773.3 351.8 778C354.6 782.7 359.3 788.6 362 792.9C364.6 797.3 365.9 800.9 367.5 803.9C369 806.9 370.3 808.6 371.4 811C372.4 813.3 371.6 815.7 373.7 818C375.8 820.4 380.7 823 383.9 825.1C387.2 827.2 390.7 828.9 393.3 830.6C395.9 832.3 397.8 833.5 399.6 835.3C401.4 837.1 403.8 839.3 404.3 841.6C404.8 843.8 404.1 846.9 402.7 848.6C401.4 850.3 399 851.1 396.5 851.8C394 852.4 388.1 851.5 387.8 852.5C387.6 853.6 392.4 856.3 394.9 858C397.4 859.7 400.1 861.2 402.7 862.7C405.4 864.3 408.5 866.3 410.6 867.5C412.7 868.6 412.7 868.9 415.3 869.8C417.9 870.7 423.1 871.8 426.3 872.9C429.4 874.1 431.8 875.3 434.1 876.9C436.5 878.4 439.4 880.9 440.4 882.4C441.4 883.8 439.6 882.8 440 885.5C440.4 888.3 441.3 895 443 898.7C444.7 902.4 447.2 905.4 450.1 907.7C452.9 910.1 456.8 910.9 460.2 912.8C463.5 914.6 466.9 916.5 470.3 918.8C473.6 921.2 477.8 924.4 480.3 926.9C482.9 929.4 483.2 933.1 485.4 933.9C487.6 934.8 491.5 933.1 493.4 931.9C495.4 930.8 497 928.7 497 926.9C497 925 495 922.9 493.4 920.8C491.8 918.8 488.9 916.5 487.4 914.8C485.9 913.1 486.4 912.3 484.4 910.8C482.4 909.2 477.1 907.4 475.3 905.7C473.4 904 474.5 902.9 473.3 900.7C472.1 898.5 470.1 895.3 468.2 892.6C466.4 889.9 464.2 887 462.2 884.5C460.2 882 458.1 880.1 456.1 877.6C454 875.2 452.2 872.7 449.8 869.8C447.5 866.9 444.6 863 442 860.4C439.3 857.8 436.1 856.5 434.1 854.1C432.2 851.8 431.5 848.6 430.2 846.3C428.9 843.9 428.2 842.4 426.3 840C424.3 837.6 421 834.8 418.4 832.2C415.8 829.5 413.2 826.5 410.6 824.3C408 822.1 404.8 820.4 402.7 818.8C400.7 817.3 399.3 816.6 398 814.9C396.7 813.2 395.6 811 394.9 808.6C394.2 806.3 394.8 803.3 394.1 800.8C393.5 798.3 391.6 796.1 391 793.7C390.3 791.4 389.7 788.4 390.2 786.7C390.7 785 392.3 783.7 394.1 783.5C395.9 783.4 398.7 785.4 401.2 785.9C403.7 786.4 406.7 785.9 409 786.7C411.4 787.5 412.7 789.4 415.3 790.6C417.9 791.8 423 792.3 424.7 793.7C426.4 795.2 424.7 797 425.5 799.2C426.3 801.4 428.2 804.7 429.4 807.1C430.6 809.4 431.4 811.5 432.5 813.3C433.7 815.2 435 816.5 436.5 818C437.9 819.6 440.3 820.7 441.2 822.7C442.1 824.8 440.8 828.2 442 830.6C443.1 833 445 834.7 448.1 837.1C451.1 839.6 456 842.7 460.2 845.2C464.4 847.7 470.8 850.1 473.3 852.3C475.8 854.5 473.1 856.1 475.3 858.3C477.5 860.5 482.4 862.7 486.4 865.4C490.4 868.1 497.5 871.3 499.5 874.5C501.5 877.6 497.6 882 498.5 884.5C499.3 887.1 501.2 887.4 504.5 889.6C507.9 891.8 515.1 895 518.7 897.6C522.2 900.3 522.9 903.4 525.7 905.7C528.6 908.1 532.4 909.4 535.8 911.8C539.2 914.1 542.5 917 545.9 919.8C549.2 922.7 552.6 925.7 556 928.9C559.3 932.1 563.4 935.6 566.1 939C568.7 942.4 569.9 945.7 572.1 949.1C574.3 952.4 578.2 956.1 579.2 959.2C580.2 962.2 579.2 964.2 578.2 967.2C577.1 970.3 574.3 974.9 573.1 977.3C571.9 979.7 571.6 979.5 571.1 981.8C570.6 984.2 570.3 989.8 570.1 991.4L743.4 1042.4L743.4 465.2L209.5 465.2Z"/></clipPath><g clip-path="url(#lclip)"><rect x="191.6" y="525.2" width="491.8" height="457.2" fill="url(#landg)"/><g filter="url(#blur8)"><path d="M203.8 520C210.1 509.5 232.9 515.8 237.7 520C242.5 524.2 234.6 536.3 232.7 545.1C230.8 553.9 228.1 563.9 226.4 572.7C224.7 581.5 222.6 589.4 222.6 597.8C222.6 606.2 223.9 614.1 226.4 622.9C228.9 631.7 232.9 641.5 237.7 650.5C242.5 659.5 249.4 668.3 255.3 676.8C261.1 685.4 268.2 693.8 272.8 701.9C277.4 710.1 282.9 722.6 282.9 725.8C282.9 728.9 278.7 726.8 272.8 720.8C267 714.7 256.1 699.8 247.7 689.4C239.4 678.9 230 669.1 222.6 658C215.3 646.9 207.6 635.4 203.8 622.9C200.1 610.3 200.1 599.9 200.1 582.7C200.1 565.6 197.5 530.5 203.8 520Z" fill="#a5b3a0" opacity="0.85"/><path d="M236.4 619.1C237.7 615.4 244.2 617.7 247.7 620.4C251.3 623.1 255.7 629.6 257.8 635.4C259.9 641.3 258.2 649.7 260.3 655.5C262.4 661.4 266.1 665.3 270.3 670.6C274.5 675.8 279.5 682.7 285.4 686.9C291.2 691.1 300.9 691.7 305.5 695.7C310.1 699.6 313 706.5 313 710.7C313 714.9 308.8 719.9 305.5 720.8C302.1 721.6 296.7 719.9 292.9 715.7C289.1 711.6 287.5 701.5 282.9 695.7C278.3 689.8 270.7 685.8 265.3 680.6C259.9 675.4 254.4 670.6 250.2 664.3C246.1 658 242.5 650.5 240.2 643C237.9 635.4 235.2 622.9 236.4 619.1Z" fill="#a59f94" opacity="0.95"/><path d="M292.9 590.3C305.9 585.2 357.9 583.2 373.2 590.3C388.6 597.4 383 615.4 385 632.9C387 650.5 391.1 687.3 385 695.7C378.9 704 360.5 689.4 348.1 683.1C335.7 676.8 319.3 668.5 310.5 658C301.7 647.6 298.3 631.7 295.4 620.4C292.5 609.1 279.9 595.3 292.9 590.3Z" fill="#d0b19a" opacity="0.75"/><path d="M247.7 527.5C260.3 518.3 319.9 518.7 335.6 527.5C351.2 536.3 354.4 571 341.8 580.2C329.3 589.4 276 591.5 260.3 582.7C244.6 574 235.2 536.7 247.7 527.5Z" fill="#c3ab92" opacity="0.7"/><path d="M310.5 708.2C318.7 700.9 372.6 696.2 385 708.2C397.4 720.2 390.5 768 385 780C379.5 791.9 360.1 784.6 351.9 780C343.6 775.3 342.5 764.1 335.6 752.1C328.7 740.2 302.2 715.5 310.5 708.2Z" fill="#b9aa94" opacity="0.8"/><path d="M518.3 636.2C524 629.9 545 628.8 555.9 629.4C566.7 629.9 578.1 633.3 583.2 639.6C588.3 645.9 588.3 659 586.6 666.9C584.9 674.9 580.9 684.6 573 687.5C565 690.3 547.3 687.5 538.8 684C530.2 680.6 525.1 674.9 521.7 666.9C518.3 659 512.6 642.5 518.3 636.2Z" fill="#ddd4cf" opacity="0.75"/><path d="M467 530.3C473.3 525.4 496.6 526.8 504.6 533.7C512.6 540.5 517.7 564.1 514.9 571.3C512 578.4 495.5 577.8 487.5 576.4C479.5 575 470.4 570.4 467 562.7C463.6 555 460.8 535.1 467 530.3Z" fill="#d6cdc6" opacity="0.6"/><path d="M598.6 520C613.4 505.8 676.9 475.6 692.6 520C708.2 564.4 706.8 742.1 692.6 786.6C678.3 831 624.2 802.5 607.1 786.6C590 770.6 590.6 721.1 590 690.9C589.5 660.7 602.3 633.9 603.7 605.4C605.1 577 583.8 534.2 598.6 520Z" fill="#d9c9b2" opacity="0.9"/><path d="M410.6 690.9C427.7 685.2 480.4 688 504.6 690.9C528.8 693.7 543.1 696.6 555.9 708C568.7 719.3 584.3 747.2 581.5 759.2C578.7 771.2 563 780.1 538.8 780.1C514.6 780.1 459 768.4 436.3 759.2C413.5 750 406.4 736.4 402.1 725C397.8 713.7 393.5 696.6 410.6 690.9Z" fill="#d2b199" opacity="0.7"/><path d="M409.7 769.6C418.2 766.2 446.7 766.2 460.2 774.6C473.6 783 480.3 805.7 490.4 820C500.5 834.3 510.6 846.9 520.7 860.3C530.8 873.8 540.8 887.2 550.9 900.7C561 914.1 575.3 926.7 581.2 941C587.1 955.3 587.9 978.8 586.2 986.4C584.5 993.9 574.5 993.9 571.1 986.4C567.7 978.8 572.8 953.6 566.1 941C559.3 928.4 541.7 920.8 530.8 910.8C519.8 900.7 509.7 889.7 500.5 880.5C491.3 871.3 485.4 863.4 475.3 855.3C465.2 847.2 450.9 842.2 440 832.1C429.1 822 414.8 805.2 409.7 794.8C404.7 784.4 401.3 772.9 409.7 769.6Z" fill="#b7a78f" opacity="0.85"/><path d="M540.8 820C550.7 813.3 606.8 804.9 620 820C633.2 835.1 624.8 897.3 620 910.8C615.2 924.2 601.1 909.1 591.3 900.7C581.4 892.3 569.4 873.8 561 860.3C552.6 846.9 531 826.7 540.8 820Z" fill="#d3b49c" opacity="0.8"/><path d="M530.8 870.4C530.8 863.7 559.3 880.5 571.1 890.6C582.9 900.7 593.2 915 601.3 930.9C609.5 946.9 622.5 977.1 620 986.4C617.5 995.6 594.4 995.6 586.2 986.4C578.1 977.1 580.3 950.3 571.1 930.9C561.8 911.6 530.8 877.1 530.8 870.4Z" fill="#c4a68e" opacity="0.6"/><path d="M347.8 767.8C350.5 762.6 379.2 775.7 387.1 783.5C394.9 791.4 387.1 802.5 394.9 814.9C402.7 827.3 421 843.9 434.1 858C447.2 872.2 472 893 473.3 900C474.6 907 453.7 905.7 442 900C430.2 894.3 414.5 880.1 402.7 865.9C391 851.7 380.5 831.2 371.4 814.9C362.2 798.6 345.2 773.1 347.8 767.8Z" fill="#c0ac92" opacity="0.8"/></g><rect x="191.6" y="525.2" width="491.8" height="457.2" filter="url(#relief)" style="mix-blend-mode:multiply" opacity="0.62"/></g><g stroke="#9cc3cf" stroke-width="1" fill="none" opacity="0.75"><path d="M504.6 639.6C502.9 642.5 498.3 651 494.4 656.7C490.4 662.4 486.1 669.2 480.7 673.8C475.3 678.3 467 681.2 461.9 684C456.8 686.9 454.2 688 449.9 690.9C445.7 693.7 442.8 698.8 436.3 701.1C429.7 703.4 417.5 703.4 410.6 704.5C403.8 705.7 398.4 704.5 395.3 708C392.1 711.4 391 719.3 391.8 725C392.7 730.7 399.8 735.9 400.4 742.1C400.9 748.4 397.2 757.5 395.3 762.6C393.3 767.8 389.6 771.2 388.4 772.9"/><path d="M561 673.8C561.8 676.6 567 683.7 566.1 690.9C565.3 698 558.7 708 555.9 716.5C553 725 549 733.6 549 742.1C549 750.7 554.2 760.4 555.9 767.8C557.6 775.2 558.7 783.4 559.3 786.6"/><path d="M385 567.8C389.3 569.3 402.1 575.8 410.6 576.4C419.2 577 428.6 569.8 436.3 571.3C443.9 572.7 453.3 582.7 456.8 584.9"/><path d="M584.9 576.4C588.6 578.9 597.7 587.5 607.1 591.8C616.5 596 628.6 599.2 641.3 602C654 604.9 676.2 607.7 683.2 608.9"/><path d="M607.1 545.6C611.4 547.6 624.2 559 632.8 557.6C641.3 556.2 650 541.6 658.4 537.1C666.8 532.5 679 531.4 683.2 530.3"/><path d="M590 665.2C595.7 664.4 612.8 659.5 624.2 660.1C635.6 660.7 648.6 667.5 658.4 668.7C668.2 669.8 679 667.2 683.2 666.9"/><path d="M624.2 708C628.5 709.4 640 714.2 649.8 716.5C659.7 718.8 677.6 720.8 683.2 721.6"/></g><path d="M426 595.2C425.9 593.3 428.6 591.8 430.3 592.6C432 593.5 434.4 597.6 436.3 600.3C438.1 603 441 607 441.4 608.9C441.8 610.7 440.5 612.3 438.8 611.4C437.1 610.6 433.3 606.4 431.1 603.7C429 601 426.2 597 426 595.2Z" fill="#cfe0f5"/><path d="M365.7 752.1C366.1 751.1 368.8 749.8 370.7 750.2C372.6 750.7 376.6 753.3 377 754.6C377.4 756 374.7 758.1 373.2 758.4C371.7 758.7 369.4 757.6 368.2 756.5C366.9 755.5 365.3 753.2 365.7 752.1Z" fill="#d5e6f5"/><path d="M287.9 639.2C288.4 637.7 291 637.7 291.6 639.2C292.3 640.7 292.4 646.5 291.9 648C291.4 649.4 289.2 649.4 288.5 648C287.8 646.5 287.4 640.7 287.9 639.2Z" fill="#c5d8ea"/><path d="M290.4 525.2V982.4M388.2 525.2V982.4M486.2 525.2V982.4M584.1 525.2V982.4M191.6 628.1H683.4M191.6 724.2H683.4M191.6 814.2H683.4M191.6 900.5H683.4" stroke="#4e5a66" stroke-width="0.9" opacity="0.3" fill="none"/><g stroke="#7d7466" stroke-width="1.1" fill="none" opacity="0.8"><path d="M206 587.5L465 587.5"/><path d="M290.4 587.5L290.4 649.2L393 742"/><path d="M406.4 587.5L406.4 685.8"/><path d="M348.1 525L348.1 587.5"/><path d="M465 525L465 607.2L641.3 607.2"/><path d="M504.6 607.2L504.6 788.5"/><path d="M406.4 685.8L683.4 685.8"/><path d="M641.3 607.2L641.3 685.8"/><path d="M602.9 525L602.9 607.2"/><path d="M602.9 566.5L683.4 566.5"/><path d="M641.3 628L683.4 628"/><path d="M622.5 685.8L622.5 778"/><path d="M623.4 695.2L683.4 695.2"/><path d="M553 778L622.5 778"/></g><g stroke="#7d7466" stroke-width="0.8" fill="none" opacity="0.7"><path d="M504.7 788.8C506.1 793.5 512.2 807.6 513.2 817.1C514.1 826.5 509.4 835.9 510.4 845.4C511.3 854.8 518.8 865.2 518.8 873.6C518.8 882.1 511.8 892.5 510.4 896.3"/><path d="M552.8 817.1C556.6 824.1 566 850.1 575.4 859.5C584.9 868.9 602.8 866.6 609.4 873.6C616 880.7 610.3 894.9 615 901.9C619.7 909 631.5 909 637.7 916.1C643.8 923.2 649.4 939.7 651.8 944.4"/><path d="M609.4 873.6C610.8 868.9 613.1 852.4 617.9 845.4C622.6 838.3 634.4 833.6 637.7 831.2"/><path d="M538.6 913.2C543.4 913.7 557.5 911.8 566.9 916.1C576.4 920.3 588.2 929.3 595.2 938.7C602.3 948.1 607 967 609.4 972.7"/><path d="M651.8 944.4 L683.8 938.7"/><path d="M626.3 955.7 L637.7 984"/></g><path d="M404.5 848.4H432.5" stroke="#7d7466" stroke-width="1" opacity="0.9"/><path d="M346 767.5L388 765.5L391 769L456.5 787.5L504.6 788.5L521.7 788.5L521.7 781.5L553 781.5L567 792L581 806L592.5 820L609.5 828.5L626.5 820L638 817L655 820L666 834L677.5 845.5L686 852.5" stroke="#4f4a42" stroke-width="1.7" fill="none" opacity="0.95" stroke-linejoin="round"/></g><rect x="191.6" y="525.2" width="491.8" height="457.2" fill="none" stroke="#3a3a3a" stroke-width="1.8"/><path d="M290.4 982.4v-4.5M290.4 525.2v4.5M388.2 982.4v-4.5M388.2 525.2v4.5M486.2 982.4v-4.5M486.2 525.2v4.5M584.1 982.4v-4.5M584.1 525.2v4.5" stroke="#2a2a2a" stroke-width="1.2" fill="none"/><path d="M455.1 645.3L484.5 645.3L469.8 670.4Z" fill="#fb4e4e"/><path d="M475.6 692.6L505.5 692.6L490.6 667.3Z" fill="#86c0ee"/><path d="M563.8 868.2L594.1 868.2L579 894.1Z" fill="#2cc6c6"/><g class="wl" fill="#fff" font-weight="bold" font-size="25.8"><text text-anchor="middle" font-size="25.8" x="476" y="628">Arid West Cave (3)</text><text text-anchor="middle" font-size="25.8" x="508.6" y="715">Boomerang (1)</text><text text-anchor="middle" font-size="25.8" x="580.2" y="855">Zape (3)</text></g><text font-size="25.5" x="134" y="537.5">45<tspan font-size="27" dx="-1.3" dy="2.4">°</tspan><tspan dx="-0.8" dy="-2.4">N</tspan></text><text font-size="25.5" x="134.5" y="633.8">40<tspan font-size="27" dx="-1.3" dy="2.4">°</tspan><tspan dx="-0.8" dy="-2.4">N</tspan></text><text font-size="25.5" x="134.2" y="735.6">35<tspan font-size="27" dx="-1.3" dy="2.4">°</tspan><tspan dx="-0.8" dy="-2.4">N</tspan></text><text font-size="25.5" x="133.4" y="821">30<tspan font-size="27" dx="-1.3" dy="2.4">°</tspan><tspan dx="-0.8" dy="-2.4">N</tspan></text><text font-size="25.5" x="133.3" y="911.2">25<tspan font-size="27" dx="-1.3" dy="2.4">°</tspan><tspan dx="-0.8" dy="-2.4">N</tspan></text><text font-size="25.5" x="133" y="986">20<tspan font-size="27" dx="-1.3" dy="2.4">°</tspan><tspan dx="-0.8" dy="-2.4">N</tspan></text><text font-size="25.5" x="151.3" y="1012.5">125<tspan font-size="27" dx="-1.3" dy="2.4">°</tspan><tspan dx="-0.8" dy="-2.4">W</tspan></text><text font-size="25.5" x="249.9" y="1012.5">120<tspan font-size="27" dx="-1.3" dy="2.4">°</tspan><tspan dx="-0.8" dy="-2.4">W</tspan></text><text font-size="25.5" x="353.8" y="1012.5">115<tspan font-size="27" dx="-1.3" dy="2.4">°</tspan><tspan dx="-0.8" dy="-2.4">W</tspan></text><text font-size="25.5" x="458.4" y="1012.5">110<tspan font-size="27" dx="-1.3" dy="2.4">°</tspan><tspan dx="-0.8" dy="-2.4">W</tspan></text><text font-size="25.5" x="558.5" y="1012.5">105<tspan font-size="27" dx="-1.3" dy="2.4">°</tspan><tspan dx="-0.8" dy="-2.4">W</tspan></text><text font-size="25.5" x="658.9" y="1012.5">100<tspan font-size="27" dx="-1.3" dy="2.4">°</tspan><tspan dx="-0.8" dy="-2.4">W</tspan></text><text font-weight="bold" font-size="36.5" x="124" y="498.8">b</text><text text-anchor="middle" x="425.5" y="514.4">North America Region</text></g><g id="bars"><rect x="844.2" y="723.2" width="54.4" height="200.2" fill="#4dbbee"/><rect x="910.5" y="760.7" width="54.4" height="162.7" fill="#4dbbee"/><rect x="976.7" y="641.1" width="54.4" height="282.3" fill="#4dbbee"/><rect x="1043" y="767" width="54.4" height="156.4" fill="#fa7778"/><rect x="1109.2" y="764.7" width="54.4" height="158.7" fill="#fa7778"/><rect x="1175.5" y="756.8" width="54.4" height="166.6" fill="#fa7778"/><rect x="1241.7" y="609.8" width="54.4" height="313.6" fill="#62e38d"/><rect x="805.1" y="532.4" width="530.9" height="391" fill="none" stroke="#2a2a2a" stroke-width="2.3"/><text text-anchor="end" x="789.3" y="546.2">5</text><text text-anchor="end" x="789.3" y="581.8">4.5</text><text text-anchor="end" x="789.3" y="615">4</text><text text-anchor="end" x="789.3" y="655.6">3.5</text><text text-anchor="end" x="789.3" y="693.5">3</text><text text-anchor="end" x="789.3" y="736.5">2.5</text><text text-anchor="end" x="789.3" y="772.2">2</text><text text-anchor="end" x="789.3" y="809.7">1.5</text><text text-anchor="end" x="789.3" y="850.4">1</text><text text-anchor="end" x="789.3" y="887.8">0.5</text><text text-anchor="end" x="789.3" y="929.2">0</text><path d="M805.1 532.4h-7.6M805.1 571.5h-7.6M805.1 610.6h-7.6M805.1 649.7h-7.6M805.1 688.8h-7.6M805.1 727.9h-7.6M805.1 767h-7.6M805.1 806.1h-7.6M805.1 845.2h-7.6M805.1 884.3h-7.6M805.1 923.4h-7.6" stroke="#2a2a2a" stroke-width="2" fill="none"/><rect x="826" y="551" width="51" height="7.7" fill="#4dbbee"/><text x="883.8" y="561.5">Zape</text><rect x="826" y="585.4" width="51" height="7.7" fill="#fa7778"/><text x="883.8" y="598">Arid West Cave</text><rect x="826" y="619.5" width="51" height="7.7" fill="#62e38d"/><text x="883.8" y="630">Boomerang</text><text x="784.5" y="519.8">×10<tspan font-size="19" dy="-8">5</tspan></text><text text-anchor="middle" x="1063.5" y="522.3">The Number of Predicted ORFs</text><text text-anchor="middle" transform="translate(734.5 715) rotate(-90)">Counts</text><text text-anchor="end" transform="translate(875.2 944.8) rotate(-35)">Zape 1</text><text text-anchor="end" transform="translate(950 947) rotate(-35)">Zape 2</text><text text-anchor="end" transform="translate(1009.9 948) rotate(-35)">Zape 3</text><text text-anchor="end" transform="translate(1078.9 945.9) rotate(-35)">Arid West Cave 1</text><text text-anchor="end" transform="translate(1144.4 947.5) rotate(-35)">Arid West Cave 2</text><text text-anchor="end" transform="translate(1205 947.9) rotate(-35)">Arid West Cave 3</text><text text-anchor="end" transform="translate(1277.6 944.8) rotate(-35)">Boomerang1</text></g><g id="pc"><path d="M1472.9 598C1473.9 598 1473.9 599.9 1475.9 601.1C1478 602.2 1480.8 603.8 1485.1 605.1C1489.3 606.5 1497.8 608.2 1501.3 609.2C1504.7 610.2 1506.1 610.3 1505.7 611.2C1505.4 612 1502.4 612.9 1499.2 614.2C1496.1 615.6 1490.1 617.4 1487.1 619.3C1484 621.2 1481.9 623.5 1481 625.4C1480.2 627.2 1481 628.8 1482 630.4C1483 632.1 1486 634 1487.1 635.5C1488.2 637 1488.9 638.2 1488.7 639.6C1488.5 640.9 1486.7 642.1 1486.1 643.6C1485.5 645.1 1484.7 647 1485.1 648.7C1485.4 650.4 1487.4 651.6 1488.1 653.7C1488.8 655.9 1489.3 659.2 1489.5 661.9C1489.7 664.6 1489.7 667.3 1489.1 670C1488.5 672.7 1487.1 675.4 1486.1 678.1C1485.1 680.8 1483.2 683.8 1483 686.2C1482.9 688.5 1484.5 690.2 1485.1 692.3C1485.7 694.3 1486.5 696.3 1486.7 698.3C1486.8 700.4 1486.3 702.4 1486.1 704.4C1485.8 706.4 1486.1 708.5 1485.1 710.5C1484 712.5 1481.6 714.5 1480 716.6C1478.4 718.6 1476.4 720.8 1475.3 722.7C1474.3 724.5 1473.6 726 1473.5 727.7C1473.4 729.4 1474 730.9 1474.9 732.8C1475.8 734.6 1478 736.5 1479 738.9C1479.9 741.2 1480.7 744.6 1480.6 747C1480.5 749.3 1478.8 751 1478.6 753C1478.3 755.1 1478.5 756.8 1479 759.1C1479.5 761.5 1481.1 764.5 1481.4 767.2C1481.7 769.9 1481 772.6 1480.6 775.3C1480.2 778 1479.8 780.7 1479 783.4C1478.2 786.1 1476.7 789.2 1475.9 791.6C1475.2 793.9 1474.5 795.6 1474.5 797.6C1474.5 799.7 1475.2 801.3 1475.9 803.7C1476.7 806.1 1478.4 809.5 1479 811.8C1479.6 814.2 1479.9 815.9 1479.6 817.9C1479.2 819.9 1477.9 822.3 1477 824C1476 825.7 1474.6 826.8 1473.9 828C1473.2 829.2 1473.2 831.1 1472.9 831.1C1472.6 831.1 1472.6 829.2 1471.9 828C1471.2 826.8 1469.8 825.7 1468.8 824C1467.9 822.3 1466.6 819.9 1466.2 817.9C1465.9 815.9 1466.2 814.2 1466.8 811.8C1467.4 809.5 1469.1 806.1 1469.9 803.7C1470.6 801.3 1471.3 799.7 1471.3 797.6C1471.3 795.6 1470.6 793.9 1469.9 791.6C1469.1 789.2 1467.6 786.1 1466.8 783.4C1466 780.7 1465.6 778 1465.2 775.3C1464.8 772.6 1464.1 769.9 1464.4 767.2C1464.7 764.5 1466.3 761.5 1466.8 759.1C1467.3 756.8 1467.5 755.1 1467.2 753C1467 751 1465.3 749.3 1465.2 747C1465.1 744.6 1465.9 741.2 1466.8 738.9C1467.8 736.5 1470 734.6 1470.9 732.8C1471.8 730.9 1472.4 729.4 1472.3 727.7C1472.2 726 1471.5 724.5 1470.5 722.7C1469.4 720.8 1467.4 718.6 1465.8 716.6C1464.2 714.5 1461.8 712.5 1460.7 710.5C1459.7 708.5 1460 706.4 1459.7 704.4C1459.5 702.4 1459 700.4 1459.1 698.3C1459.3 696.3 1460.1 694.3 1460.7 692.3C1461.3 690.2 1462.9 688.5 1462.8 686.2C1462.6 683.8 1460.7 680.8 1459.7 678.1C1458.7 675.4 1457.3 672.7 1456.7 670C1456.1 667.3 1456.1 664.6 1456.3 661.9C1456.5 659.2 1457 655.9 1457.7 653.7C1458.4 651.6 1460.4 650.4 1460.7 648.7C1461.1 647 1460.3 645.1 1459.7 643.6C1459.1 642.1 1457.3 640.9 1457.1 639.6C1456.9 638.2 1457.6 637 1458.7 635.5C1459.8 634 1462.8 632.1 1463.8 630.4C1464.8 628.8 1465.6 627.2 1464.8 625.4C1463.9 623.5 1461.8 621.2 1458.7 619.3C1455.7 617.4 1449.7 615.6 1446.6 614.2C1443.4 612.9 1440.4 612 1440.1 611.2C1439.7 610.3 1441.1 610.2 1444.5 609.2C1448 608.2 1456.5 606.5 1460.7 605.1C1465 603.8 1467.8 602.2 1469.9 601.1C1471.9 599.9 1471.9 598 1472.9 598Z" fill="#7fccff" stroke="#111" stroke-width="0.9" stroke-linejoin="round"/><path d="M1581.8 587.9C1582.1 587.9 1582.1 591.4 1582.8 593C1583.5 594.5 1584 595.7 1585.9 597C1587.7 598.4 1590.9 599.7 1594 601.1C1597 602.4 1601.7 603.8 1604.1 605.1C1606.5 606.5 1607.4 608 1608.1 609.2C1608.9 610.3 1609.1 611 1608.8 612.2C1608.4 613.4 1607.6 614.7 1606.1 616.3C1604.7 617.8 1601.7 619.5 1600 621.3C1598.4 623.2 1596.9 625.4 1596.4 627.4C1595.9 629.4 1596.1 631.1 1597 633.5C1597.9 635.8 1600 638.9 1602.1 641.6C1604.1 644.3 1607.2 647 1609.2 649.7C1611.1 652.4 1612.8 655.4 1613.8 657.8C1614.8 660.2 1615.3 661.9 1615.2 663.9C1615.1 665.9 1614.6 667.6 1613.2 670C1611.9 672.3 1608.7 675.7 1607.1 678.1C1605.5 680.4 1604.4 682.1 1603.7 684.1C1603 686.2 1603.3 688.2 1603.1 690.2C1602.8 692.3 1602.7 694.3 1602.1 696.3C1601.4 698.3 1600.5 700 1599 702.4C1597.5 704.7 1594.9 707.8 1592.9 710.5C1591 713.2 1588.9 716.2 1587.5 718.6C1586 721 1584.9 722.7 1584.2 724.7C1583.6 726.7 1583.3 728.4 1583.4 730.8C1583.5 733.1 1584.3 736.2 1584.8 738.9C1585.4 741.6 1586.3 743.9 1586.9 747C1587.4 750 1587.9 753.7 1588.3 757.1C1588.6 760.5 1589 763.9 1588.9 767.2C1588.8 770.6 1587.9 774.3 1587.5 777.4C1587 780.4 1586.4 783.1 1586.3 785.5C1586.2 787.8 1586.3 789.2 1586.9 791.6C1587.4 793.9 1588.8 797 1589.5 799.7C1590.2 802.4 1591 805.4 1591.3 807.8C1591.7 810.1 1591.8 811.8 1591.5 813.8C1591.3 815.9 1590.8 817.9 1589.9 819.9C1589 821.9 1587.3 824 1586.3 826C1585.2 828 1584.2 829.7 1583.4 832.1C1582.7 834.4 1582.3 840.2 1581.8 840.2C1581.3 840.2 1580.9 834.4 1580.2 832.1C1579.4 829.7 1578.4 828 1577.3 826C1576.3 824 1574.6 821.9 1573.7 819.9C1572.8 817.9 1572.3 815.9 1572.1 813.8C1571.8 811.8 1571.9 810.1 1572.3 807.8C1572.6 805.4 1573.4 802.4 1574.1 799.7C1574.8 797 1576.2 793.9 1576.7 791.6C1577.3 789.2 1577.4 787.8 1577.3 785.5C1577.2 783.1 1576.6 780.4 1576.1 777.4C1575.7 774.3 1574.8 770.6 1574.7 767.2C1574.6 763.9 1575 760.5 1575.3 757.1C1575.7 753.7 1576.2 750 1576.7 747C1577.3 743.9 1578.2 741.6 1578.8 738.9C1579.3 736.2 1580.1 733.1 1580.2 730.8C1580.3 728.4 1580 726.7 1579.4 724.7C1578.7 722.7 1577.6 721 1576.1 718.6C1574.7 716.2 1572.6 713.2 1570.7 710.5C1568.7 707.8 1566.1 704.7 1564.6 702.4C1563.1 700 1562.2 698.3 1561.5 696.3C1560.9 694.3 1560.8 692.3 1560.5 690.2C1560.3 688.2 1560.6 686.2 1559.9 684.1C1559.2 682.1 1558.1 680.4 1556.5 678.1C1554.9 675.7 1551.7 672.3 1550.4 670C1549 667.6 1548.5 665.9 1548.4 663.9C1548.3 661.9 1548.8 660.2 1549.8 657.8C1550.8 655.4 1552.5 652.4 1554.4 649.7C1556.4 647 1559.5 644.3 1561.5 641.6C1563.6 638.9 1565.7 635.8 1566.6 633.5C1567.5 631.1 1567.7 629.4 1567.2 627.4C1566.7 625.4 1565.2 623.2 1563.6 621.3C1561.9 619.5 1558.9 617.8 1557.5 616.3C1556 614.7 1555.2 613.4 1554.8 612.2C1554.5 611 1554.7 610.3 1555.5 609.2C1556.2 608 1557.1 606.5 1559.5 605.1C1561.9 603.8 1566.6 602.4 1569.6 601.1C1572.7 599.7 1575.9 598.4 1577.7 597C1579.6 595.7 1580.1 594.5 1580.8 593C1581.5 591.4 1581.5 587.9 1581.8 587.9Z" fill="#fb8585" stroke="#111" stroke-width="0.9" stroke-linejoin="round"/><path d="M1472.9 610.6V634.5M1472.9 714.1V818.3" stroke="#111" stroke-width="0.9" stroke-dasharray="7 3.5" fill="none"/><path d="M1469.3 610.6h7.2M1469.3 818.3h7.2" stroke="#111" stroke-width="0.9" fill="none"/><rect x="1464.8" y="634.5" width="16.6" height="79.6" fill="none" stroke="#000" stroke-width="1.6"/><path d="M1464.8 671H1481.5" stroke="#000" stroke-width="1.6"/><path d="M1581.8 610.6V642.6M1581.8 701V789.1" stroke="#111" stroke-width="0.9" stroke-dasharray="7 3.5" fill="none"/><path d="M1578.2 610.6h7.2M1578.2 789.1h7.2" stroke="#111" stroke-width="0.9" fill="none"/><rect x="1573.7" y="642.6" width="16.2" height="58.4" fill="none" stroke="#000" stroke-width="1.6"/><path d="M1573.7 669.6H1589.9" stroke="#000" stroke-width="1.6"/><rect x="1419.3" y="532.3" width="216.8" height="392.1" fill="none" stroke="#2a2a2a" stroke-width="2.4"/><text text-anchor="end" x="1406.5" y="545.3">15</text><text text-anchor="end" x="1407.4" y="671.1">10</text><text text-anchor="end" x="1403.9" y="801.8">5</text><text text-anchor="end" x="1406.5" y="932.2">0</text><path d="M1419.3 532.3h-7.6M1419.3 663h-7.6M1636.1 663h2.6M1419.3 793.7h-7.6M1636.1 793.7h2.6M1419.3 924.4h-7.6" stroke="#2a2a2a" stroke-width="2.2" fill="none"/><path d="M1490.6 590V579.7Q1490.6 576.7 1493.6 576.7H1561.3Q1564.3 576.7 1564.3 579.7V590" stroke="#000" stroke-width="2.2" fill="none"/><text text-anchor="middle" x="1526.5" y="568.6">NS</text><text font-weight="bold" font-size="36.5" x="1354" y="495.3">c</text><text text-anchor="middle" x="1525" y="521.6">Isoelectric Point</text><text text-anchor="end" transform="translate(1488 946) rotate(-35)">Predicted AMPs</text><text text-anchor="end" transform="translate(1595 945) rotate(-35)">Known AMPs</text></g><g id="pd"><path d="M1777.4 576.7C1777.4 576.7 1777.5 632.5 1777.5 661.9C1777.5 691.2 1777.5 736.2 1777.6 753C1777.7 769.9 1778 759.5 1778.2 763.2C1778.4 766.9 1778.5 771.6 1778.6 775.3C1778.8 779.1 1778.8 782.1 1779 785.5C1779.2 788.8 1779.5 791.9 1779.8 795.6C1780.1 799.3 1780.5 803.7 1780.8 807.8C1781.2 811.8 1781.4 816.9 1781.9 819.9C1782.4 823 1783.3 824 1783.9 826C1784.5 828 1785.1 830.1 1785.5 832.1C1785.9 834.1 1785.9 835.8 1786.1 838.2C1786.3 840.5 1786.1 843.6 1786.5 846.3C1786.9 849 1787.4 852 1788.5 854.4C1789.7 856.7 1792.3 858.6 1793.2 860.5C1794.2 862.3 1794.3 863.8 1794.2 865.5C1794.1 867.2 1793.7 869.1 1792.6 870.6C1791.5 872.1 1789.2 873.5 1787.5 874.6C1785.8 875.8 1783.9 876.7 1782.5 877.7C1781 878.7 1779.7 879.9 1779 880.7C1778.3 881.6 1777.7 882.1 1778.4 882.7C1779.2 883.4 1780.6 884.1 1783.5 884.8C1786.4 885.4 1790.7 886.1 1795.6 886.8C1800.5 887.5 1813.2 888.4 1812.9 889.2C1812.5 890.1 1798.5 891.1 1793.6 891.9C1788.7 892.6 1786.2 893.2 1783.5 893.9C1780.8 894.6 1779.4 895.9 1777.4 895.9C1775.4 895.9 1774 894.6 1771.3 893.9C1768.6 893.2 1766.1 892.6 1761.2 891.9C1756.3 891.1 1742.3 890.1 1741.9 889.2C1741.6 888.4 1754.3 887.5 1759.2 886.8C1764.1 886.1 1768.4 885.4 1771.3 884.8C1774.2 884.1 1775.6 883.4 1776.4 882.7C1777.1 882.1 1776.5 881.6 1775.8 880.7C1775.1 879.9 1773.8 878.7 1772.3 877.7C1770.9 876.7 1769 875.8 1767.3 874.6C1765.6 873.5 1763.3 872.1 1762.2 870.6C1761.1 869.1 1760.7 867.2 1760.6 865.5C1760.5 863.8 1760.6 862.3 1761.6 860.5C1762.5 858.6 1765.1 856.7 1766.3 854.4C1767.4 852 1767.9 849 1768.3 846.3C1768.7 843.6 1768.5 840.5 1768.7 838.2C1768.9 835.8 1768.9 834.1 1769.3 832.1C1769.7 830.1 1770.3 828 1770.9 826C1771.5 824 1772.4 823 1772.9 819.9C1773.4 816.9 1773.6 811.8 1774 807.8C1774.3 803.7 1774.7 799.3 1775 795.6C1775.3 791.9 1775.6 788.8 1775.8 785.5C1776 782.1 1776 779.1 1776.2 775.3C1776.3 771.6 1776.4 766.9 1776.6 763.2C1776.8 759.5 1777.1 769.9 1777.2 753C1777.3 736.2 1777.3 691.2 1777.3 661.9C1777.3 632.5 1777.4 576.7 1777.4 576.7Z" fill="#7fccff" stroke="#111" stroke-width="0.9" stroke-linejoin="round"/><path d="M1885.4 648.7C1885.4 648.7 1885.4 669.8 1885.5 682.1C1885.6 694.4 1885.7 712.5 1885.8 722.7C1885.9 732.8 1886 736.2 1886.2 742.9C1886.4 749.7 1886.6 756.4 1887 763.2C1887.4 769.9 1888 778.4 1888.4 783.4C1888.9 788.5 1889.4 790.2 1889.9 793.6C1890.4 797 1890.9 800.3 1891.5 803.7C1892.1 807.1 1892.7 810.5 1893.5 813.8C1894.4 817.2 1895.4 821.3 1896.5 824C1897.7 826.7 1899.6 828 1900.6 830.1C1901.6 832.1 1901.9 833.8 1902.6 836.1C1903.3 838.5 1903.3 841.5 1904.7 844.2C1906 846.9 1908.9 849.6 1910.7 852.3C1912.6 855 1914.6 858.3 1915.8 860.5C1917 862.6 1917.8 863.8 1917.8 865.5C1917.8 867.2 1917.1 869.1 1915.8 870.6C1914.4 872.1 1911.9 873.3 1909.7 874.6C1907.5 876 1904.1 877.5 1902.6 878.7C1901.1 879.9 1900.3 880.7 1900.6 881.7C1900.9 882.7 1903.1 883.8 1904.7 884.8C1906.2 885.8 1909 886.8 1909.7 887.8C1910.4 888.8 1910.1 889.8 1908.7 890.8C1907.4 891.9 1904.1 892.9 1901.6 893.9C1899.1 894.9 1895.7 895.9 1893.5 896.9C1891.3 897.9 1889.8 899 1888.4 900C1887.1 900.9 1886.4 902.6 1885.4 902.6C1884.4 902.6 1883.7 900.9 1882.4 900C1881 899 1879.5 897.9 1877.3 896.9C1875.1 895.9 1871.7 894.9 1869.2 893.9C1866.7 892.9 1863.4 891.9 1862.1 890.8C1860.7 889.8 1860.4 888.8 1861.1 887.8C1861.8 886.8 1864.6 885.8 1866.1 884.8C1867.7 883.8 1869.9 882.7 1870.2 881.7C1870.5 880.7 1869.7 879.9 1868.2 878.7C1866.7 877.5 1863.3 876 1861.1 874.6C1858.9 873.3 1856.4 872.1 1855 870.6C1853.7 869.1 1853 867.2 1853 865.5C1853 863.8 1853.8 862.6 1855 860.5C1856.2 858.3 1858.2 855 1860.1 852.3C1861.9 849.6 1864.8 846.9 1866.1 844.2C1867.5 841.5 1867.5 838.5 1868.2 836.1C1868.9 833.8 1869.2 832.1 1870.2 830.1C1871.2 828 1873.1 826.7 1874.3 824C1875.4 821.3 1876.4 817.2 1877.3 813.8C1878.1 810.5 1878.7 807.1 1879.3 803.7C1879.9 800.3 1880.4 797 1880.9 793.6C1881.4 790.2 1881.9 788.5 1882.4 783.4C1882.8 778.4 1883.4 769.9 1883.8 763.2C1884.2 756.4 1884.4 749.7 1884.6 742.9C1884.8 736.2 1884.9 732.8 1885 722.7C1885.1 712.5 1885.2 694.4 1885.3 682.1C1885.4 669.8 1885.4 648.7 1885.4 648.7Z" fill="#fb8585" stroke="#111" stroke-width="0.9" stroke-linejoin="round"/><path d="M1777.4 785.1V838.2M1777.4 873.6V889.2" stroke="#111" stroke-width="0.9" stroke-dasharray="7 3.5" fill="none"/><path d="M1773.8 785.1h7.2M1773.8 889.2h7.2" stroke="#111" stroke-width="0.9" fill="none"/><rect x="1769.3" y="838.2" width="16.2" height="35.5" fill="none" stroke="#000" stroke-width="1.6"/><path d="M1769.3 861.5H1785.5" stroke="#000" stroke-width="1.6"/><path d="M1885.4 787.5V838.6M1885.4 873.6V889.2" stroke="#111" stroke-width="0.9" stroke-dasharray="7 3.5" fill="none"/><path d="M1881.8 787.5h7.2M1881.8 889.2h7.2" stroke="#111" stroke-width="0.9" fill="none"/><rect x="1877.3" y="838.6" width="16.6" height="35.1" fill="none" stroke="#000" stroke-width="1.6"/><path d="M1877.3 859.4H1893.9" stroke="#000" stroke-width="1.6"/><rect x="1723.8" y="533.2" width="216.3" height="391.3" fill="none" stroke="#2a2a2a" stroke-width="2.4"/><text text-anchor="end" x="1708.5" y="542.3">1</text><text text-anchor="end" x="1711.5" y="614.1">0.8</text><text text-anchor="end" x="1711.9" y="685.3">0.6</text><text text-anchor="end" x="1710.9" y="756.9">0.4</text><text text-anchor="end" x="1713.2" y="827.2">0.2</text><text text-anchor="end" x="1712.2" y="898.4">0</text><path d="M1723.8 533.2h-7.6M1723.8 604.6h-7.6M1940.1 604.6h2.6M1723.8 675.5h-7.6M1940.1 675.5h2.6M1723.8 746.5h-7.6M1940.1 746.5h2.6M1723.8 817.9h-7.6M1940.1 817.9h2.6M1723.8 889.1h-7.6" stroke="#2a2a2a" stroke-width="2.2" fill="none"/><path d="M1792.2 591V581.2Q1792.2 578.2 1795.2 578.2H1863.6Q1866.6 578.2 1866.6 581.2V591" stroke="#000" stroke-width="2.2" fill="none"/><text text-anchor="middle" x="1829.5" y="568.2">NS</text><text font-weight="bold" font-size="36.5" x="1670.6" y="495.3">d</text><text text-anchor="middle" x="1830.4" y="521.6">Aromaticity</text><text text-anchor="end" transform="translate(1788 949) rotate(-35)">Predicted AMPs</text><text text-anchor="end" transform="translate(1900 947) rotate(-35)">Known AMPs</text></g><g id="pe"><path d="M245.2 1250.6C245.2 1250.6 245.3 1302.9 245.3 1319.4C245.4 1335.8 245.4 1341.8 245.5 1349.3C245.6 1356.8 245.8 1359.3 246.1 1364.3C246.4 1369.2 246.9 1374.7 247.3 1379.2C247.6 1383.7 247.7 1387.2 248.2 1391.2C248.7 1395.2 249.4 1399.2 250.3 1403.2C251.2 1407.1 252.2 1411.1 253.6 1415.1C255 1419.1 256.8 1423.1 258.7 1427.1C260.5 1431.1 262.7 1435.1 264.6 1439.1C266.6 1443.1 268.7 1447 270.6 1451C272.5 1455 274.6 1459.5 276 1463C277.4 1466.5 278.4 1469.5 279 1472C279.6 1474.5 280 1476 279.6 1478C279.2 1480 278.6 1482 276.6 1483.9C274.6 1485.9 270.9 1488.2 267.6 1489.9C264.4 1491.7 260.2 1492.9 257.2 1494.4C254.2 1495.9 251.5 1497.2 249.7 1498.9C247.8 1500.7 246.8 1502.2 246.1 1504.9C245.3 1507.6 245.5 1515.4 245.2 1515.4C244.9 1515.4 245.1 1507.6 244.3 1504.9C243.6 1502.2 242.6 1500.7 240.7 1498.9C238.9 1497.2 236.2 1495.9 233.2 1494.4C230.2 1492.9 226 1491.7 222.8 1489.9C219.5 1488.2 215.8 1485.9 213.8 1483.9C211.8 1482 211.2 1480 210.8 1478C210.4 1476 210.8 1474.5 211.4 1472C212 1469.5 213 1466.5 214.4 1463C215.8 1459.5 217.9 1455 219.8 1451C221.7 1447 223.8 1443.1 225.8 1439.1C227.7 1435.1 229.9 1431.1 231.7 1427.1C233.6 1423.1 235.4 1419.1 236.8 1415.1C238.2 1411.1 239.2 1407.1 240.1 1403.2C241 1399.2 241.7 1395.2 242.2 1391.2C242.7 1387.2 242.8 1383.7 243.1 1379.2C243.5 1374.7 244 1369.2 244.3 1364.3C244.6 1359.3 244.8 1356.8 244.9 1349.3C245 1341.8 245 1335.8 245.1 1319.4C245.1 1302.9 245.2 1250.6 245.2 1250.6Z" fill="#7fccff" stroke="#111" stroke-width="0.9" stroke-linejoin="round"/><path d="M358.6 1208.7C358.6 1208.7 358.7 1223.1 358.7 1229.6C358.8 1236.1 358.7 1242.6 358.9 1247.6C359.1 1252.6 359.5 1255 360.1 1259.5C360.6 1264 361.5 1269.5 362.2 1274.5C362.8 1279.5 363.4 1284.5 364 1289.5C364.6 1294.4 365.2 1299.4 365.8 1304.4C366.3 1309.4 366.9 1314.4 367.3 1319.4C367.7 1324.4 368 1329.4 368.2 1334.3C368.4 1339.3 368.6 1344.3 368.5 1349.3C368.4 1354.3 367.5 1359.3 367.6 1364.3C367.7 1369.2 368.2 1374.7 369.1 1379.2C370 1383.7 372 1387.2 373 1391.2C374 1395.2 374.5 1399.2 375.1 1403.2C375.7 1407.1 375.3 1411.1 376.6 1415.1C377.8 1419.1 380.5 1423.1 382.5 1427.1C384.5 1431.1 386.9 1435.1 388.5 1439.1C390.1 1443.1 391.4 1447 392.1 1451C392.9 1455 393 1459.5 393 1463C393 1466.5 393.1 1469 392.1 1472C391.1 1475 389.6 1478 387 1481C384.4 1483.9 379.8 1487.2 376.6 1489.9C373.3 1492.7 370.1 1494.9 367.6 1497.4C365.1 1499.9 363 1502.2 361.6 1504.9C360.2 1507.6 359.7 1509.6 359.2 1513.9C358.7 1518.1 358.8 1530.3 358.6 1530.3C358.4 1530.3 358.5 1518.1 358 1513.9C357.5 1509.6 357 1507.6 355.6 1504.9C354.2 1502.2 352.1 1499.9 349.6 1497.4C347.1 1494.9 343.9 1492.7 340.6 1489.9C337.4 1487.2 332.8 1483.9 330.2 1481C327.6 1478 326.1 1475 325.1 1472C324.1 1469 324.2 1466.5 324.2 1463C324.2 1459.5 324.3 1455 325.1 1451C325.8 1447 327.1 1443.1 328.7 1439.1C330.3 1435.1 332.7 1431.1 334.7 1427.1C336.7 1423.1 339.4 1419.1 340.6 1415.1C341.9 1411.1 341.5 1407.1 342.1 1403.2C342.7 1399.2 343.2 1395.2 344.2 1391.2C345.2 1387.2 347.2 1383.7 348.1 1379.2C349 1374.7 349.5 1369.2 349.6 1364.3C349.7 1359.3 348.8 1354.3 348.7 1349.3C348.6 1344.3 348.8 1339.3 349 1334.3C349.2 1329.4 349.5 1324.4 349.9 1319.4C350.3 1314.4 350.9 1309.4 351.4 1304.4C352 1299.4 352.6 1294.4 353.2 1289.5C353.8 1284.5 354.4 1279.5 355 1274.5C355.7 1269.5 356.6 1264 357.1 1259.5C357.7 1255 358.1 1252.6 358.3 1247.6C358.5 1242.6 358.4 1236.1 358.5 1229.6C358.5 1223.1 358.6 1208.7 358.6 1208.7Z" fill="#fb8585" stroke="#111" stroke-width="0.9" stroke-linejoin="round"/><path d="M245.2 1390.6V1441.2M245.2 1474.4V1510.3" stroke="#111" stroke-width="0.9" stroke-dasharray="7 3.5" fill="none"/><path d="M241.6 1390.6h7.2M241.6 1510.3h7.2" stroke="#111" stroke-width="0.9" fill="none"/><rect x="236.5" y="1441.2" width="17.4" height="33.2" fill="none" stroke="#000" stroke-width="1.6"/><path d="M236.5 1460H253.9" stroke="#000" stroke-width="1.6"/><path d="M358.6 1273.9V1387.6M358.6 1463.9V1504.3" stroke="#111" stroke-width="0.9" stroke-dasharray="7 3.5" fill="none"/><path d="M355 1273.9h7.2M355 1504.3h7.2" stroke="#111" stroke-width="0.9" fill="none"/><rect x="350.2" y="1387.6" width="17.1" height="76.3" fill="none" stroke="#000" stroke-width="1.6"/><path d="M350.2 1437.6H367.3" stroke="#000" stroke-width="1.6"/><rect x="188.5" y="1165.9" width="227.6" height="385.9" fill="none" stroke="#2a2a2a" stroke-width="2.4"/><text text-anchor="end" x="175.1" y="1178.4">8</text><text text-anchor="end" x="174.6" y="1228.9">7</text><text text-anchor="end" x="173.9" y="1277.2">6</text><text text-anchor="end" x="173.3" y="1323.1">5</text><text text-anchor="end" x="171.7" y="1367.9">4</text><text text-anchor="end" x="173.3" y="1415.5">3</text><text text-anchor="end" x="174.2" y="1463">2</text><text text-anchor="end" x="169.8" y="1509.6">1</text><text text-anchor="end" x="175.1" y="1559.6">0</text><path d="M188.5 1165.9h-7.6M188.5 1214.1h-7.6M188.5 1262.4h-7.6M188.5 1310.6h-7.6M188.5 1358.8h-7.6M188.5 1407.1h-7.6M188.5 1455.3h-7.6M188.5 1503.6h-7.6M188.5 1551.8h-7.6" stroke="#2a2a2a" stroke-width="2.2" fill="none"/><path d="M262.7 1240.3V1231Q262.7 1228 265.7 1228H333.8Q336.8 1228 336.8 1231V1240.3" stroke="#000" stroke-width="2.2" fill="none"/><text text-anchor="middle" font-size="39.4" x="299.4" y="1226.8">***</text><text font-weight="bold" font-size="36.5" x="117.5" y="1134">e</text><text x="184.5" y="1140.2">Molecular Weight</text><text text-anchor="middle" transform="translate(134.5 1350) rotate(-90)">kDa</text><text text-anchor="end" transform="translate(262 1574) rotate(-35)">Predicted AMPs</text><text text-anchor="end" transform="translate(368 1574) rotate(-35)">Known AMPs</text></g><g id="pf"><g><path d="M764.5 1259.7C767.4 1255 772.9 1249.8 777.2 1246.4C781.4 1242.9 783.7 1239.9 789.9 1239C796.1 1238.1 805.9 1241.9 814.3 1241C822.7 1240.1 831.6 1234.1 840.3 1233.7C849 1233.3 857.7 1237.9 866.3 1238.7C874.8 1239.5 885.3 1236.2 891.7 1238.7C898.2 1241.2 898.5 1249.5 904.9 1253.7C911.4 1258 921.8 1262.4 930.4 1264.1C939 1265.8 947.7 1261.6 956.4 1264.1C965 1266.5 973.7 1275.2 982.3 1278.8C990.9 1282.4 1000.8 1284.1 1007.8 1285.8C1014.7 1287.5 1024.1 1287.5 1024.1 1288.8C1024.1 1290.1 1014.7 1292.4 1007.8 1293.8C1000.8 1295.2 990.9 1296 982.3 1297.1C973.7 1298.3 965 1298.5 956.4 1300.8C947.7 1303.1 939 1308.8 930.4 1310.8C921.8 1312.9 913.5 1312.8 904.9 1313.2C896.4 1313.6 887.6 1313.2 879 1313.2C870.4 1313.2 862.1 1312.3 853.5 1313.2C845 1314 836.2 1318.6 827.6 1318.2C818.9 1317.8 809.6 1314 801.6 1310.8C793.6 1307.7 785.5 1303.1 779.7 1299.2C774 1295.2 770.4 1291.2 767 1287.1C763.6 1283.1 759.8 1279.3 759.4 1274.8C758.9 1270.2 761.5 1264.5 764.5 1259.7Z" fill="#93c9ae"/><g fill="#93c9ae"><circle cx="771.8" cy="1256.8" r="4.4"/><circle cx="775.6" cy="1253.9" r="4.4"/><circle cx="750.5" cy="1257.8" r="4.4"/><circle cx="775.2" cy="1251.9" r="4.4"/><circle cx="770.6" cy="1249.7" r="4.4"/><circle cx="776" cy="1251.9" r="4.4"/><circle cx="777" cy="1258.6" r="4.4"/><circle cx="780.2" cy="1246.8" r="4.4"/><circle cx="785.3" cy="1241.7" r="4.4"/><circle cx="789.3" cy="1238" r="4.4"/><circle cx="793.2" cy="1240.9" r="4.4"/><circle cx="780.5" cy="1240.4" r="4.4"/><circle cx="788.5" cy="1246.5" r="4.4"/><circle cx="793.5" cy="1240.8" r="4.4"/><circle cx="800.5" cy="1238.3" r="4.4"/><circle cx="788.9" cy="1235.3" r="4.4"/><circle cx="787.6" cy="1241.5" r="4.4"/><circle cx="800.4" cy="1242.8" r="4.4"/><circle cx="788.2" cy="1239.1" r="4.4"/><circle cx="792.6" cy="1239.2" r="4.4"/><circle cx="808.9" cy="1241" r="4.4"/><circle cx="829.4" cy="1232.3" r="4.4"/><circle cx="818.3" cy="1240.4" r="4.4"/><circle cx="842.5" cy="1229.3" r="4.4"/><circle cx="843.7" cy="1235.2" r="4.4"/><circle cx="813.1" cy="1239.2" r="4.4"/><circle cx="817" cy="1245.6" r="4.4"/><circle cx="851" cy="1233.1" r="4.4"/><circle cx="838.1" cy="1230.7" r="4.4"/><circle cx="856.7" cy="1232.5" r="4.4"/><circle cx="852.4" cy="1234" r="4.4"/><circle cx="848" cy="1233.8" r="4.4"/><circle cx="861.8" cy="1237.2" r="4.4"/><circle cx="849.1" cy="1234.2" r="4.4"/><circle cx="851.5" cy="1231.7" r="4.4"/><circle cx="881.1" cy="1237.8" r="4.4"/><circle cx="869" cy="1239.1" r="4.4"/><circle cx="880.5" cy="1240" r="4.4"/><circle cx="893.1" cy="1240" r="4.4"/><circle cx="891.4" cy="1236.7" r="4.4"/><circle cx="872.9" cy="1240.8" r="4.4"/><circle cx="889.7" cy="1238.7" r="4.4"/><circle cx="897.9" cy="1252.4" r="4.4"/><circle cx="896.3" cy="1249.3" r="4.4"/><circle cx="900.7" cy="1242.4" r="4.4"/><circle cx="913.1" cy="1254.6" r="4.4"/><circle cx="896.9" cy="1245.1" r="4.4"/><circle cx="897.8" cy="1248.7" r="4.4"/><circle cx="898.9" cy="1249.2" r="4.4"/><circle cx="917.3" cy="1265.3" r="4.4"/><circle cx="912.8" cy="1259.8" r="4.4"/><circle cx="918.5" cy="1263.3" r="4.4"/><circle cx="920.8" cy="1258.2" r="4.4"/><circle cx="927.4" cy="1259.5" r="4.4"/><circle cx="908.1" cy="1259.3" r="4.4"/><circle cx="919.2" cy="1266.5" r="4.4"/><circle cx="933.3" cy="1268" r="4.4"/><circle cx="945" cy="1259.4" r="4.4"/><circle cx="946.7" cy="1271.7" r="4.4"/><circle cx="947.8" cy="1264.5" r="4.4"/><circle cx="942.2" cy="1270.1" r="4.4"/><circle cx="939.3" cy="1268.6" r="4.4"/><circle cx="954.4" cy="1259.5" r="4.4"/><circle cx="968.2" cy="1275.3" r="4.4"/><circle cx="973.9" cy="1277.5" r="4.4"/><circle cx="978.6" cy="1274.4" r="4.4"/><circle cx="965.3" cy="1272.3" r="4.4"/><circle cx="972.9" cy="1274.8" r="4.4"/><circle cx="968.9" cy="1270" r="4.4"/><circle cx="958.2" cy="1264.3" r="4.4"/><circle cx="993.9" cy="1279.4" r="4.4"/><circle cx="985.8" cy="1284" r="4.4"/><circle cx="988.5" cy="1280.5" r="4.4"/><circle cx="991.5" cy="1278.6" r="4.4"/><circle cx="988.1" cy="1282.1" r="4.4"/><circle cx="981.2" cy="1279.9" r="4.4"/><circle cx="991.9" cy="1279.2" r="4.4"/><circle cx="1026" cy="1291.5" r="4.4"/><circle cx="1017.3" cy="1290.5" r="4.4"/><circle cx="1003.6" cy="1288.4" r="4.4"/><circle cx="1031.6" cy="1289.5" r="4.4"/><circle cx="1013.7" cy="1286.9" r="4.4"/><circle cx="1001.8" cy="1287.8" r="4.4"/><circle cx="1001.2" cy="1290.8" r="4.4"/><circle cx="1013.9" cy="1289.8" r="4.4"/><circle cx="1025.2" cy="1290.8" r="4.4"/><circle cx="1015.4" cy="1295.7" r="4.4"/><circle cx="1026.9" cy="1290.5" r="4.4"/><circle cx="1009.9" cy="1283" r="4.4"/><circle cx="1014.5" cy="1287.9" r="4.4"/><circle cx="1017.3" cy="1291.7" r="4.4"/><circle cx="1002.6" cy="1300.3" r="4.4"/><circle cx="1002.6" cy="1294.3" r="4.4"/><circle cx="984.9" cy="1299.1" r="4.4"/><circle cx="1011.3" cy="1287.3" r="4.4"/><circle cx="994.9" cy="1296.9" r="4.4"/><circle cx="983.3" cy="1299" r="4.4"/><circle cx="1005.1" cy="1296.7" r="4.4"/><circle cx="965.8" cy="1296.9" r="4.4"/><circle cx="962.9" cy="1298.5" r="4.4"/><circle cx="961.6" cy="1300.3" r="4.4"/><circle cx="962.7" cy="1296.2" r="4.4"/><circle cx="958.3" cy="1300.6" r="4.4"/><circle cx="954.9" cy="1298.3" r="4.4"/><circle cx="959.2" cy="1302.3" r="4.4"/><circle cx="928.1" cy="1308" r="4.4"/><circle cx="935.9" cy="1307" r="4.4"/><circle cx="945.4" cy="1306.8" r="4.4"/><circle cx="933.7" cy="1306.8" r="4.4"/><circle cx="939" cy="1309.5" r="4.4"/><circle cx="937.1" cy="1306.7" r="4.4"/><circle cx="952.4" cy="1300.9" r="4.4"/><circle cx="913.7" cy="1311.8" r="4.4"/><circle cx="911.9" cy="1317" r="4.4"/><circle cx="926.8" cy="1319.1" r="4.4"/><circle cx="904.4" cy="1314.1" r="4.4"/><circle cx="910.7" cy="1308.6" r="4.4"/><circle cx="905.4" cy="1314.6" r="4.4"/><circle cx="926" cy="1312.4" r="4.4"/><circle cx="886" cy="1312.3" r="4.4"/><circle cx="891.6" cy="1312.8" r="4.4"/><circle cx="897" cy="1312.7" r="4.4"/><circle cx="889.4" cy="1319.3" r="4.4"/><circle cx="896.6" cy="1312.1" r="4.4"/><circle cx="875" cy="1312.7" r="4.4"/><circle cx="904.1" cy="1311.6" r="4.4"/><circle cx="870.2" cy="1315.8" r="4.4"/><circle cx="847.8" cy="1314.6" r="4.4"/><circle cx="867.9" cy="1313.9" r="4.4"/><circle cx="856.6" cy="1313.4" r="4.4"/><circle cx="866.1" cy="1309.6" r="4.4"/><circle cx="872.4" cy="1317.4" r="4.4"/><circle cx="875.5" cy="1314.3" r="4.4"/><circle cx="846.5" cy="1315" r="4.4"/><circle cx="825.4" cy="1317.2" r="4.4"/><circle cx="842.5" cy="1316.3" r="4.4"/><circle cx="860.9" cy="1307.4" r="4.4"/><circle cx="836.4" cy="1315.1" r="4.4"/><circle cx="822.5" cy="1322.9" r="4.4"/><circle cx="845.9" cy="1315.9" r="4.4"/><circle cx="817.3" cy="1312.9" r="4.4"/><circle cx="816" cy="1314.6" r="4.4"/><circle cx="799.4" cy="1316.4" r="4.4"/><circle cx="820.7" cy="1317.9" r="4.4"/><circle cx="803.2" cy="1316" r="4.4"/><circle cx="818.6" cy="1314.8" r="4.4"/><circle cx="834.7" cy="1315.2" r="4.4"/><circle cx="791.1" cy="1305.3" r="4.4"/><circle cx="797.9" cy="1308" r="4.4"/><circle cx="789.5" cy="1305.5" r="4.4"/><circle cx="801.4" cy="1306.6" r="4.4"/><circle cx="795.7" cy="1307.5" r="4.4"/><circle cx="795.4" cy="1306.1" r="4.4"/><circle cx="796" cy="1304.1" r="4.4"/><circle cx="784.5" cy="1300.1" r="4.4"/><circle cx="764.3" cy="1292" r="4.4"/><circle cx="776.6" cy="1294" r="4.4"/><circle cx="768.9" cy="1286.8" r="4.4"/><circle cx="772.6" cy="1288.7" r="4.4"/><circle cx="779.7" cy="1297.6" r="4.4"/><circle cx="780.4" cy="1294.8" r="4.4"/><circle cx="759.7" cy="1282.8" r="4.4"/><circle cx="760.7" cy="1279.8" r="4.4"/><circle cx="758.4" cy="1290.5" r="4.4"/><circle cx="747" cy="1275.7" r="4.4"/><circle cx="776.8" cy="1285.1" r="4.4"/><circle cx="771.3" cy="1281" r="4.4"/><circle cx="753.8" cy="1275.2" r="4.4"/><circle cx="771.6" cy="1270.6" r="4.4"/><circle cx="763.7" cy="1267.8" r="4.4"/><circle cx="766.4" cy="1270.2" r="4.4"/><circle cx="759.5" cy="1270.8" r="4.4"/><circle cx="762.5" cy="1269.9" r="4.4"/><circle cx="767.4" cy="1256.9" r="4.4"/><circle cx="758.9" cy="1269" r="4.4"/></g><g fill="#93c9ae"><circle cx="756.8" cy="1189.6" r="4.4"/><circle cx="677.9" cy="1238" r="4.4"/><circle cx="698.3" cy="1241.4" r="4.4"/><circle cx="700.8" cy="1244.7" r="4.4"/><circle cx="708.5" cy="1238" r="4.4"/><circle cx="713.6" cy="1243" r="4.4"/><circle cx="698.3" cy="1269.8" r="4.4"/><circle cx="723.7" cy="1293.1" r="4.4"/><circle cx="751.7" cy="1294.8" r="4.4"/><circle cx="749.2" cy="1224.7" r="4.4"/><circle cx="754.3" cy="1229.7" r="4.4"/><circle cx="746.6" cy="1236.4" r="4.4"/><circle cx="769.5" cy="1221.3" r="4.4"/><circle cx="792.5" cy="1214.7" r="4.4"/><circle cx="805.2" cy="1214.7" r="4.4"/><circle cx="807.7" cy="1224.7" r="4.4"/><circle cx="861.2" cy="1211.3" r="4.4"/><circle cx="871.4" cy="1214.7" r="4.4"/><circle cx="879" cy="1218" r="4.4"/><circle cx="889.2" cy="1211.3" r="4.4"/><circle cx="894.3" cy="1211.3" r="4.4"/><circle cx="894.3" cy="1231.3" r="4.4"/><circle cx="909.5" cy="1241.4" r="4.4"/><circle cx="884.1" cy="1326.5" r="4.4"/><circle cx="876.4" cy="1329.9" r="4.4"/><circle cx="907" cy="1324.9" r="4.4"/><circle cx="871.4" cy="1349.9" r="4.4"/><circle cx="873.9" cy="1353.3" r="4.4"/><circle cx="868.8" cy="1351.6" r="4.4"/><circle cx="774.6" cy="1316.5" r="4.4"/><circle cx="795" cy="1309.8" r="4.4"/><circle cx="805.2" cy="1314.8" r="4.4"/><circle cx="830.6" cy="1318.2" r="4.4"/><circle cx="838.3" cy="1319.9" r="4.4"/><circle cx="924.8" cy="1316.5" r="4.4"/><circle cx="957.9" cy="1261.4" r="4.4"/><circle cx="965.5" cy="1268.1" r="4.4"/><circle cx="998.6" cy="1288.1" r="4.4"/><circle cx="1008.8" cy="1289.8" r="4.4"/><circle cx="1016.4" cy="1289.8" r="4.4"/><circle cx="1024.1" cy="1290.8" r="4.4"/><circle cx="1039.3" cy="1290.8" r="4.4"/><circle cx="1077.5" cy="1290.8" r="4.4"/><circle cx="718.6" cy="1261.4" r="4.4"/><circle cx="728.8" cy="1264.8" r="4.4"/><circle cx="723.7" cy="1251.4" r="4.4"/><circle cx="733.9" cy="1251.4" r="4.4"/><circle cx="739" cy="1266.4" r="4.4"/><circle cx="744.1" cy="1249.7" r="4.4"/><circle cx="759.4" cy="1259.7" r="4.4"/></g><g fill="#93c9ae"><circle cx="765.8" cy="1246.6" r="4.4"/><circle cx="766.3" cy="1279.3" r="4.4"/><circle cx="773" cy="1240.4" r="4.4"/><circle cx="772.1" cy="1283.3" r="4.4"/><circle cx="766.7" cy="1266.8" r="4.4"/><circle cx="762.6" cy="1266.1" r="4.4"/><circle cx="773.9" cy="1269.3" r="4.4"/><circle cx="776.2" cy="1276.9" r="4.4"/><circle cx="779.2" cy="1262" r="4.4"/><circle cx="750.5" cy="1266.8" r="4.4"/><circle cx="762.3" cy="1281.1" r="4.4"/><circle cx="764.2" cy="1263.6" r="4.4"/><circle cx="770.9" cy="1266.3" r="4.4"/><circle cx="763.4" cy="1270.7" r="4.4"/><circle cx="761.2" cy="1243.5" r="4.4"/><circle cx="750.8" cy="1242.1" r="4.4"/><circle cx="758.1" cy="1260.9" r="4.4"/><circle cx="768.4" cy="1252" r="4.4"/><circle cx="777.8" cy="1262.6" r="4.4"/><circle cx="771.1" cy="1274.6" r="4.4"/><circle cx="777.4" cy="1276.5" r="4.4"/><circle cx="742.7" cy="1272.6" r="4.4"/><circle cx="778.8" cy="1291.9" r="4.4"/><circle cx="754.5" cy="1278.2" r="4.4"/><circle cx="765.2" cy="1254.5" r="4.4"/><circle cx="774.2" cy="1275.3" r="4.4"/><circle cx="746.7" cy="1281" r="4.4"/><circle cx="765.4" cy="1258.7" r="4.4"/><circle cx="763" cy="1262" r="4.4"/><circle cx="762.1" cy="1266.9" r="4.4"/><circle cx="772" cy="1265.3" r="4.4"/><circle cx="768.6" cy="1312.7" r="4.4"/><circle cx="759" cy="1266" r="4.4"/><circle cx="751.6" cy="1274.2" r="4.4"/><circle cx="775.5" cy="1246.1" r="4.4"/><circle cx="756.4" cy="1273.7" r="4.4"/><circle cx="775.1" cy="1258.1" r="4.4"/><circle cx="756.1" cy="1238.4" r="4.4"/><circle cx="766" cy="1249.8" r="4.4"/><circle cx="776.8" cy="1259.8" r="4.4"/><circle cx="749.8" cy="1255.4" r="4.4"/><circle cx="776.8" cy="1280.8" r="4.4"/><circle cx="768.9" cy="1287" r="4.4"/><circle cx="743.6" cy="1288.9" r="4.4"/><circle cx="735.1" cy="1241.5" r="4.4"/><circle cx="756.6" cy="1271.2" r="4.4"/><circle cx="764.4" cy="1278.1" r="4.4"/><circle cx="770.2" cy="1258.4" r="4.4"/><circle cx="772.2" cy="1272.7" r="4.4"/><circle cx="750.5" cy="1254.9" r="4.4"/><circle cx="776.7" cy="1283.5" r="4.4"/><circle cx="776.7" cy="1270.6" r="4.4"/><circle cx="779" cy="1254" r="4.4"/><circle cx="770.2" cy="1262" r="4.4"/><circle cx="765.1" cy="1260.6" r="4.4"/><circle cx="738.6" cy="1291.9" r="4.4"/><circle cx="779.2" cy="1283.6" r="4.4"/><circle cx="779.1" cy="1228.5" r="4.4"/><circle cx="751.3" cy="1270.3" r="4.4"/><circle cx="767.6" cy="1264.6" r="4.4"/><circle cx="763" cy="1289.2" r="4.4"/><circle cx="762" cy="1280.2" r="4.4"/><circle cx="758.7" cy="1257.5" r="4.4"/><circle cx="770.8" cy="1276.9" r="4.4"/><circle cx="765.7" cy="1269" r="4.4"/><circle cx="779.4" cy="1268.6" r="4.4"/><circle cx="762.3" cy="1300.7" r="4.4"/><circle cx="756.1" cy="1263.5" r="4.4"/><circle cx="758.2" cy="1289.5" r="4.4"/><circle cx="767.9" cy="1272.3" r="4.4"/></g><ellipse cx="896.8" cy="1278.4" rx="76.3" ry="18.7" fill="#86b9a0" opacity="0.6" filter="url(#blur2)"/><ellipse cx="899.3" cy="1279.1" rx="58.5" ry="14.7" fill="#76a48e" opacity="0.62" filter="url(#blur2)"/><ellipse cx="901.9" cy="1279.4" rx="45.8" ry="11.4" fill="#66917d" opacity="0.65" filter="url(#blur2)"/><ellipse cx="901.9" cy="1279.8" rx="34.6" ry="8.7" fill="#557c6b" opacity="0.7" filter="url(#blur2)"/><ellipse cx="901.9" cy="1280.1" rx="22.9" ry="6.3" fill="#456858" opacity="0.8" filter="url(#blur2)"/><ellipse cx="900.9" cy="1280.1" rx="12.2" ry="4.3" fill="#33503f" opacity="0.85" filter="url(#blur2)"/></g><path d="M708.5 1455.7C714.1 1452 727 1449.8 737 1445.4C746.9 1440.9 756.8 1431.8 768 1429.1C779.2 1426.3 792.1 1427.4 804.2 1429.1C816.2 1430.7 827.8 1435.7 840.3 1439.1C852.8 1442.4 866.1 1446.4 879 1449.4C891.9 1452.4 904.8 1454 917.7 1457C930.6 1460 943.5 1464.4 956.4 1467.4C969.2 1470.4 982.1 1472.7 995 1475C1007.9 1477.3 1020.8 1479.2 1033.7 1481.3C1046.6 1483.5 1061.7 1486.5 1072.4 1488C1083.1 1489.5 1097.9 1489 1097.9 1490.3C1097.9 1491.7 1083.1 1494.3 1072.4 1496C1061.7 1497.7 1046.6 1498.9 1033.7 1500.3C1020.8 1501.7 1007.9 1502.8 995 1504.3C982.1 1505.8 969.2 1507.4 956.4 1509.3C943.5 1511.3 930.6 1514 917.7 1516C904.8 1517.9 891.9 1519.7 879 1521C866.1 1522.2 851.1 1522 840.3 1523.6C829.5 1525.3 823 1531.8 814.3 1531C805.7 1530.1 797 1521.1 788.4 1518.3C779.8 1515.5 771.5 1516.9 762.9 1514.3C754.4 1511.8 744.4 1506.9 737 1503C729.6 1499.1 723.8 1494.9 718.6 1491C713.5 1487.1 708.5 1483.2 705.9 1479.3C703.4 1475.5 703 1471.6 703.4 1467.7C703.8 1463.7 702.9 1459.4 708.5 1455.7Z" fill="#7f9bcf"/><g fill="#7f9bcf"><circle cx="720.9" cy="1451.2" r="4.4"/><circle cx="729" cy="1448.1" r="4.4"/><circle cx="719" cy="1453.3" r="4.4"/><circle cx="719.2" cy="1451.4" r="4.4"/><circle cx="725.1" cy="1452.9" r="4.4"/><circle cx="710.9" cy="1451.5" r="4.4"/><circle cx="746.2" cy="1440.8" r="4.4"/><circle cx="740.6" cy="1447" r="4.4"/><circle cx="747.7" cy="1439.8" r="4.4"/><circle cx="747.8" cy="1440.5" r="4.4"/><circle cx="754.9" cy="1435.4" r="4.4"/><circle cx="761" cy="1433.6" r="4.4"/><circle cx="777.2" cy="1428.5" r="4.4"/><circle cx="780.9" cy="1426.5" r="4.4"/><circle cx="792.2" cy="1430.5" r="4.4"/><circle cx="792" cy="1429.9" r="4.4"/><circle cx="792.6" cy="1432.5" r="4.4"/><circle cx="793.5" cy="1430.3" r="4.4"/><circle cx="832.1" cy="1436.6" r="4.4"/><circle cx="807.9" cy="1428.6" r="4.4"/><circle cx="828.3" cy="1435.2" r="4.4"/><circle cx="831" cy="1436.8" r="4.4"/><circle cx="808.3" cy="1428.4" r="4.4"/><circle cx="839.9" cy="1438.4" r="4.4"/><circle cx="846.2" cy="1440.8" r="4.4"/><circle cx="857.8" cy="1442.3" r="4.4"/><circle cx="872.1" cy="1448.3" r="4.4"/><circle cx="863.5" cy="1442.2" r="4.4"/><circle cx="863.4" cy="1444.8" r="4.4"/><circle cx="841.6" cy="1436.9" r="4.4"/><circle cx="893.3" cy="1452.2" r="4.4"/><circle cx="912.7" cy="1456.1" r="4.4"/><circle cx="915.1" cy="1457.2" r="4.4"/><circle cx="909.5" cy="1455.3" r="4.4"/><circle cx="921.4" cy="1456.4" r="4.4"/><circle cx="900.3" cy="1454.2" r="4.4"/><circle cx="925.6" cy="1458.2" r="4.4"/><circle cx="935.7" cy="1460.7" r="4.4"/><circle cx="925.4" cy="1458.5" r="4.4"/><circle cx="959.4" cy="1469.9" r="4.4"/><circle cx="940" cy="1462.9" r="4.4"/><circle cx="948.9" cy="1465.6" r="4.4"/><circle cx="967.5" cy="1467.1" r="4.4"/><circle cx="993.2" cy="1471.4" r="4.4"/><circle cx="966" cy="1472.9" r="4.4"/><circle cx="981.5" cy="1473.7" r="4.4"/><circle cx="952" cy="1467.6" r="4.4"/><circle cx="961.1" cy="1467.8" r="4.4"/><circle cx="994.8" cy="1473.7" r="4.4"/><circle cx="1012.4" cy="1479.6" r="4.4"/><circle cx="1036.3" cy="1484.7" r="4.4"/><circle cx="1019.7" cy="1481.2" r="4.4"/><circle cx="1022.8" cy="1478.4" r="4.4"/><circle cx="1018.4" cy="1479.5" r="4.4"/><circle cx="1039.6" cy="1481" r="4.4"/><circle cx="1056.5" cy="1487.8" r="4.4"/><circle cx="1048.2" cy="1484" r="4.4"/><circle cx="1066.8" cy="1484.9" r="4.4"/><circle cx="1067" cy="1486.8" r="4.4"/><circle cx="1063.4" cy="1488.2" r="4.4"/><circle cx="1089.1" cy="1487.5" r="4.4"/><circle cx="1095.9" cy="1485.6" r="4.4"/><circle cx="1086" cy="1489.2" r="4.4"/><circle cx="1084.6" cy="1486.7" r="4.4"/><circle cx="1099.4" cy="1491.3" r="4.4"/><circle cx="1086.5" cy="1487.3" r="4.4"/><circle cx="1083" cy="1495" r="4.4"/><circle cx="1076" cy="1494" r="4.4"/><circle cx="1085.6" cy="1494.3" r="4.4"/><circle cx="1089.5" cy="1493.4" r="4.4"/><circle cx="1096.4" cy="1490.8" r="4.4"/><circle cx="1080.9" cy="1496.9" r="4.4"/><circle cx="1052.4" cy="1496.9" r="4.4"/><circle cx="1036.5" cy="1498.6" r="4.4"/><circle cx="1051.2" cy="1498.8" r="4.4"/><circle cx="1074.7" cy="1494.7" r="4.4"/><circle cx="1050" cy="1497.6" r="4.4"/><circle cx="1046.1" cy="1500.6" r="4.4"/><circle cx="1009.3" cy="1502.5" r="4.4"/><circle cx="1004.4" cy="1504" r="4.4"/><circle cx="995.8" cy="1506.7" r="4.4"/><circle cx="1022.6" cy="1504.3" r="4.4"/><circle cx="1017.2" cy="1501.6" r="4.4"/><circle cx="1029.4" cy="1500.4" r="4.4"/><circle cx="976" cy="1505.7" r="4.4"/><circle cx="969.2" cy="1510.7" r="4.4"/><circle cx="975.4" cy="1509.8" r="4.4"/><circle cx="972.5" cy="1507.6" r="4.4"/><circle cx="993.3" cy="1504.4" r="4.4"/><circle cx="975.4" cy="1505.5" r="4.4"/><circle cx="930.7" cy="1513.4" r="4.4"/><circle cx="934.1" cy="1512.3" r="4.4"/><circle cx="929.4" cy="1511.5" r="4.4"/><circle cx="945.5" cy="1513.5" r="4.4"/><circle cx="953.9" cy="1512.5" r="4.4"/><circle cx="947.9" cy="1510" r="4.4"/><circle cx="903.3" cy="1521.5" r="4.4"/><circle cx="901.8" cy="1516" r="4.4"/><circle cx="891.8" cy="1521.6" r="4.4"/><circle cx="902.6" cy="1514.7" r="4.4"/><circle cx="901.1" cy="1518" r="4.4"/><circle cx="907.8" cy="1517.7" r="4.4"/><circle cx="871.8" cy="1520.6" r="4.4"/><circle cx="837.5" cy="1524" r="4.4"/><circle cx="845.7" cy="1522.6" r="4.4"/><circle cx="853.7" cy="1523" r="4.4"/><circle cx="867.7" cy="1521.8" r="4.4"/><circle cx="858.1" cy="1520.8" r="4.4"/><circle cx="840.8" cy="1519.6" r="4.4"/><circle cx="827.3" cy="1526.8" r="4.4"/><circle cx="838.3" cy="1526.4" r="4.4"/><circle cx="830.5" cy="1526.8" r="4.4"/><circle cx="815.7" cy="1528.4" r="4.4"/><circle cx="813.8" cy="1532.1" r="4.4"/><circle cx="819.4" cy="1530.1" r="4.4"/><circle cx="808.3" cy="1527.9" r="4.4"/><circle cx="781" cy="1515.1" r="4.4"/><circle cx="796.3" cy="1522" r="4.4"/><circle cx="785.7" cy="1519" r="4.4"/><circle cx="789.3" cy="1516.7" r="4.4"/><circle cx="778.6" cy="1517" r="4.4"/><circle cx="773" cy="1514.9" r="4.4"/><circle cx="779.9" cy="1515.7" r="4.4"/><circle cx="767.3" cy="1515.4" r="4.4"/><circle cx="792.2" cy="1522" r="4.4"/><circle cx="774.9" cy="1515" r="4.4"/><circle cx="739.9" cy="1504.1" r="4.4"/><circle cx="755.6" cy="1511.7" r="4.4"/><circle cx="739.1" cy="1503.7" r="4.4"/><circle cx="749.4" cy="1513.1" r="4.4"/><circle cx="746.2" cy="1505.9" r="4.4"/><circle cx="743.8" cy="1505.9" r="4.4"/><circle cx="720.2" cy="1499.4" r="4.4"/><circle cx="730" cy="1500.6" r="4.4"/><circle cx="726.8" cy="1497.3" r="4.4"/><circle cx="728" cy="1497.4" r="4.4"/><circle cx="719.2" cy="1492.8" r="4.4"/><circle cx="726.1" cy="1496.2" r="4.4"/><circle cx="715.7" cy="1484.8" r="4.4"/><circle cx="717.2" cy="1486.8" r="4.4"/><circle cx="708.4" cy="1488.9" r="4.4"/><circle cx="708.4" cy="1487.2" r="4.4"/><circle cx="716.8" cy="1481.6" r="4.4"/><circle cx="718.9" cy="1484.1" r="4.4"/><circle cx="700.2" cy="1477.6" r="4.4"/><circle cx="698.4" cy="1470.7" r="4.4"/><circle cx="698.8" cy="1476.9" r="4.4"/><circle cx="703.1" cy="1476.2" r="4.4"/><circle cx="705.5" cy="1471" r="4.4"/><circle cx="708.5" cy="1477.8" r="4.4"/><circle cx="706.8" cy="1466.2" r="4.4"/><circle cx="706" cy="1467.1" r="4.4"/><circle cx="707.1" cy="1466.6" r="4.4"/><circle cx="703.5" cy="1463.9" r="4.4"/><circle cx="707.5" cy="1465.8" r="4.4"/><circle cx="708.8" cy="1456.1" r="4.4"/></g><g fill="#7f9bcf"><circle cx="694.2" cy="1467.7" r="4.4"/><circle cx="700.8" cy="1466" r="4.4"/><circle cx="698.3" cy="1484.3" r="4.4"/><circle cx="713.6" cy="1442.7" r="4.4"/><circle cx="739" cy="1431.1" r="4.4"/><circle cx="749.2" cy="1436.1" r="4.4"/><circle cx="777.2" cy="1419.4" r="4.4"/><circle cx="789.9" cy="1421.1" r="4.4"/><circle cx="797.5" cy="1409.4" r="4.4"/><circle cx="805.2" cy="1426.1" r="4.4"/><circle cx="853.5" cy="1424.4" r="4.4"/><circle cx="731.4" cy="1517.6" r="4.4"/><circle cx="744.1" cy="1517.6" r="4.4"/><circle cx="761.9" cy="1526" r="4.4"/><circle cx="779.7" cy="1527.6" r="4.4"/><circle cx="812.8" cy="1537.6" r="4.4"/><circle cx="810.3" cy="1532.6" r="4.4"/><circle cx="856.1" cy="1531" r="4.4"/><circle cx="929.9" cy="1527.6" r="4.4"/><circle cx="879" cy="1526" r="4.4"/><circle cx="907" cy="1526" r="4.4"/><circle cx="1099.4" cy="1491.7" r="4.4"/></g><ellipse cx="891.7" cy="1485.7" rx="91.6" ry="14" fill="#708cc4" opacity="0.6" filter="url(#blur2)"/><ellipse cx="896.8" cy="1486.3" rx="66.2" ry="10.7" fill="#5f7ab5" opacity="0.65" filter="url(#blur2)"/><ellipse cx="899.3" cy="1486.7" rx="48.4" ry="8.7" fill="#4c66a3" opacity="0.7" filter="url(#blur2)"/><ellipse cx="901.9" cy="1487" rx="35.6" ry="7" fill="#3a508a" opacity="0.75" filter="url(#blur2)"/><ellipse cx="901.9" cy="1487" rx="22.9" ry="5.7" fill="#2a3868" opacity="0.8" filter="url(#blur2)"/><ellipse cx="901.9" cy="1487" rx="12.7" ry="4.3" fill="#1b2040" opacity="0.9" filter="url(#blur2)"/><path d="M591.4 1157.1V1557.8H1101.2" stroke="#2f2f2f" stroke-width="2" fill="none"/><path d="M591.6 1557.8v7M642.5 1557.8v7M693.4 1557.8v7M744.2 1557.8v7M795.1 1557.8v7M846 1557.8v7M896.9 1557.8v7M947.8 1557.8v7M998.6 1557.8v7M1049.5 1557.8v7M1100.4 1557.8v7M591.4 1157.1h-7M591.4 1223.2h-7M591.4 1290h-7M591.4 1424h-7M591.4 1491.2h-7M591.4 1557.8h-7" stroke="#2f2f2f" stroke-width="1.9" fill="none"/><path d="M585.5 1357.7H591" stroke="#2f2f2f" stroke-width="1.2"/><text text-anchor="end" x="578.2" y="1170.3">40</text><text text-anchor="end" x="579" y="1234.4">20</text><text text-anchor="end" x="577.6" y="1305">0</text><text text-anchor="end" x="580.5" y="1351.9">-20</text><text text-anchor="end" x="579.4" y="1382.6">40</text><text text-anchor="end" x="579" y="1433.2">20</text><text text-anchor="end" x="577.1" y="1503.6">0</text><text text-anchor="end" x="580.5" y="1566.4">-20</text><text x="587.7" y="1594.5">-6</text><text x="635.1" y="1594.5">-5</text><text x="682.2" y="1594.5">-4</text><text x="729.2" y="1594.5">-3</text><text x="783.8" y="1594.5">-2</text><text x="828.3" y="1594.5">-1</text><text x="886" y="1594.5">0</text><text x="937.1" y="1594.5">1</text><text x="990.8" y="1594.5">2</text><text x="1044.5" y="1594.5">3</text><text x="1089.6" y="1594.5">4</text><path d="M540.4 1358.6H580.8" stroke="#000" stroke-width="4.6"/><path d="M601.9 1358.6L1080.7 1362.5" stroke="#000" stroke-width="4.8" stroke-dasharray="16.8 12.1" fill="none"/><text font-weight="bold" font-size="36.5" x="485.5" y="1133">f</text><text text-anchor="middle" x="833" y="1138.8">Physiochemical Features Distribution</text><text x="756" y="1631">Hydrophobicity</text><text text-anchor="middle" transform="translate(518.5 1362) rotate(-90)">Charge at pH 7.0</text><text text-anchor="middle" x="980.8" y="1231.3">Known AMPs</text><text text-anchor="middle" x="975.3" y="1432">Predicted AMPs</text></g><g id="pg"><text font-weight="bold" font-size="36.5" x="1165" y="1139.5">g</text><text text-anchor="middle" x="1429" y="1102.4">AMPs Screening</text><rect x="1291.3" y="1113" width="280.4" height="59.3" fill="#fff" stroke="#000" stroke-width="2.4"/><text text-anchor="middle" x="1432" y="1155">7 Ancient Samples</text><path d="M1303.8 1183.3L1548 1183.3L1532.6 1238.7L1319 1238.7Z" fill="#4dbbee"/><text text-anchor="middle" x="1423" y="1265.7">De-contamination</text><rect x="1312.5" y="1275.8" width="242.3" height="52.6" fill="#fff" stroke="#000" stroke-width="2.4"/><text text-anchor="middle" x="1439" y="1311.5">1,838,633 ORFs</text><path d="M1340 1341.4L1525.4 1341.4L1507 1397.7L1359 1397.7Z" fill="#fd7d82"/><text text-anchor="middle" x="1439.5" y="1424.7">AI score ≥ 0.9</text><path d="M1382 1433.4L1485.4 1433.4L1469 1478L1400 1478Z" fill="#4dbbee"/><path d="M1396 1506.6L1474.4 1506.6L1461 1540.3L1410.8 1540.3Z" fill="#fd7d82"/><text text-anchor="middle" x="1435" y="1503">39 ≤ ORF Length ≤ 78</text><text text-anchor="middle" x="1454.3" y="1567.3">at least 5 metagenome samples detected</text><rect x="1343.8" y="1579.4" width="188.2" height="52" fill="#fff" stroke="#000" stroke-width="2.4"/><text text-anchor="middle" x="1436.5" y="1617.4">160 ORFs</text><path d="M1572.6 1591.4H1665V1580L1689 1603.5L1665 1626.5V1615.5H1572.6L1585.7 1603.5Z" fill="#62e38d"/><text text-anchor="middle" x="1838" y="1617.4">Cytotoxicity Screening</text><path d="M1749.5 1528.8L1874.7 1528.8L1900 1590L1722 1590Z" fill="#4dbbee"/><text text-anchor="middle" x="1820.3" y="1520">Chemical Synthesis</text><path d="M1765 1449L1857 1449L1866.5 1491L1753.8 1491Z" fill="#fd7d82"/><rect x="1712.4" y="1387.6" width="188.6" height="52" fill="#fff" stroke="#000" stroke-width="2.4"/><text text-anchor="middle" x="1807.5" y="1424.7">40 Candidates</text><path d="M1804 1316.8L1831.4 1343.3H1817V1380.4L1804 1368.5L1791.4 1380.4V1343.3H1777Z" fill="#62e38d"/><g transform="translate(1653 1091.2)"><g fill="none" stroke-linejoin="round"><path d="M87.4 48.1C87.3 46.6 85.9 41.9 86.7 39.3C87.4 36.8 89.7 33.9 91.8 32.8C93.8 31.7 97.1 31.9 99 32.8C101 33.6 103 36.1 103.7 37.9C104.4 39.7 104 42 103.4 43.7C102.9 45.4 101 47.3 100.5 48.1" stroke="#70728a" stroke-width="3.3" stroke-linecap="round"/><path d="M87.4 48.1C87.3 46.6 85.9 41.9 86.7 39.3C87.4 36.8 89.7 33.9 91.8 32.8C93.8 31.7 97.1 31.9 99 32.8C101 33.6 103 36.1 103.7 37.9C104.4 39.7 104 42 103.4 43.7C102.9 45.4 101 47.3 100.5 48.1" stroke="#a0a4b4" stroke-width="2.5" stroke-linecap="round"/><path d="M100.5 48.1C101.5 46.6 104.1 40.8 106.3 39.3C108.5 37.9 111.4 37.6 113.6 39.3C115.8 41 117.3 46.7 119.4 49.5C121.6 52.3 123.3 54.9 126.7 56.1C130.1 57.3 137.6 56.7 139.8 56.8" stroke="#586898" stroke-width="3.8" stroke-linecap="round"/><path d="M100.5 48.1C101.5 46.6 104.1 40.8 106.3 39.3C108.5 37.9 111.4 37.6 113.6 39.3C115.8 41 117.3 46.7 119.4 49.5C121.6 52.3 123.3 54.9 126.7 56.1C130.1 57.3 137.6 56.7 139.8 56.8" stroke="#7f95c8" stroke-width="3.1" stroke-linecap="round"/><path d="M78.7 58.3C77.7 57.7 74.8 55.4 72.8 54.6C70.9 53.9 68 54 67 53.9" stroke="#2852a8" stroke-width="4.3" stroke-linecap="round"/><path d="M78.7 58.3C77.7 57.7 74.8 55.4 72.8 54.6C70.9 53.9 68 54 67 53.9" stroke="#3a76e0" stroke-width="3.6" stroke-linecap="round"/><path d="M67 54.2C66 54.5 62.9 55.6 61.2 56.1C59.5 56.6 57.5 56.9 56.8 57.1" stroke="#a1a3b6" stroke-width="4.3" stroke-linecap="round"/><path d="M67 54.2C66 54.5 62.9 55.6 61.2 56.1C59.5 56.6 57.5 56.9 56.8 57.1" stroke="#e6eaf3" stroke-width="3.6" stroke-linecap="round"/><path d="M56.8 57.1C55.9 57.8 52 59.3 51.3 61.2C50.6 63.1 51.3 66 52.7 68.5C54.1 70.9 58.6 74.5 59.7 75.7" stroke="#60333c" stroke-width="4.3" stroke-linecap="round"/><path d="M56.8 57.1C55.9 57.8 52 59.3 51.3 61.2C50.6 63.1 51.3 66 52.7 68.5C54.1 70.9 58.6 74.5 59.7 75.7" stroke="#8a4a45" stroke-width="3.6" stroke-linecap="round"/><path d="M59.7 75.7C60.4 76.3 62.4 79 64.1 79.4C65.8 79.7 68.9 78.2 69.9 77.9" stroke="#586898" stroke-width="3.8" stroke-linecap="round"/><path d="M59.7 75.7C60.4 76.3 62.4 79 64.1 79.4C65.8 79.7 68.9 78.2 69.9 77.9" stroke="#7f95c8" stroke-width="3.1" stroke-linecap="round"/><path d="M69.9 77.9C70.6 77.6 72.8 74.4 74.3 75.7C75.7 77.1 77 83 78.7 85.9C80.4 88.9 83.5 92 84.5 93.2" stroke="#977070" stroke-width="4.3" stroke-linecap="round"/><path d="M69.9 77.9C70.6 77.6 72.8 74.4 74.3 75.7C75.7 77.1 77 83 78.7 85.9C80.4 88.9 83.5 92 84.5 93.2" stroke="#d9a090" stroke-width="3.6" stroke-linecap="round"/><path d="M84.5 93.2C85.9 93.8 90.8 96.6 93.2 96.9C95.6 97.1 97.9 95.8 99 94.7C100.2 93.6 100 91 100.2 90.3" stroke="#a1a3b6" stroke-width="4.3" stroke-linecap="round"/><path d="M84.5 93.2C85.9 93.8 90.8 96.6 93.2 96.9C95.6 97.1 97.9 95.8 99 94.7C100.2 93.6 100 91 100.2 90.3" stroke="#e6eaf3" stroke-width="3.6" stroke-linecap="round"/><path d="M95.4 87.4C95.4 86.2 94.8 82.3 95.4 80.1C96 77.9 98.4 75.3 99 74.3" stroke="#86332d" stroke-width="4.3" stroke-linecap="round"/><path d="M95.4 87.4C95.4 86.2 94.8 82.3 95.4 80.1C96 77.9 98.4 75.3 99 74.3" stroke="#c04a30" stroke-width="3.6" stroke-linecap="round"/><path d="M80.1 46.6 L82.3 55.4" stroke="#284b92" stroke-width="3.8" stroke-linecap="round"/><path d="M80.1 46.6 L82.3 55.4" stroke="#3a6cc0" stroke-width="3.1" stroke-linecap="round"/><path d="M80.1 59.4 L86.7 59.4" stroke="#9c2a1e" stroke-width="6.2" stroke-linecap="round"/><path d="M80.1 59.4 L86.7 59.4" stroke="#e03c1a" stroke-width="5.5" stroke-linecap="round"/><path d="M90.3 59.7C91.8 59.8 96.8 59.4 99 60.4C101.3 61.5 102.9 65.3 103.7 66.3" stroke="#9c605a" stroke-width="4.4" stroke-linecap="round"/><path d="M90.3 59.7C91.8 59.8 96.8 59.4 99 60.4C101.3 61.5 102.9 65.3 103.7 66.3" stroke="#e08a70" stroke-width="3.6" stroke-linecap="round"/><path d="M93.2 64.1 L99 68.5" stroke="#212c4f" stroke-width="4.3" stroke-linecap="round"/><path d="M93.2 64.1 L99 68.5" stroke="#304060" stroke-width="3.6" stroke-linecap="round"/><path d="M102 69.2 L104.6 79.8" stroke="#2852a8" stroke-width="8.9" stroke-linecap="butt"/><path d="M102 69.2 L104.6 79.8" stroke="#3a76e0" stroke-width="8.2" stroke-linecap="butt"/><path d="M90.3 49.5C91.3 49.2 94.2 47.3 96.1 47.3C98.1 47.3 101 49.2 102 49.5" stroke="#2852a8" stroke-width="3.8" stroke-linecap="round"/><path d="M90.3 49.5C91.3 49.2 94.2 47.3 96.1 47.3C98.1 47.3 101 49.2 102 49.5" stroke="#3a76e0" stroke-width="3.1" stroke-linecap="round"/><path d="M102 49.5C103.2 50.7 107.2 54.4 109.2 56.8C111.3 59.2 113.5 62.9 114.3 64.1" stroke="#a1a3b6" stroke-width="4.7" stroke-linecap="round"/><path d="M102 49.5C103.2 50.7 107.2 54.4 109.2 56.8C111.3 59.2 113.5 62.9 114.3 64.1" stroke="#e6eaf3" stroke-width="4" stroke-linecap="round"/><path d="M112.2 62.6 L116.5 65.5" stroke="#a1a3b6" stroke-width="7.6" stroke-linecap="round"/><path d="M112.2 62.6 L116.5 65.5" stroke="#e6eaf3" stroke-width="6.9" stroke-linecap="round"/><path d="M118 68.5C119.4 69.7 124.1 73.8 126.7 75.7C129.4 77.7 132.8 79.4 134 80.1" stroke="#70728a" stroke-width="3.3" stroke-linecap="round"/><path d="M118 68.5C119.4 69.7 124.1 73.8 126.7 75.7C129.4 77.7 132.8 79.4 134 80.1" stroke="#a0a4b4" stroke-width="2.5" stroke-linecap="round"/><path d="M134 79.4 L137.2 83" stroke="#2852a8" stroke-width="4.3" stroke-linecap="round"/><path d="M134 79.4 L137.2 83" stroke="#3a76e0" stroke-width="3.6" stroke-linecap="round"/><path d="M136.2 83.3C134.6 83.8 129 84.5 126.7 85.9C124.5 87.3 123.3 90.8 122.6 91.8" stroke="#a1a3b6" stroke-width="3.8" stroke-linecap="round"/><path d="M136.2 83.3C134.6 83.8 129 84.5 126.7 85.9C124.5 87.3 123.3 90.8 122.6 91.8" stroke="#e6eaf3" stroke-width="3.1" stroke-linecap="round"/><path d="M122.6 92.1C121.6 92.3 118 93.8 116.5 93.5C115 93.3 114.1 91.1 113.6 90.6" stroke="#2852a8" stroke-width="4.3" stroke-linecap="round"/><path d="M122.6 92.1C121.6 92.3 118 93.8 116.5 93.5C115 93.3 114.1 91.1 113.6 90.6" stroke="#3a76e0" stroke-width="3.6" stroke-linecap="round"/><path d="M113.6 90.6C112.8 89.5 109.9 85.4 108.5 83.8C107.1 82.1 105.7 81.3 105.2 80.8" stroke="#977070" stroke-width="3.8" stroke-linecap="round"/><path d="M113.6 90.6C112.8 89.5 109.9 85.4 108.5 83.8C107.1 82.1 105.7 81.3 105.2 80.8" stroke="#d9a090" stroke-width="3.1" stroke-linecap="round"/><path d="M221.4 15.3 L222.9 21.8" stroke="#977070" stroke-width="3.3" stroke-linecap="round"/><path d="M221.4 15.3 L222.9 21.8" stroke="#d9a090" stroke-width="2.5" stroke-linecap="round"/><path d="M198.1 35C199.1 33.9 201.7 29.6 203.9 28.4C206.1 27.2 209.3 28.2 211.2 27.7C213.1 27.1 214.8 25.5 215.6 25.1" stroke="#9c605a" stroke-width="4.3" stroke-linecap="round"/><path d="M198.1 35C199.1 33.9 201.7 29.6 203.9 28.4C206.1 27.2 209.3 28.2 211.2 27.7C213.1 27.1 214.8 25.5 215.6 25.1" stroke="#e08a70" stroke-width="3.6" stroke-linecap="round"/><path d="M208.3 41.5 L222.6 28" stroke="#2852a8" stroke-width="9.5" stroke-linecap="butt"/><path d="M208.3 41.5 L222.6 28" stroke="#3a76e0" stroke-width="8.8" stroke-linecap="butt"/><path d="M217 23.3C218.2 23.4 222.9 22.3 224.3 24C225.8 25.7 225.5 31.9 225.8 33.5" stroke="#2852a8" stroke-width="4.3" stroke-linecap="round"/><path d="M217 23.3C218.2 23.4 222.9 22.3 224.3 24C225.8 25.7 225.5 31.9 225.8 33.5" stroke="#3a76e0" stroke-width="3.6" stroke-linecap="round"/><path d="M225 28.4 L230.9 29.9" stroke="#212c4f" stroke-width="2.8" stroke-linecap="round"/><path d="M225 28.4 L230.9 29.9" stroke="#304060" stroke-width="2" stroke-linecap="round"/><path d="M187.6 32.3 L188.2 42.2" stroke="#808caf" stroke-width="6.1" stroke-linecap="butt"/><path d="M187.6 32.3 L188.2 42.2" stroke="#b7c9ea" stroke-width="5.3" stroke-linecap="butt"/><path d="M190.8 35.2 L196.9 35.2" stroke="#9c2a1e" stroke-width="6.1" stroke-linecap="butt"/><path d="M190.8 35.2 L196.9 35.2" stroke="#e03c1a" stroke-width="5.3" stroke-linecap="butt"/><path d="M185 48.8C183.8 48.2 180.4 46.5 177.7 45.4C175 44.4 171.6 43.3 169 42.2C166.3 41.2 162.9 39.8 161.7 39.3" stroke="#586898" stroke-width="3.3" stroke-linecap="round"/><path d="M185 48.8C183.8 48.2 180.4 46.5 177.7 45.4C175 44.4 171.6 43.3 169 42.2C166.3 41.2 162.9 39.8 161.7 39.3" stroke="#7f95c8" stroke-width="2.5" stroke-linecap="round"/><path d="M161.7 39.3 L152.9 40.8" stroke="#977070" stroke-width="3.3" stroke-linecap="round"/><path d="M161.7 39.3 L152.9 40.8" stroke="#d9a090" stroke-width="2.5" stroke-linecap="round"/><path d="M152.9 40.8C152.5 41.8 149.8 44.7 150 46.6C150.3 48.6 152.5 50.9 154.4 52.4C156.3 53.9 159.5 55.1 161.7 55.6C163.9 56.2 166.5 55.6 167.5 55.6" stroke="#70728a" stroke-width="3.3" stroke-linecap="round"/><path d="M152.9 40.8C152.5 41.8 149.8 44.7 150 46.6C150.3 48.6 152.5 50.9 154.4 52.4C156.3 53.9 159.5 55.1 161.7 55.6C163.9 56.2 166.5 55.6 167.5 55.6" stroke="#a0a4b4" stroke-width="2.5" stroke-linecap="round"/><path d="M166.1 55.6 L172.2 55.6" stroke="#86332d" stroke-width="6.1" stroke-linecap="butt"/><path d="M166.1 55.6 L172.2 55.6" stroke="#c04a30" stroke-width="5.3" stroke-linecap="butt"/><path d="M172.2 55.6 L182.4 56.5" stroke="#2852a8" stroke-width="7" stroke-linecap="butt"/><path d="M172.2 55.6 L182.4 56.5" stroke="#3a76e0" stroke-width="6.3" stroke-linecap="butt"/><path d="M189.4 48.1C190.6 47.6 193.7 46.4 196.6 45.4C199.6 44.5 205.1 43 206.8 42.5" stroke="#9c605a" stroke-width="4.3" stroke-linecap="round"/><path d="M189.4 48.1C190.6 47.6 193.7 46.4 196.6 45.4C199.6 44.5 205.1 43 206.8 42.5" stroke="#e08a70" stroke-width="3.6" stroke-linecap="round"/><path d="M186.4 55.4C188.4 55.1 194.7 54.4 198.1 53.9C201.5 53.4 205.4 52.7 206.8 52.4" stroke="#977070" stroke-width="5.8" stroke-linecap="butt"/><path d="M186.4 55.4C188.4 55.1 194.7 54.4 198.1 53.9C201.5 53.4 205.4 52.7 206.8 52.4" stroke="#d9a090" stroke-width="5.1" stroke-linecap="butt"/><path d="M206.8 52.4 L214.1 55.6" stroke="#a1a3b6" stroke-width="5.5" stroke-linecap="round"/><path d="M206.8 52.4 L214.1 55.6" stroke="#e6eaf3" stroke-width="4.7" stroke-linecap="round"/><path d="M214.1 55.6C214.8 54.9 216.3 51.8 218.5 51C220.7 50.2 225.8 50.7 227.2 50.7" stroke="#808caf" stroke-width="3.8" stroke-linecap="round"/><path d="M214.1 55.6C214.8 54.9 216.3 51.8 218.5 51C220.7 50.2 225.8 50.7 227.2 50.7" stroke="#b7c9ea" stroke-width="3.1" stroke-linecap="round"/><path d="M163.1 68.8C164.6 68.5 169 67.2 171.9 67C174.8 66.8 177.9 67.8 180.6 67.3C183.3 66.8 186.6 65.8 187.9 64.1C189.2 62.4 188.7 58.7 188.2 57.1C187.7 55.4 185.5 54.7 185 54.2" stroke="#a1a3b6" stroke-width="4" stroke-linecap="round"/><path d="M163.1 68.8C164.6 68.5 169 67.2 171.9 67C174.8 66.8 177.9 67.8 180.6 67.3C183.3 66.8 186.6 65.8 187.9 64.1C189.2 62.4 188.7 58.7 188.2 57.1C187.7 55.4 185.5 54.7 185 54.2" stroke="#e6eaf3" stroke-width="3.3" stroke-linecap="round"/><path d="M162.4 69.6 L170.4 67.9" stroke="#212c4f" stroke-width="2" stroke-linecap="round"/><path d="M162.4 69.6 L170.4 67.9" stroke="#304060" stroke-width="1.3" stroke-linecap="round"/><path d="M179.2 69.9C179.9 70.9 181.3 75 183.5 75.7C185.7 76.5 190.3 75.5 192.3 74.3C194.3 73.1 194.9 69.7 195.5 68.8" stroke="#70728a" stroke-width="3.3" stroke-linecap="round"/><path d="M179.2 69.9C179.9 70.9 181.3 75 183.5 75.7C185.7 76.5 190.3 75.5 192.3 74.3C194.3 73.1 194.9 69.7 195.5 68.8" stroke="#a0a4b4" stroke-width="2.5" stroke-linecap="round"/><path d="M218.5 52.1C219.9 52 225.3 50.7 227.2 51C229.2 51.3 230.5 52.7 230.1 53.9C229.8 55.1 226.5 56.6 225 58.3C223.6 60 222.3 63.1 221.7 64.1" stroke="#284b92" stroke-width="4.3" stroke-linecap="round"/><path d="M218.5 52.1C219.9 52 225.3 50.7 227.2 51C229.2 51.3 230.5 52.7 230.1 53.9C229.8 55.1 226.5 56.6 225 58.3C223.6 60 222.3 63.1 221.7 64.1" stroke="#3a6cc0" stroke-width="3.6" stroke-linecap="round"/><ellipse cx="200" cy="71.2" rx="2.3" ry="5.9" stroke="#234996" stroke-width="3.2"/><ellipse cx="200" cy="71.2" rx="2.3" ry="5.9" stroke="#3a76e0" stroke-width="2.5"/><ellipse cx="198.8" cy="70.6" rx="2.9" ry="6.6" stroke="#234996" stroke-width="4.3"/><ellipse cx="198.8" cy="70.6" rx="2.9" ry="6.6" stroke="#3a76e0" stroke-width="3.6"/><ellipse cx="205.6" cy="71.2" rx="2.3" ry="5.9" stroke="#8a5551" stroke-width="3.2"/><ellipse cx="205.6" cy="71.2" rx="2.3" ry="5.9" stroke="#e08a70" stroke-width="2.5"/><ellipse cx="204.5" cy="70.6" rx="2.9" ry="6.6" stroke="#234996" stroke-width="4.3"/><ellipse cx="204.5" cy="70.6" rx="2.9" ry="6.6" stroke="#3a76e0" stroke-width="3.6"/><ellipse cx="211.3" cy="71.2" rx="2.3" ry="5.9" stroke="#234996" stroke-width="3.2"/><ellipse cx="211.3" cy="71.2" rx="2.3" ry="5.9" stroke="#3a76e0" stroke-width="2.5"/><ellipse cx="210.1" cy="70.6" rx="2.9" ry="6.6" stroke="#234996" stroke-width="4.3"/><ellipse cx="210.1" cy="70.6" rx="2.9" ry="6.6" stroke="#3a76e0" stroke-width="3.6"/><ellipse cx="216.9" cy="71.2" rx="2.3" ry="5.9" stroke="#8a5551" stroke-width="3.2"/><ellipse cx="216.9" cy="71.2" rx="2.3" ry="5.9" stroke="#e08a70" stroke-width="2.5"/><ellipse cx="215.8" cy="70.6" rx="2.9" ry="6.6" stroke="#234996" stroke-width="4.3"/><ellipse cx="215.8" cy="70.6" rx="2.9" ry="6.6" stroke="#3a76e0" stroke-width="3.6"/><ellipse cx="222.6" cy="71.2" rx="2.3" ry="5.9" stroke="#234996" stroke-width="3.2"/><ellipse cx="222.6" cy="71.2" rx="2.3" ry="5.9" stroke="#3a76e0" stroke-width="2.5"/><ellipse cx="221.4" cy="70.6" rx="2.9" ry="6.6" stroke="#234996" stroke-width="4.3"/><ellipse cx="221.4" cy="70.6" rx="2.9" ry="6.6" stroke="#3a76e0" stroke-width="3.6"/><ellipse cx="60.9" cy="123.7" rx="2.3" ry="5.9" stroke="#234996" stroke-width="3.2"/><ellipse cx="60.9" cy="123.7" rx="2.3" ry="5.9" stroke="#3a76e0" stroke-width="2.5"/><ellipse cx="59.7" cy="123.1" rx="2.9" ry="6.6" stroke="#234996" stroke-width="4.3"/><ellipse cx="59.7" cy="123.1" rx="2.9" ry="6.6" stroke="#3a76e0" stroke-width="3.6"/><ellipse cx="66.7" cy="123.7" rx="2.3" ry="5.9" stroke="#8a5551" stroke-width="3.2"/><ellipse cx="66.7" cy="123.7" rx="2.3" ry="5.9" stroke="#e08a70" stroke-width="2.5"/><ellipse cx="65.5" cy="123.1" rx="2.9" ry="6.6" stroke="#234996" stroke-width="4.3"/><ellipse cx="65.5" cy="123.1" rx="2.9" ry="6.6" stroke="#3a76e0" stroke-width="3.6"/><ellipse cx="72.5" cy="123.7" rx="2.3" ry="5.9" stroke="#234996" stroke-width="3.2"/><ellipse cx="72.5" cy="123.7" rx="2.3" ry="5.9" stroke="#3a76e0" stroke-width="2.5"/><ellipse cx="71.4" cy="123.1" rx="2.9" ry="6.6" stroke="#234996" stroke-width="4.3"/><ellipse cx="71.4" cy="123.1" rx="2.9" ry="6.6" stroke="#3a76e0" stroke-width="3.6"/><ellipse cx="78.4" cy="123.7" rx="2.3" ry="5.9" stroke="#8a5551" stroke-width="3.2"/><ellipse cx="78.4" cy="123.7" rx="2.3" ry="5.9" stroke="#e08a70" stroke-width="2.5"/><ellipse cx="77.2" cy="123.1" rx="2.9" ry="6.6" stroke="#234996" stroke-width="4.3"/><ellipse cx="77.2" cy="123.1" rx="2.9" ry="6.6" stroke="#3a76e0" stroke-width="3.6"/><ellipse cx="84.2" cy="123.7" rx="2.3" ry="5.9" stroke="#234996" stroke-width="3.2"/><ellipse cx="84.2" cy="123.7" rx="2.3" ry="5.9" stroke="#3a76e0" stroke-width="2.5"/><ellipse cx="83" cy="123.1" rx="2.9" ry="6.6" stroke="#234996" stroke-width="4.3"/><ellipse cx="83" cy="123.1" rx="2.9" ry="6.6" stroke="#3a76e0" stroke-width="3.6"/><path d="M81.6 127.5C83 128.3 87.9 131.5 90.3 132.8C92.7 134.2 95.2 135.3 96.1 135.8" stroke="#2852a8" stroke-width="6.2" stroke-linecap="round"/><path d="M81.6 127.5C83 128.3 87.9 131.5 90.3 132.8C92.7 134.2 95.2 135.3 96.1 135.8" stroke="#3a76e0" stroke-width="5.5" stroke-linecap="round"/><path d="M58 125.3 L58.6 129.6" stroke="#a26438" stroke-width="3.8" stroke-linecap="round"/><path d="M58 125.3 L58.6 129.6" stroke="#e89040" stroke-width="3.1" stroke-linecap="round"/><path d="M40.8 132.8C41 132.1 41 129.4 42.2 128.2C43.5 126.9 46.1 125.5 48.1 125.3C50 125 52.2 125.9 53.9 126.7C55.6 127.5 57.5 129.4 58.3 129.9" stroke="#70728a" stroke-width="3.3" stroke-linecap="round"/><path d="M40.8 132.8C41 132.1 41 129.4 42.2 128.2C43.5 126.9 46.1 125.5 48.1 125.3C50 125 52.2 125.9 53.9 126.7C55.6 127.5 57.5 129.4 58.3 129.9" stroke="#a0a4b4" stroke-width="2.5" stroke-linecap="round"/><path d="M26.5 137.6C28.2 137.5 33.1 137.6 36.4 136.9C39.8 136.2 43 134 46.6 133.3C50.3 132.5 54.4 132.4 58.3 132.5C62.1 132.7 66 133.6 69.9 134C73.8 134.4 78.1 134.2 81.6 134.7C85 135.2 89.1 136.6 90.6 136.9" stroke="#586898" stroke-width="5.8" stroke-linecap="round"/><path d="M26.5 137.6C28.2 137.5 33.1 137.6 36.4 136.9C39.8 136.2 43 134 46.6 133.3C50.3 132.5 54.4 132.4 58.3 132.5C62.1 132.7 66 133.6 69.9 134C73.8 134.4 78.1 134.2 81.6 134.7C85 135.2 89.1 136.6 90.6 136.9" stroke="#7f95c8" stroke-width="5" stroke-linecap="round"/><path d="M27.7 137.5C29.1 137.4 33.3 137.6 36.4 136.9C39.6 136.2 43 134 46.6 133.3C50.3 132.5 54.4 132.4 58.3 132.5C62.1 132.7 66 133.6 69.9 134C73.8 134.4 78.3 134.3 81.6 134.7C84.8 135.2 88.2 136.3 89.6 136.6" stroke="#a1a3b6" stroke-width="5.5" stroke-linecap="round"/><path d="M27.7 137.5C29.1 137.4 33.3 137.6 36.4 136.9C39.6 136.2 43 134 46.6 133.3C50.3 132.5 54.4 132.4 58.3 132.5C62.1 132.7 66 133.6 69.9 134C73.8 134.4 78.3 134.3 81.6 134.7C84.8 135.2 88.2 136.3 89.6 136.6" stroke="#e6eaf3" stroke-width="4.7" stroke-linecap="round"/><path d="M25.9 137.8 L37.9 136" stroke="#212c4f" stroke-width="2.3" stroke-linecap="round"/><path d="M25.9 137.8 L37.9 136" stroke="#304060" stroke-width="1.5" stroke-linecap="round"/><path d="M91.8 135.5C92.7 135.6 96.8 135.7 97.3 136.2C97.8 136.7 95.1 138 94.7 138.4" stroke="#284b92" stroke-width="3.3" stroke-linecap="round"/><path d="M91.8 135.5C92.7 135.6 96.8 135.7 97.3 136.2C97.8 136.7 95.1 138 94.7 138.4" stroke="#3a6cc0" stroke-width="2.5" stroke-linecap="round"/><path d="M51 144.2C52.9 144 59 143.7 62.6 143C66.3 142.4 71.1 140.6 72.8 140.1" stroke="#977070" stroke-width="4.4" stroke-linecap="butt"/><path d="M51 144.2C52.9 144 59 143.7 62.6 143C66.3 142.4 71.1 140.6 72.8 140.1" stroke="#d9a090" stroke-width="3.6" stroke-linecap="butt"/><path d="M72.8 140.1 L81.6 136.3" stroke="#a1a3b6" stroke-width="4" stroke-linecap="round"/><path d="M72.8 140.1 L81.6 136.3" stroke="#e6eaf3" stroke-width="3.3" stroke-linecap="round"/><path d="M50.3 132.8C50.4 135 50.1 142.3 51 145.7C51.8 149 54.4 150.5 55.4 152.9C56.3 155.4 56.6 159 56.8 160.2" stroke="#a1a3b6" stroke-width="4.3" stroke-linecap="round"/><path d="M50.3 132.8C50.4 135 50.1 142.3 51 145.7C51.8 149 54.4 150.5 55.4 152.9C56.3 155.4 56.6 159 56.8 160.2" stroke="#e6eaf3" stroke-width="3.6" stroke-linecap="round"/><path d="M32.3 150.8 L38.2 149.3" stroke="#86332d" stroke-width="5.8" stroke-linecap="butt"/><path d="M32.3 150.8 L38.2 149.3" stroke="#c04a30" stroke-width="5.1" stroke-linecap="butt"/><path d="M38.2 149.3 L49.8 144.2" stroke="#2852a8" stroke-width="6.2" stroke-linecap="butt"/><path d="M38.2 149.3 L49.8 144.2" stroke="#3a76e0" stroke-width="5.5" stroke-linecap="butt"/><path d="M32.3 151C31.1 151.7 26.8 152.9 24.8 154.7C22.7 156.5 20.6 159.4 20.1 161.7C19.6 164 21.6 167.5 21.8 168.7" stroke="#a1a3b6" stroke-width="3.3" stroke-linecap="round"/><path d="M32.3 151C31.1 151.7 26.8 152.9 24.8 154.7C22.7 156.5 20.6 159.4 20.1 161.7C19.6 164 21.6 167.5 21.8 168.7" stroke="#e6eaf3" stroke-width="2.5" stroke-linecap="round"/><path d="M21.8 168.7 L30.6 169.3" stroke="#977070" stroke-width="3.3" stroke-linecap="round"/><path d="M21.8 168.7 L30.6 169.3" stroke="#d9a090" stroke-width="2.5" stroke-linecap="round"/><path d="M30.6 169.3C31.8 168.5 35.7 166.3 37.9 164.6C40.1 162.8 41.5 160.2 43.7 158.8C45.9 157.4 49.8 156.6 51 156.1" stroke="#586898" stroke-width="3.3" stroke-linecap="round"/><path d="M30.6 169.3C31.8 168.5 35.7 166.3 37.9 164.6C40.1 162.8 41.5 160.2 43.7 158.8C45.9 157.4 49.8 156.6 51 156.1" stroke="#7f95c8" stroke-width="2.5" stroke-linecap="round"/><path d="M58.3 148.6C59.7 148.9 64.1 150.3 67 150.3C69.9 150.3 73.3 148.3 75.7 148.6C78.2 148.8 80.6 151.2 81.6 151.8" stroke="#977070" stroke-width="4.3" stroke-linecap="round"/><path d="M58.3 148.6C59.7 148.9 64.1 150.3 67 150.3C69.9 150.3 73.3 148.3 75.7 148.6C78.2 148.8 80.6 151.2 81.6 151.8" stroke="#d9a090" stroke-width="3.6" stroke-linecap="round"/><path d="M77.2 150.8C78.9 151.5 83.9 153.7 87.4 155.1C90.8 156.5 96.1 158.4 97.9 159.1" stroke="#2852a8" stroke-width="8" stroke-linecap="butt"/><path d="M77.2 150.8C78.9 151.5 83.9 153.7 87.4 155.1C90.8 156.5 96.1 158.4 97.9 159.1" stroke="#3a76e0" stroke-width="7.2" stroke-linecap="butt"/><path d="M100.5 154.4C100.3 155.4 99.8 158.3 99 160.2C98.3 162.2 97.3 165.1 96.1 166.1C94.9 167 92.5 166.1 91.8 166.1" stroke="#2852a8" stroke-width="4.3" stroke-linecap="round"/><path d="M100.5 154.4C100.3 155.4 99.8 158.3 99 160.2C98.3 162.2 97.3 165.1 96.1 166.1C94.9 167 92.5 166.1 91.8 166.1" stroke="#3a76e0" stroke-width="3.6" stroke-linecap="round"/><path d="M97.9 158.8 L104.9 156.7" stroke="#212c4f" stroke-width="2.8" stroke-linecap="round"/><path d="M97.9 158.8 L104.9 156.7" stroke="#304060" stroke-width="2" stroke-linecap="round"/><path d="M58.6 157.6 L60 166.3" stroke="#808caf" stroke-width="7" stroke-linecap="butt"/><path d="M58.6 157.6 L60 166.3" stroke="#b7c9ea" stroke-width="6.3" stroke-linecap="butt"/><path d="M64.1 162.6 L70.2 162.6" stroke="#9c2a1e" stroke-width="6.1" stroke-linecap="butt"/><path d="M64.1 162.6 L70.2 162.6" stroke="#e03c1a" stroke-width="5.3" stroke-linecap="butt"/><path d="M70.2 162.6 L75.7 164.6" stroke="#284b92" stroke-width="4.8" stroke-linecap="round"/><path d="M70.2 162.6 L75.7 164.6" stroke="#3a6cc0" stroke-width="4.1" stroke-linecap="round"/><path d="M75.7 164.6C76.7 164.4 79.6 163.1 81.6 163.1C83.5 163.1 86.4 164.4 87.4 164.6" stroke="#9c605a" stroke-width="4.8" stroke-linecap="round"/><path d="M75.7 164.6C76.7 164.4 79.6 163.1 81.6 163.1C83.5 163.1 86.4 164.4 87.4 164.6" stroke="#e08a70" stroke-width="4.1" stroke-linecap="round"/><path d="M87.4 164.6 L93.2 167.5" stroke="#212c4f" stroke-width="4.3" stroke-linecap="round"/><path d="M87.4 164.6 L93.2 167.5" stroke="#304060" stroke-width="3.6" stroke-linecap="round"/><path d="M99 166.1 L99.8 173.3" stroke="#977070" stroke-width="3.3" stroke-linecap="round"/><path d="M99 166.1 L99.8 173.3" stroke="#d9a090" stroke-width="2.5" stroke-linecap="round"/><path d="M112.2 123.1C112.9 122.1 114.6 118 116.5 117.3C118.5 116.5 121.6 118.1 123.8 118.7C126 119.3 127.7 121.3 129.6 120.9C131.6 120.5 133.5 117 135.5 116.5C137.4 116 139.6 116.5 141.3 118C143 119.4 144 123.4 145.7 125.3C147.4 127.1 149.6 128.2 151.5 128.9C153.4 129.6 156.1 129.5 157 129.6" stroke="#60333c" stroke-width="3.3" stroke-linecap="round"/><path d="M112.2 123.1C112.9 122.1 114.6 118 116.5 117.3C118.5 116.5 121.6 118.1 123.8 118.7C126 119.3 127.7 121.3 129.6 120.9C131.6 120.5 133.5 117 135.5 116.5C137.4 116 139.6 116.5 141.3 118C143 119.4 144 123.4 145.7 125.3C147.4 127.1 149.6 128.2 151.5 128.9C153.4 129.6 156.1 129.5 157 129.6" stroke="#8a4a45" stroke-width="2.5" stroke-linecap="round"/><path d="M159.1 128.2 L156.1 138.7" stroke="#808caf" stroke-width="6.2" stroke-linecap="round"/><path d="M159.1 128.2 L156.1 138.7" stroke="#b7c9ea" stroke-width="5.5" stroke-linecap="round"/><path d="M160.2 120.9C160.1 119.9 159.3 116.8 159.5 115.1C159.7 113.4 161.3 111.4 161.7 110.7" stroke="#86332d" stroke-width="4.4" stroke-linecap="round"/><path d="M160.2 120.9C160.1 119.9 159.3 116.8 159.5 115.1C159.7 113.4 161.3 111.4 161.7 110.7" stroke="#c04a30" stroke-width="3.6" stroke-linecap="round"/><path d="M161.7 110.7C162.7 110.2 165.4 107.7 167.5 107.5C169.6 107.3 173 109 174.1 109.2" stroke="#2852a8" stroke-width="5.5" stroke-linecap="round"/><path d="M161.7 110.7C162.7 110.2 165.4 107.7 167.5 107.5C169.6 107.3 173 109 174.1 109.2" stroke="#3a76e0" stroke-width="4.7" stroke-linecap="round"/><path d="M160.2 123.8C161.2 124.6 163.9 128 166.1 128.5C168.2 129 172.1 127 173.3 126.7" stroke="#2852a8" stroke-width="4.7" stroke-linecap="round"/><path d="M160.2 123.8C161.2 124.6 163.9 128 166.1 128.5C168.2 129 172.1 127 173.3 126.7" stroke="#3a76e0" stroke-width="4" stroke-linecap="round"/><path d="M166.1 122.4 L173.3 121.6" stroke="#9c3829" stroke-width="3.8" stroke-linecap="round"/><path d="M166.1 122.4 L173.3 121.6" stroke="#e0502a" stroke-width="3.1" stroke-linecap="round"/><path d="M172.6 115.1C173.9 115.3 178.3 116.5 180.6 116.5C183 116.5 185.7 115.3 186.7 115.1" stroke="#a1a3b6" stroke-width="6.4" stroke-linecap="butt"/><path d="M172.6 115.1C173.9 115.3 178.3 116.5 180.6 116.5C183 116.5 185.7 115.3 186.7 115.1" stroke="#e6eaf3" stroke-width="5.7" stroke-linecap="butt"/><path d="M193.7 87.4C193.8 88.6 193.4 92.5 194.5 94.7C195.5 96.9 199.4 98.6 199.8 100.5C200.3 102.4 198.4 104.6 196.9 106.3C195.4 108.1 191.8 110.2 190.8 111" stroke="#284b92" stroke-width="4.3" stroke-linecap="round"/><path d="M193.7 87.4C193.8 88.6 193.4 92.5 194.5 94.7C195.5 96.9 199.4 98.6 199.8 100.5C200.3 102.4 198.4 104.6 196.9 106.3C195.4 108.1 191.8 110.2 190.8 111" stroke="#3a6cc0" stroke-width="3.6" stroke-linecap="round"/><path d="M190.8 111C193 110.7 201 110 203.9 109.5C206.8 109 207.6 108.3 208.3 108.1" stroke="#284b92" stroke-width="6.2" stroke-linecap="round"/><path d="M190.8 111C193 110.7 201 110 203.9 109.5C206.8 109 207.6 108.3 208.3 108.1" stroke="#3a6cc0" stroke-width="5.5" stroke-linecap="round"/><path d="M182.1 116.5C183.5 116.3 188.6 114.8 190.8 115.1C193 115.3 194.5 117.5 195.2 118" stroke="#a1a3b6" stroke-width="3.3" stroke-linecap="round"/><path d="M182.1 116.5C183.5 116.3 188.6 114.8 190.8 115.1C193 115.3 194.5 117.5 195.2 118" stroke="#e6eaf3" stroke-width="2.5" stroke-linecap="round"/><path d="M208.3 108.1C208.4 109.5 209.4 113.9 209.2 116.5C208.9 119.1 207.2 122.6 206.8 123.8" stroke="#586898" stroke-width="3.3" stroke-linecap="round"/><path d="M208.3 108.1C208.4 109.5 209.4 113.9 209.2 116.5C208.9 119.1 207.2 122.6 206.8 123.8" stroke="#7f95c8" stroke-width="2.5" stroke-linecap="round"/><path d="M206.8 123.8 L201.3 128.5" stroke="#60333c" stroke-width="3.3" stroke-linecap="round"/><path d="M206.8 123.8 L201.3 128.5" stroke="#8a4a45" stroke-width="2.5" stroke-linecap="round"/><path d="M191.1 119.4C190.6 120.7 188.9 124.2 187.9 126.7C186.9 129.2 185.7 133 185.3 134.3" stroke="#9c605a" stroke-width="5.5" stroke-linecap="butt"/><path d="M191.1 119.4C190.6 120.7 188.9 124.2 187.9 126.7C186.9 129.2 185.7 133 185.3 134.3" stroke="#e08a70" stroke-width="4.7" stroke-linecap="butt"/><path d="M186.4 136.9 L188.2 145.9" stroke="#284b92" stroke-width="5.8" stroke-linecap="butt"/><path d="M186.4 136.9 L188.2 145.9" stroke="#3a6cc0" stroke-width="5" stroke-linecap="butt"/><path d="M193.7 116.5C194.5 117.7 197 121.4 198.1 123.8C199.2 126.2 200 129.9 200.4 131.1" stroke="#2852a8" stroke-width="3.8" stroke-linecap="round"/><path d="M193.7 116.5C194.5 117.7 197 121.4 198.1 123.8C199.2 126.2 200 129.9 200.4 131.1" stroke="#3a76e0" stroke-width="3.1" stroke-linecap="round"/><path d="M196.6 131.1C197.4 132.1 199.5 135.5 201 136.9C202.5 138.4 204.9 139.3 205.7 139.8" stroke="#977070" stroke-width="4" stroke-linecap="round"/><path d="M196.6 131.1C197.4 132.1 199.5 135.5 201 136.9C202.5 138.4 204.9 139.3 205.7 139.8" stroke="#d9a090" stroke-width="3.3" stroke-linecap="round"/><path d="M205.4 140.1C205.7 141.3 207.3 145.1 207.1 147.1C206.9 149.2 205 152.4 204.2 152.4C203.4 152.4 202.5 148.9 202.5 147.1C202.4 145.3 203.7 142.5 203.9 141.6" stroke="#86332d" stroke-width="2.8" stroke-linecap="round"/><path d="M205.4 140.1C205.7 141.3 207.3 145.1 207.1 147.1C206.9 149.2 205 152.4 204.2 152.4C203.4 152.4 202.5 148.9 202.5 147.1C202.4 145.3 203.7 142.5 203.9 141.6" stroke="#c04a30" stroke-width="2" stroke-linecap="round"/><path d="M169.3 131.1 L172.2 137.2" stroke="#70728a" stroke-width="6.2" stroke-linecap="round"/><path d="M169.3 131.1 L172.2 137.2" stroke="#a0a4b4" stroke-width="5.5" stroke-linecap="round"/><path d="M172.2 137.2C172.8 138.1 174.6 141.7 176.2 142.7C177.9 143.8 181.1 143.5 182.1 143.6" stroke="#284b92" stroke-width="3.3" stroke-linecap="round"/><path d="M172.2 137.2C172.8 138.1 174.6 141.7 176.2 142.7C177.9 143.8 181.1 143.5 182.1 143.6" stroke="#3a6cc0" stroke-width="2.5" stroke-linecap="round"/><path d="M182.1 143.6 L182.8 147.1" stroke="#977070" stroke-width="3.3" stroke-linecap="round"/><path d="M182.1 143.6 L182.8 147.1" stroke="#d9a090" stroke-width="2.5" stroke-linecap="round"/><path d="M182.8 147.1C182.2 148.3 180.8 152.2 179.5 154.4C178.1 156.6 175.6 159.3 174.8 160.2" stroke="#a1a3b6" stroke-width="3.8" stroke-linecap="round"/><path d="M182.8 147.1C182.2 148.3 180.8 152.2 179.5 154.4C178.1 156.6 175.6 159.3 174.8 160.2" stroke="#e6eaf3" stroke-width="3.1" stroke-linecap="round"/><path d="M174.8 160.2C175 160.8 174.8 163 176.2 163.4C177.7 163.8 181.3 163.3 183.5 162.6C185.7 161.8 188.4 159.4 189.4 158.8" stroke="#586898" stroke-width="3.8" stroke-linecap="round"/><path d="M174.8 160.2C175 160.8 174.8 163 176.2 163.4C177.7 163.8 181.3 163.3 183.5 162.6C185.7 161.8 188.4 159.4 189.4 158.8" stroke="#7f95c8" stroke-width="3.1" stroke-linecap="round"/><path d="M189.4 158.8C189.8 157.8 192.2 155.1 192.3 152.9C192.3 150.8 190.1 146.9 189.6 145.7" stroke="#284b92" stroke-width="3.8" stroke-linecap="round"/><path d="M189.4 158.8C189.8 157.8 192.2 155.1 192.3 152.9C192.3 150.8 190.1 146.9 189.6 145.7" stroke="#3a6cc0" stroke-width="3.1" stroke-linecap="round"/><ellipse cx="136.2" cy="177" rx="9" ry="9" stroke="#234283" stroke-width="4.8"/><ellipse cx="136.2" cy="177" rx="9" ry="9" stroke="#3a6cc0" stroke-width="4.1"/><path d="M144.9 178.4A7.3 7.3 0 0 1 134 184.8" stroke="#d9a090" stroke-width="3.1"/><ellipse cx="134.7" cy="176.2" rx="5.5" ry="5.5" stroke="#1d2747" stroke-width="3.3"/><ellipse cx="134.7" cy="176.2" rx="5.5" ry="5.5" stroke="#304060" stroke-width="2.5"/><ellipse cx="138.4" cy="175.5" rx="2.3" ry="2.3" stroke="#8e91a2" stroke-width="2.8"/><ellipse cx="138.4" cy="175.5" rx="2.3" ry="2.3" stroke="#e6eaf3" stroke-width="2"/><path d="M144.2 174.8C145.2 174.1 148.1 171.1 150 170.7C152 170.3 154.2 171.2 155.9 172.2C157.6 173.1 159.5 175.8 160.2 176.5" stroke="#2852a8" stroke-width="3.8" stroke-linecap="round"/><path d="M144.2 174.8C145.2 174.1 148.1 171.1 150 170.7C152 170.3 154.2 171.2 155.9 172.2C157.6 173.1 159.5 175.8 160.2 176.5" stroke="#3a76e0" stroke-width="3.1" stroke-linecap="round"/><path d="M162.4 176 L167.2 173.6" stroke="#9c2a1e" stroke-width="6.2" stroke-linecap="round"/><path d="M162.4 176 L167.2 173.6" stroke="#e03c1a" stroke-width="5.5" stroke-linecap="round"/><path d="M125.6 183.8C124.8 184.5 121.9 186.2 121.2 187.9C120.5 189.5 121.7 191.8 121.2 193.7C120.7 195.7 119.5 198.1 118.3 199.6C117.1 201 114.6 202 113.9 202.5" stroke="#4e2c33" stroke-width="3.3" stroke-linecap="round"/><path d="M125.6 183.8C124.8 184.5 121.9 186.2 121.2 187.9C120.5 189.5 121.7 191.8 121.2 193.7C120.7 195.7 119.5 198.1 118.3 199.6C117.1 201 114.6 202 113.9 202.5" stroke="#704038" stroke-width="2.5" stroke-linecap="round"/><path d="M113.9 202.5C112.9 201.5 109.7 197.2 108.1 196.9C106.5 196.7 104.5 199.1 104.3 201C104 202.9 106.2 207.1 106.6 208.3" stroke="#2852a8" stroke-width="3.3" stroke-linecap="round"/><path d="M113.9 202.5C112.9 201.5 109.7 197.2 108.1 196.9C106.5 196.7 104.5 199.1 104.3 201C104 202.9 106.2 207.1 106.6 208.3" stroke="#3a76e0" stroke-width="2.5" stroke-linecap="round"/><path d="M106.6 208.3C107.4 208 110.2 208 111 206.8C111.8 205.7 110.9 200.8 111.4 201.3C111.9 201.8 113.5 208.3 113.9 209.7" stroke="#a1a3b6" stroke-width="3.8" stroke-linecap="round"/><path d="M106.6 208.3C107.4 208 110.2 208 111 206.8C111.8 205.7 110.9 200.8 111.4 201.3C111.9 201.8 113.5 208.3 113.9 209.7" stroke="#e6eaf3" stroke-width="3.1" stroke-linecap="round"/><path d="M113.9 209.7C114.4 210.7 115.1 214.4 116.8 215.6C118.5 216.8 122.9 216.8 124.1 217" stroke="#2852a8" stroke-width="3.8" stroke-linecap="round"/><path d="M113.9 209.7C114.4 210.7 115.1 214.4 116.8 215.6C118.5 216.8 122.9 216.8 124.1 217" stroke="#3a76e0" stroke-width="3.1" stroke-linecap="round"/><path d="M140.1 198.1C141.5 196.6 145.7 192.3 148.6 189.4C151.5 186.4 156.1 182.1 157.6 180.6" stroke="#70728a" stroke-width="6.2" stroke-linecap="butt"/><path d="M140.1 198.1C141.5 196.6 145.7 192.3 148.6 189.4C151.5 186.4 156.1 182.1 157.6 180.6" stroke="#a0a4b4" stroke-width="5.5" stroke-linecap="butt"/><path d="M131.1 206.8C132.5 206.1 136.9 203.7 139.8 202.5C142.7 201.3 145.7 200.8 148.6 199.6C151.5 198.3 154.6 196 157.3 195.2C160 194.4 163.6 194.7 164.9 194.6" stroke="#9c605a" stroke-width="6.2" stroke-linecap="butt"/><path d="M131.1 206.8C132.5 206.1 136.9 203.7 139.8 202.5C142.7 201.3 145.7 200.8 148.6 199.6C151.5 198.3 154.6 196 157.3 195.2C160 194.4 163.6 194.7 164.9 194.6" stroke="#e08a70" stroke-width="5.5" stroke-linecap="butt"/><path d="M164.9 194.6 L170.7 195.2" stroke="#808caf" stroke-width="6.4" stroke-linecap="butt"/><path d="M164.9 194.6 L170.7 195.2" stroke="#b7c9ea" stroke-width="5.7" stroke-linecap="butt"/><path d="M170.7 195.2C172.4 195.7 178.1 197.7 180.6 198.1C183.1 198.5 184.9 197.5 185.7 197.4" stroke="#2852a8" stroke-width="8.9" stroke-linecap="butt"/><path d="M170.7 195.2C172.4 195.7 178.1 197.7 180.6 198.1C183.1 198.5 184.9 197.5 185.7 197.4" stroke="#3a76e0" stroke-width="8.2" stroke-linecap="butt"/><path d="M183.8 189.1L193.7 194.9L196.1 202.8L188.2 205.7L183.8 203.9Z" fill="#3a76e0" stroke="#234996" stroke-width="0.6"/><path d="M195.5 201.3C195.7 202.2 196.2 205.1 196.9 206.8C197.7 208.5 199.4 210.7 199.8 211.5" stroke="#977070" stroke-width="3.3" stroke-linecap="round"/><path d="M195.5 201.3C195.7 202.2 196.2 205.1 196.9 206.8C197.7 208.5 199.4 210.7 199.8 211.5" stroke="#d9a090" stroke-width="2.5" stroke-linecap="round"/><path d="M199.8 211.5 L204.2 214.1" stroke="#2852a8" stroke-width="3.3" stroke-linecap="round"/><path d="M199.8 211.5 L204.2 214.1" stroke="#3a76e0" stroke-width="2.5" stroke-linecap="round"/><path d="M125.6 211.2C126.5 210.8 129 208.8 131.1 208.6C133.2 208.4 137.2 209.8 138.4 210" stroke="#212c4f" stroke-width="3.3" stroke-linecap="round"/><path d="M125.6 211.2C126.5 210.8 129 208.8 131.1 208.6C133.2 208.4 137.2 209.8 138.4 210" stroke="#304060" stroke-width="2.5" stroke-linecap="round"/><path d="M139.8 209.5 L143.5 209.7" stroke="#124a56" stroke-width="4" stroke-linecap="round"/><path d="M139.8 209.5 L143.5 209.7" stroke="#1a6a6a" stroke-width="3.3" stroke-linecap="round"/><path d="M124.1 217C125.3 217.3 128.7 218.8 131.1 218.8C133.5 218.8 137.2 217.3 138.4 217" stroke="#2852a8" stroke-width="4.3" stroke-linecap="round"/><path d="M124.1 217C125.3 217.3 128.7 218.8 131.1 218.8C133.5 218.8 137.2 217.3 138.4 217" stroke="#3a76e0" stroke-width="3.6" stroke-linecap="round"/><path d="M138.4 215.9 L147.4 215.9" stroke="#9c2a1e" stroke-width="8" stroke-linecap="butt"/><path d="M138.4 215.9 L147.4 215.9" stroke="#e03c1a" stroke-width="7.2" stroke-linecap="butt"/><path d="M147.4 215.9C149.1 215.6 154.4 214.9 157.3 214.4C160.2 213.9 162.4 213 164.6 213C166.8 213 169.7 214.2 170.7 214.4" stroke="#2852a8" stroke-width="7" stroke-linecap="butt"/><path d="M147.4 215.9C149.1 215.6 154.4 214.9 157.3 214.4C160.2 213.9 162.4 213 164.6 213C166.8 213 169.7 214.2 170.7 214.4" stroke="#3a76e0" stroke-width="6.3" stroke-linecap="butt"/><path d="M170.7 214.4C171.9 214.7 175.5 216.4 177.7 216.4C179.9 216.4 182.8 214.7 183.8 214.4" stroke="#9c605a" stroke-width="5.8" stroke-linecap="butt"/><path d="M170.7 214.4C171.9 214.7 175.5 216.4 177.7 216.4C179.9 216.4 182.8 214.7 183.8 214.4" stroke="#e08a70" stroke-width="5.1" stroke-linecap="butt"/><path d="M183.8 214.4C184.7 213.9 187.4 212.2 189.4 211.5C191.3 210.8 194.5 210.3 195.5 210" stroke="#808caf" stroke-width="5.8" stroke-linecap="butt"/><path d="M183.8 214.4C184.7 213.9 187.4 212.2 189.4 211.5C191.3 210.8 194.5 210.3 195.5 210" stroke="#b7c9ea" stroke-width="5.1" stroke-linecap="butt"/></g></g></g><g id="ph"><text font-weight="bold" font-size="36.5" x="134.5" y="1750">h</text><rect x="526.6" y="1727.6" width="1120.4" height="20.7" fill="url(#cbar)" stroke="#1a1a1a" stroke-width="1.6"/><path d="M638.6 1727.6v9M750.7 1727.6v9M862.7 1727.6v9M974.8 1727.6v9M1086.8 1727.6v9M1198.8 1727.6v9M1310.9 1727.6v9M1422.9 1727.6v9M1535 1727.6v9" stroke="#1a1a1a" stroke-width="1.2" fill="none"/><text text-anchor="end" x="519.5" y="1747.2">0 %</text><text x="1656.6" y="1746.5">100 %</text><text text-anchor="middle" x="1124" y="1718">Growth Inhibition Rate</text><g shape-rendering="crispEdges"><rect x="264.1" y="1869.4" width="40.7" height="40.8" fill="#0371c1"/><rect x="304.5" y="1869.4" width="40.7" height="40.8" fill="#e0ecf8"/><rect x="344.9" y="1869.4" width="40.7" height="40.8" fill="#74b0dd"/><rect x="385.2" y="1869.4" width="40.7" height="40.8" fill="#deebf7"/><rect x="425.6" y="1869.4" width="40.7" height="40.8" fill="#deebf7"/><rect x="466" y="1869.4" width="40.7" height="40.8" fill="#dae9f6"/><rect x="506.4" y="1869.4" width="40.7" height="40.8" fill="#dceaf7"/><rect x="546.8" y="1869.4" width="40.7" height="40.8" fill="#9ac5e7"/><rect x="587.2" y="1869.4" width="40.7" height="40.8" fill="#91c0e4"/><rect x="627.5" y="1869.4" width="40.7" height="40.8" fill="#a8cdea"/><rect x="667.9" y="1869.4" width="40.7" height="40.8" fill="#acd0eb"/><rect x="708.3" y="1869.4" width="40.7" height="40.8" fill="#dceaf7"/><rect x="748.7" y="1869.4" width="40.7" height="40.8" fill="#dceaf7"/><rect x="789.1" y="1869.4" width="40.7" height="40.8" fill="#dceaf7"/><rect x="829.5" y="1869.4" width="40.7" height="40.8" fill="#308acc"/><rect x="869.9" y="1869.4" width="40.7" height="40.8" fill="#deebf7"/><rect x="910.2" y="1869.4" width="40.7" height="40.8" fill="#cae0f2"/><rect x="950.6" y="1869.4" width="40.7" height="40.8" fill="#dceaf7"/><rect x="991" y="1869.4" width="40.7" height="40.8" fill="#7fb6e0"/><rect x="1031.4" y="1869.4" width="40.7" height="40.8" fill="#529dd5"/><rect x="1071.8" y="1869.4" width="40.7" height="40.8" fill="#91c0e4"/><rect x="1112.2" y="1869.4" width="40.7" height="40.8" fill="#7fb6e0"/><rect x="1152.5" y="1869.4" width="40.7" height="40.8" fill="#5da3d7"/><rect x="1192.9" y="1869.4" width="40.7" height="40.8" fill="#8fbfe4"/><rect x="1233.3" y="1869.4" width="40.7" height="40.8" fill="#acd0eb"/><rect x="1273.7" y="1869.4" width="40.7" height="40.8" fill="#1e80c8"/><rect x="1314.1" y="1869.4" width="40.7" height="40.8" fill="#deebf7"/><rect x="1354.4" y="1869.4" width="40.7" height="40.8" fill="#79b3de"/><rect x="1394.8" y="1869.4" width="40.7" height="40.8" fill="#98c4e6"/><rect x="1435.2" y="1869.4" width="40.7" height="40.8" fill="#2081c8"/><rect x="1475.6" y="1869.4" width="40.7" height="40.8" fill="#378ece"/><rect x="1516" y="1869.4" width="40.7" height="40.8" fill="#2081c8"/><rect x="1556.4" y="1869.4" width="40.7" height="40.8" fill="#137ac5"/><rect x="1596.8" y="1869.4" width="40.7" height="40.8" fill="#64a7d9"/><rect x="1637.1" y="1869.4" width="40.7" height="40.8" fill="#59a1d6"/><rect x="1677.5" y="1869.4" width="40.7" height="40.8" fill="#acd0eb"/><rect x="1717.9" y="1869.4" width="40.7" height="40.8" fill="#deebf7"/><rect x="1758.3" y="1869.4" width="40.7" height="40.8" fill="#8bbde3"/><rect x="1798.7" y="1869.4" width="40.7" height="40.8" fill="#a8cdea"/><rect x="1839.1" y="1869.4" width="40.7" height="40.8" fill="#0e77c4"/><rect x="1879.4" y="1869.4" width="40.7" height="40.8" fill="#a8cdea"/><rect x="1919.8" y="1869.4" width="40.7" height="40.8" fill="#acd0eb"/><rect x="264.1" y="1909.9" width="40.7" height="40.8" fill="#0371c1"/><rect x="304.5" y="1909.9" width="40.7" height="40.8" fill="#e0ecf8"/><rect x="344.9" y="1909.9" width="40.7" height="40.8" fill="#0371c1"/><rect x="385.2" y="1909.9" width="40.7" height="40.8" fill="#cee2f3"/><rect x="425.6" y="1909.9" width="40.7" height="40.8" fill="#deebf7"/><rect x="466" y="1909.9" width="40.7" height="40.8" fill="#deebf7"/><rect x="506.4" y="1909.9" width="40.7" height="40.8" fill="#8bbde3"/><rect x="546.8" y="1909.9" width="40.7" height="40.8" fill="#0371c1"/><rect x="587.2" y="1909.9" width="40.7" height="40.8" fill="#6faddc"/><rect x="627.5" y="1909.9" width="40.7" height="40.8" fill="#358dcd"/><rect x="667.9" y="1909.9" width="40.7" height="40.8" fill="#0371c1"/><rect x="708.3" y="1909.9" width="40.7" height="40.8" fill="#c3dcf1"/><rect x="748.7" y="1909.9" width="40.7" height="40.8" fill="#4b99d3"/><rect x="789.1" y="1909.9" width="40.7" height="40.8" fill="#62a6d9"/><rect x="829.5" y="1909.9" width="40.7" height="40.8" fill="#1c7fc7"/><rect x="869.9" y="1909.9" width="40.7" height="40.8" fill="#bfdaef"/><rect x="910.2" y="1909.9" width="40.7" height="40.8" fill="#8fbfe4"/><rect x="950.6" y="1909.9" width="40.7" height="40.8" fill="#137ac5"/><rect x="991" y="1909.9" width="40.7" height="40.8" fill="#d7e7f6"/><rect x="1031.4" y="1909.9" width="40.7" height="40.8" fill="#0371c1"/><rect x="1071.8" y="1909.9" width="40.7" height="40.8" fill="#91c0e4"/><rect x="1112.2" y="1909.9" width="40.7" height="40.8" fill="#0371c1"/><rect x="1152.5" y="1909.9" width="40.7" height="40.8" fill="#acd0eb"/><rect x="1192.9" y="1909.9" width="40.7" height="40.8" fill="#9ac5e7"/><rect x="1233.3" y="1909.9" width="40.7" height="40.8" fill="#cee2f3"/><rect x="1273.7" y="1909.9" width="40.7" height="40.8" fill="#4b99d3"/><rect x="1314.1" y="1909.9" width="40.7" height="40.8" fill="#deebf7"/><rect x="1354.4" y="1909.9" width="40.7" height="40.8" fill="#cee2f3"/><rect x="1394.8" y="1909.9" width="40.7" height="40.8" fill="#bcd8ef"/><rect x="1435.2" y="1909.9" width="40.7" height="40.8" fill="#1a7ec7"/><rect x="1475.6" y="1909.9" width="40.7" height="40.8" fill="#9ac5e7"/><rect x="1516" y="1909.9" width="40.7" height="40.8" fill="#4b99d3"/><rect x="1556.4" y="1909.9" width="40.7" height="40.8" fill="#157bc5"/><rect x="1596.8" y="1909.9" width="40.7" height="40.8" fill="#64a7d9"/><rect x="1637.1" y="1909.9" width="40.7" height="40.8" fill="#0371c1"/><rect x="1677.5" y="1909.9" width="40.7" height="40.8" fill="#deebf7"/><rect x="1717.9" y="1909.9" width="40.7" height="40.8" fill="#dae9f6"/><rect x="1758.3" y="1909.9" width="40.7" height="40.8" fill="#86bae1"/><rect x="1798.7" y="1909.9" width="40.7" height="40.8" fill="#deebf7"/><rect x="1839.1" y="1909.9" width="40.7" height="40.8" fill="#0371c1"/><rect x="1879.4" y="1909.9" width="40.7" height="40.8" fill="#deebf7"/><rect x="1919.8" y="1909.9" width="40.7" height="40.8" fill="#deebf7"/><rect x="264.1" y="1950.4" width="40.7" height="40.8" fill="#0371c1"/><rect x="304.5" y="1950.4" width="40.7" height="40.8" fill="#e0ecf8"/><rect x="344.9" y="1950.4" width="40.7" height="40.8" fill="#a6cce9"/><rect x="385.2" y="1950.4" width="40.7" height="40.8" fill="#deebf7"/><rect x="425.6" y="1950.4" width="40.7" height="40.8" fill="#dae9f6"/><rect x="466" y="1950.4" width="40.7" height="40.8" fill="#deebf7"/><rect x="506.4" y="1950.4" width="40.7" height="40.8" fill="#c3dcf1"/><rect x="546.8" y="1950.4" width="40.7" height="40.8" fill="#a1c9e8"/><rect x="587.2" y="1950.4" width="40.7" height="40.8" fill="#b3d3ed"/><rect x="627.5" y="1950.4" width="40.7" height="40.8" fill="#358dcd"/><rect x="667.9" y="1950.4" width="40.7" height="40.8" fill="#cae0f2"/><rect x="708.3" y="1950.4" width="40.7" height="40.8" fill="#dceaf7"/><rect x="748.7" y="1950.4" width="40.7" height="40.8" fill="#308acc"/><rect x="789.1" y="1950.4" width="40.7" height="40.8" fill="#529dd5"/><rect x="829.5" y="1950.4" width="40.7" height="40.8" fill="#358dcd"/><rect x="869.9" y="1950.4" width="40.7" height="40.8" fill="#bfdaef"/><rect x="910.2" y="1950.4" width="40.7" height="40.8" fill="#e0ecf8"/><rect x="950.6" y="1950.4" width="40.7" height="40.8" fill="#cee2f3"/><rect x="991" y="1950.4" width="40.7" height="40.8" fill="#bfdaef"/><rect x="1031.4" y="1950.4" width="40.7" height="40.8" fill="#a1c9e8"/><rect x="1071.8" y="1950.4" width="40.7" height="40.8" fill="#9ac5e7"/><rect x="1112.2" y="1950.4" width="40.7" height="40.8" fill="#62a6d9"/><rect x="1152.5" y="1950.4" width="40.7" height="40.8" fill="#7fb6e0"/><rect x="1192.9" y="1950.4" width="40.7" height="40.8" fill="#96c3e5"/><rect x="1233.3" y="1950.4" width="40.7" height="40.8" fill="#a1c9e8"/><rect x="1273.7" y="1950.4" width="40.7" height="40.8" fill="#0a75c3"/><rect x="1314.1" y="1950.4" width="40.7" height="40.8" fill="#cae0f2"/><rect x="1354.4" y="1950.4" width="40.7" height="40.8" fill="#9dc7e7"/><rect x="1394.8" y="1950.4" width="40.7" height="40.8" fill="#afd1ec"/><rect x="1435.2" y="1950.4" width="40.7" height="40.8" fill="#358dcd"/><rect x="1475.6" y="1950.4" width="40.7" height="40.8" fill="#7fb6e0"/><rect x="1516" y="1950.4" width="40.7" height="40.8" fill="#157bc5"/><rect x="1556.4" y="1950.4" width="40.7" height="40.8" fill="#0a75c3"/><rect x="1596.8" y="1950.4" width="40.7" height="40.8" fill="#4093d0"/><rect x="1637.1" y="1950.4" width="40.7" height="40.8" fill="#c3dcf1"/><rect x="1677.5" y="1950.4" width="40.7" height="40.8" fill="#bfdaef"/><rect x="1717.9" y="1950.4" width="40.7" height="40.8" fill="#a8cdea"/><rect x="1758.3" y="1950.4" width="40.7" height="40.8" fill="#8bbde3"/><rect x="1798.7" y="1950.4" width="40.7" height="40.8" fill="#c3dcf1"/><rect x="1839.1" y="1950.4" width="40.7" height="40.8" fill="#3c90cf"/><rect x="1879.4" y="1950.4" width="40.7" height="40.8" fill="#cee2f3"/><rect x="1919.8" y="1950.4" width="40.7" height="40.8" fill="#dae9f6"/><rect x="264.1" y="1990.9" width="40.7" height="40.8" fill="#0371c1"/><rect x="304.5" y="1990.9" width="40.7" height="40.8" fill="#e0ecf8"/><rect x="344.9" y="1990.9" width="40.7" height="40.8" fill="#4b99d3"/><rect x="385.2" y="1990.9" width="40.7" height="40.8" fill="#b8d6ee"/><rect x="425.6" y="1990.9" width="40.7" height="40.8" fill="#deebf7"/><rect x="466" y="1990.9" width="40.7" height="40.8" fill="#c3dcf1"/><rect x="506.4" y="1990.9" width="40.7" height="40.8" fill="#cee2f3"/><rect x="546.8" y="1990.9" width="40.7" height="40.8" fill="#a8cdea"/><rect x="587.2" y="1990.9" width="40.7" height="40.8" fill="#96c3e5"/><rect x="627.5" y="1990.9" width="40.7" height="40.8" fill="#0e77c4"/><rect x="667.9" y="1990.9" width="40.7" height="40.8" fill="#c3dcf1"/><rect x="708.3" y="1990.9" width="40.7" height="40.8" fill="#c8dff2"/><rect x="748.7" y="1990.9" width="40.7" height="40.8" fill="#358dcd"/><rect x="789.1" y="1990.9" width="40.7" height="40.8" fill="#2081c8"/><rect x="829.5" y="1990.9" width="40.7" height="40.8" fill="#62a6d9"/><rect x="869.9" y="1990.9" width="40.7" height="40.8" fill="#c3dcf1"/><rect x="910.2" y="1990.9" width="40.7" height="40.8" fill="#e0ecf8"/><rect x="950.6" y="1990.9" width="40.7" height="40.8" fill="#9ac5e7"/><rect x="991" y="1990.9" width="40.7" height="40.8" fill="#b1d2ec"/><rect x="1031.4" y="1990.9" width="40.7" height="40.8" fill="#c3dcf1"/><rect x="1071.8" y="1990.9" width="40.7" height="40.8" fill="#9ac5e7"/><rect x="1112.2" y="1990.9" width="40.7" height="40.8" fill="#308acc"/><rect x="1152.5" y="1990.9" width="40.7" height="40.8" fill="#c3dcf1"/><rect x="1192.9" y="1990.9" width="40.7" height="40.8" fill="#b8d6ee"/><rect x="1233.3" y="1990.9" width="40.7" height="40.8" fill="#7fb6e0"/><rect x="1273.7" y="1990.9" width="40.7" height="40.8" fill="#0a75c3"/><rect x="1314.1" y="1990.9" width="40.7" height="40.8" fill="#e0ecf8"/><rect x="1354.4" y="1990.9" width="40.7" height="40.8" fill="#4b99d3"/><rect x="1394.8" y="1990.9" width="40.7" height="40.8" fill="#aaceea"/><rect x="1435.2" y="1990.9" width="40.7" height="40.8" fill="#2584c9"/><rect x="1475.6" y="1990.9" width="40.7" height="40.8" fill="#acd0eb"/><rect x="1516" y="1990.9" width="40.7" height="40.8" fill="#358dcd"/><rect x="1556.4" y="1990.9" width="40.7" height="40.8" fill="#0e77c4"/><rect x="1596.8" y="1990.9" width="40.7" height="40.8" fill="#378ece"/><rect x="1637.1" y="1990.9" width="40.7" height="40.8" fill="#a6cce9"/><rect x="1677.5" y="1990.9" width="40.7" height="40.8" fill="#9dc7e7"/><rect x="1717.9" y="1990.9" width="40.7" height="40.8" fill="#4b99d3"/><rect x="1758.3" y="1990.9" width="40.7" height="40.8" fill="#7fb6e0"/><rect x="1798.7" y="1990.9" width="40.7" height="40.8" fill="#a1c9e8"/><rect x="1839.1" y="1990.9" width="40.7" height="40.8" fill="#2584c9"/><rect x="1879.4" y="1990.9" width="40.7" height="40.8" fill="#91c0e4"/><rect x="1919.8" y="1990.9" width="40.7" height="40.8" fill="#8bbde3"/></g><rect x="264.1" y="1869.4" width="1696.1" height="162" fill="none" stroke="#333" stroke-width="1.6"/><text text-anchor="end" font-style="italic" font-size="27.8" x="252.2" y="1901.7">P. aeruginosa 27853</text><text text-anchor="end" font-style="italic" font-size="27.8" x="253.4" y="1944.9">E. coli 25404</text><text text-anchor="end" font-style="italic" font-size="27.8" x="249.8" y="1984.7">S. aureus 6538</text><text text-anchor="end" font-style="italic" font-size="27.8" x="249.4" y="2031.4">B. subtilis 23857</text><text transform="translate(286.2 1860.8) rotate(-45)">PC</text><text transform="translate(331.1 1864.7) rotate(-45)">NC</text><text transform="translate(372.3 1865.2) rotate(-45)">AMP 1</text><text transform="translate(413.3 1865.2) rotate(-45)">AMP 2</text><text transform="translate(458.3 1858.2) rotate(-45)">AMP 3</text><text transform="translate(493.6 1861.8) rotate(-45)">AMP 4</text><text transform="translate(528.9 1861.8) rotate(-45)">AMP 5</text><text transform="translate(571.9 1861.8) rotate(-45)">AMP 6</text><text transform="translate(614 1861.8) rotate(-45)">AMP 7</text><text transform="translate(656 1862.4) rotate(-45)">AMP 8</text><text transform="translate(689.6 1861.8) rotate(-45)">AMP 9</text><text transform="translate(732.4 1859.8) rotate(-45)">AMP 10</text><text transform="translate(772.8 1861.8) rotate(-45)">AMP 11</text><text transform="translate(812.3 1864) rotate(-45)">AMP 12</text><text transform="translate(856.1 1862.4) rotate(-45)">AMP 13</text><text transform="translate(893.9 1859) rotate(-45)">AMP 14</text><text transform="translate(926.7 1864.9) rotate(-45)">AMP 15</text><text transform="translate(972.1 1864.9) rotate(-45)">AMP 16</text><text transform="translate(1019.2 1860.7) rotate(-45)">AMP 17</text><text transform="translate(1055.3 1864) rotate(-45)">AMP 18</text><text transform="translate(1098.2 1864) rotate(-45)">AMP 19</text><text transform="translate(1134.5 1863.2) rotate(-45)">AMP 20</text><text transform="translate(1173.1 1861.8) rotate(-45)">AMP 21</text><text transform="translate(1215.1 1863.5) rotate(-45)">AMP 22</text><text transform="translate(1252.9 1863.2) rotate(-45)">AMP 23</text><text transform="translate(1296.6 1864) rotate(-45)">AMP 24</text><text transform="translate(1334.5 1865.7) rotate(-45)">AMP 25</text><text transform="translate(1373.9 1865.7) rotate(-45)">AMP 26</text><text transform="translate(1416.1 1861.8) rotate(-45)">AMP 27</text><text transform="translate(1456.5 1861.8) rotate(-45)">AMP 28</text><text transform="translate(1496.8 1863.2) rotate(-45)">AMP 29</text><text transform="translate(1541.3 1863.5) rotate(-45)">AMP 30</text><text transform="translate(1580 1864) rotate(-45)">AMP 31</text><text transform="translate(1618.7 1858.2) rotate(-45)">AMP 32</text><text transform="translate(1663.2 1858.2) rotate(-45)">AMP 33</text><text transform="translate(1696.1 1864.9) rotate(-45)">AMP 34</text><text transform="translate(1736.5 1865.7) rotate(-45)">AMP 35</text><text transform="translate(1780.2 1863.2) rotate(-45)">AMP 36</text><text transform="translate(1812.1 1863.5) rotate(-45)">AMP 37</text><text transform="translate(1858.3 1863.2) rotate(-45)">AMP 38</text><text transform="translate(1902.9 1860.7) rotate(-45)">AMP 39</text><text transform="translate(1937.3 1860.7) rotate(-45)">AMP 40</text><text text-anchor="end" transform="translate(374.6 2046.3) rotate(-90)">Unknown</text><text text-anchor="end" font-style="italic" transform="translate(419.1 2045.1) rotate(-90)">Segatella copri</text><text text-anchor="end" font-style="italic" transform="translate(455.3 2045.1) rotate(-90)">Segatella copri</text><text text-anchor="end" font-style="italic" transform="translate(497.3 2046.3) rotate(-90)">Phocaeicola vulgatus</text><text text-anchor="end" font-style="italic" transform="translate(538.5 2045.6) rotate(-90)">Segatella copri</text><text text-anchor="end" transform="translate(576.5 2046.3) rotate(-90)">Unknown</text><text text-anchor="end" font-style="italic" transform="translate(618.8 2046.3) rotate(-90)">Segatella copri</text><text text-anchor="end" font-style="italic" transform="translate(660.7 2046.3) rotate(-90)">Segatella copri</text><text text-anchor="end" font-style="italic" transform="translate(704.6 2047) rotate(-90)">Segatella copri</text><text text-anchor="end" font-style="italic" transform="translate(741 2047) rotate(-90)">Segatella copri</text><text text-anchor="end" font-style="italic" transform="translate(778.4 2041.5) rotate(-90)">Caudoviricetes sp.</text><text text-anchor="end" font-style="italic" transform="translate(818.8 2044) rotate(-90)">Segatella copri</text><text text-anchor="end" font-style="italic" transform="translate(858 2044) rotate(-90)">Segatella copri</text><text text-anchor="end" font-style="italic" transform="translate(894.8 2044.6) rotate(-90)">Segatella copri</text><text text-anchor="end" font-style="italic" transform="translate(939.4 2041.6) rotate(-90)">Escherichia coli</text><text text-anchor="end" font-style="italic" transform="translate(980.3 2044) rotate(-90)">Escherichia coli</text><text text-anchor="end" font-style="italic" transform="translate(1020.2 2044) rotate(-90)">Segatella copri</text><text text-anchor="end" font-style="italic" transform="translate(1061.1 2042.3) rotate(-90)">Escherichia coli</text><text text-anchor="end" font-style="italic" transform="translate(1101.5 2044) rotate(-90)">Segatella copri</text><text text-anchor="end" transform="translate(1142.8 2046.3) rotate(-90)">Unknown</text><text text-anchor="end" font-style="italic" transform="translate(1184.1 2044) rotate(-90)">Segatella copri</text><text text-anchor="end" font-style="italic" transform="translate(1227.3 2043.5) rotate(-90)">Enterococcus faecium</text><text text-anchor="end" font-style="italic" transform="translate(1267.7 2042.3) rotate(-90)">Segatella copri</text><text text-anchor="end" font-style="italic" transform="translate(1305.8 2042.3) rotate(-90)">Segatella copri</text><text text-anchor="end" font-style="italic" transform="translate(1343.8 2040.5) rotate(-90)">Eubacterium sp.</text><text text-anchor="end" font-style="italic" transform="translate(1380.6 2044.6) rotate(-90)">Segatella copri</text><text text-anchor="end" transform="translate(1423.3 2045.4) rotate(-90)">Unknown</text><text text-anchor="end" font-style="italic" transform="translate(1460.9 2045.1) rotate(-90)">Segatella copri</text><text text-anchor="end" font-style="italic" transform="translate(1505.3 2044.6) rotate(-90)">Segatella copri</text><text text-anchor="end" font-style="italic" transform="translate(1545.7 2044.6) rotate(-90)">Segatella copri</text><text text-anchor="end" font-style="italic" transform="translate(1586.8 2045.6) rotate(-90)">Segatella copri</text><text text-anchor="end" transform="translate(1628.8 2043.2) rotate(-90)">Unknown</text><text text-anchor="end" font-style="italic" transform="translate(1663.3 2041.6) rotate(-90)">Segatella copri</text><text text-anchor="end" font-style="italic" transform="translate(1700.2 2042.8) rotate(-90)">Segatella copri</text><text text-anchor="end" font-style="italic" transform="translate(1745.2 2041.6) rotate(-90)">Segatella copri</text><text text-anchor="end" font-style="italic" transform="translate(1786.4 2041.6) rotate(-90)">Segatella copri</text><text text-anchor="end" transform="translate(1828.4 2044) rotate(-90)">Unknown</text><text text-anchor="end" font-style="italic" transform="translate(1868.7 2041.6) rotate(-90)">Segatella copri</text><text text-anchor="end" font-style="italic" transform="translate(1907.9 2041.6) rotate(-90)">Segatella copri</text><text text-anchor="end" transform="translate(1949.5 2044) rotate(-90)"><tspan font-style="italic">Subdoligranulum</tspan> strain</text></g>
</svg>
</body></html>
